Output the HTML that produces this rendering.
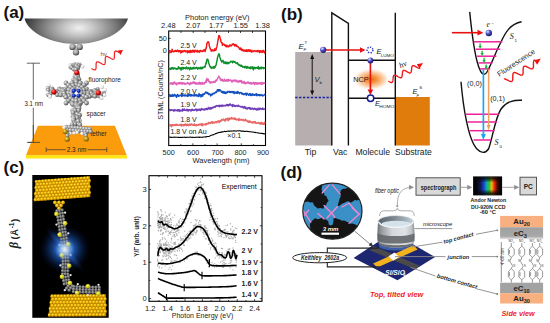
<!DOCTYPE html>
<html><head><meta charset="utf-8"><style>
html,body{margin:0;padding:0;background:#fff;}
svg{display:block;}
text{font-family:"Liberation Sans",sans-serif;}
</style></head><body>
<svg width="550" height="323" viewBox="0 0 550 323">
<rect width="550" height="323" fill="#fff"/>
<defs>
<radialGradient id="tipg" cx="79" cy="28" r="56" gradientUnits="userSpaceOnUse" gradientTransform="translate(79 28) scale(1 0.5) translate(-79 -28)">
 <stop offset="0" stop-color="#f0f0f0"/><stop offset="0.25" stop-color="#c8c8c8"/><stop offset="0.6" stop-color="#858585"/><stop offset="0.9" stop-color="#474747"/><stop offset="1" stop-color="#303030"/></radialGradient>
<radialGradient id="atom" cx="0.35" cy="0.35" r="0.7"><stop offset="0" stop-color="#ffffff"/><stop offset="0.5" stop-color="#b8b8b8"/><stop offset="1" stop-color="#606060"/></radialGradient>
<radialGradient id="atomg" cx="0.35" cy="0.35" r="0.7"><stop offset="0" stop-color="#eeeeee"/><stop offset="0.5" stop-color="#9a9a9a"/><stop offset="1" stop-color="#444444"/></radialGradient>
<radialGradient id="atomw" cx="0.35" cy="0.35" r="0.7"><stop offset="0" stop-color="#ffffff"/><stop offset="0.6" stop-color="#e8e8e8"/><stop offset="1" stop-color="#a0a0a0"/></radialGradient>
<radialGradient id="atomt" cx="0.4" cy="0.35" r="0.65"><stop offset="0" stop-color="#d4d4d4"/><stop offset="0.55" stop-color="#9a9a9a"/><stop offset="1" stop-color="#3a3a3a"/></radialGradient>
<radialGradient id="atomy2" cx="0.35" cy="0.35" r="0.7"><stop offset="0" stop-color="#f0e070"/><stop offset="0.5" stop-color="#b89010"/><stop offset="1" stop-color="#705000"/></radialGradient>
<radialGradient id="atomr" cx="0.35" cy="0.35" r="0.7"><stop offset="0" stop-color="#ff9090"/><stop offset="0.5" stop-color="#e01010"/><stop offset="1" stop-color="#800000"/></radialGradient>
<radialGradient id="atomb" cx="0.35" cy="0.35" r="0.7"><stop offset="0" stop-color="#8090ff"/><stop offset="0.5" stop-color="#1030c0"/><stop offset="1" stop-color="#001060"/></radialGradient>
<radialGradient id="atomy" cx="0.38" cy="0.35" r="0.7"><stop offset="0" stop-color="#ffe860"/><stop offset="0.45" stop-color="#f2b800"/><stop offset="1" stop-color="#b07a00"/></radialGradient>
<radialGradient id="atoms" cx="0.38" cy="0.35" r="0.7"><stop offset="0" stop-color="#ffff90"/><stop offset="0.5" stop-color="#d8d020"/><stop offset="1" stop-color="#909000"/></radialGradient>
<radialGradient id="atomc" cx="0.38" cy="0.35" r="0.7"><stop offset="0" stop-color="#b0b0b0"/><stop offset="0.5" stop-color="#767676"/><stop offset="1" stop-color="#353535"/></radialGradient>
<radialGradient id="ball" cx="0.35" cy="0.3" r="0.75"><stop offset="0" stop-color="#e8e8ff"/><stop offset="0.45" stop-color="#5050c8"/><stop offset="1" stop-color="#101060"/></radialGradient>
<radialGradient id="ncp" cx="0.55" cy="0.5" r="0.5"><stop offset="0" stop-color="#f06a00" stop-opacity="1"/><stop offset="0.35" stop-color="#f58a30" stop-opacity="0.85"/><stop offset="0.7" stop-color="#f8b070" stop-opacity="0.55"/><stop offset="1" stop-color="#fde0c8" stop-opacity="0"/></radialGradient>
<radialGradient id="glow" cx="0.5" cy="0.5" r="0.5"><stop offset="0" stop-color="#80c0ff"/><stop offset="0.3" stop-color="#2a70d8" stop-opacity="0.85"/><stop offset="0.65" stop-color="#103880" stop-opacity="0.45"/><stop offset="1" stop-color="#000010" stop-opacity="0"/></radialGradient>
<radialGradient id="glow2" cx="0.5" cy="0.5" r="0.5"><stop offset="0" stop-color="#5090f0" stop-opacity="0.6"/><stop offset="0.6" stop-color="#2050b0" stop-opacity="0.3"/><stop offset="1" stop-color="#102050" stop-opacity="0"/></radialGradient>
<radialGradient id="glowc" cx="0.5" cy="0.5" r="0.5"><stop offset="0" stop-color="#ffffff" stop-opacity="0.9"/><stop offset="0.4" stop-color="#c8e8ff" stop-opacity="0.6"/><stop offset="1" stop-color="#60a0ff" stop-opacity="0"/></radialGradient>
<linearGradient id="cyl" x1="0" x2="1" y1="0" y2="0"><stop offset="0" stop-color="#707478"/><stop offset="0.12" stop-color="#9a9ea2"/><stop offset="0.4" stop-color="#d4d8dc"/><stop offset="0.75" stop-color="#dfe3e6"/><stop offset="0.92" stop-color="#c0c4c8"/><stop offset="1" stop-color="#8a8e92"/></linearGradient>
<linearGradient id="objtop" x1="0" x2="1" y1="0" y2="0"><stop offset="0" stop-color="#5a646c"/><stop offset="0.45" stop-color="#7e8890"/><stop offset="0.8" stop-color="#a8b4bc"/><stop offset="1" stop-color="#c8d4dc"/></linearGradient>
<linearGradient id="spec" x1="0" x2="1" y1="0" y2="0"><stop offset="0" stop-color="#050505"/><stop offset="0.18" stop-color="#101850"/><stop offset="0.32" stop-color="#1840d0"/><stop offset="0.45" stop-color="#10b0a0"/><stop offset="0.55" stop-color="#30c030"/><stop offset="0.65" stop-color="#e8c000"/><stop offset="0.76" stop-color="#f03010"/><stop offset="0.88" stop-color="#501000"/><stop offset="1" stop-color="#050505"/></linearGradient>
<linearGradient id="specv" x1="0" x2="0" y1="0" y2="1"><stop offset="0" stop-color="#050505" stop-opacity="1"/><stop offset="0.3" stop-color="#050505" stop-opacity="0"/><stop offset="0.7" stop-color="#050505" stop-opacity="0"/><stop offset="1" stop-color="#050505" stop-opacity="1"/></linearGradient>
<marker id="arrR" markerWidth="6" markerHeight="6" refX="5" refY="3" orient="auto" markerUnits="userSpaceOnUse"><path d="M0,0 L6,3 L0,6 z" fill="#e01010"/></marker>
<marker id="arrK" markerWidth="5" markerHeight="5" refX="4" refY="2.5" orient="auto" markerUnits="userSpaceOnUse"><path d="M0,0 L5,2.5 L0,5 z" fill="#000"/></marker>
<marker id="arrG" markerWidth="5" markerHeight="5" refX="4" refY="2.5" orient="auto" markerUnits="userSpaceOnUse"><path d="M0,0 L5,2.5 L0,5 z" fill="#909090"/></marker>
<marker id="arrC" markerWidth="5" markerHeight="5" refX="4" refY="2.5" orient="auto" markerUnits="userSpaceOnUse"><path d="M0,0 L5,2.5 L0,5 z" fill="#20a8f0"/></marker>
<marker id="arrO" markerWidth="5" markerHeight="5" refX="4" refY="2.5" orient="auto" markerUnits="userSpaceOnUse"><path d="M0,0 L5,2.5 L0,5 z" fill="#f0a060"/></marker>
<marker id="arrGr" markerWidth="4" markerHeight="4" refX="3" refY="2" orient="auto" markerUnits="userSpaceOnUse"><path d="M0,0 L4,2 L0,4 z" fill="#10b030"/></marker>
</defs>
<text x="3.5" y="17.9" font-size="17" text-anchor="start" font-weight="bold" fill="#111" >(a)</text>
<path d="M24.5,18.5 L128,18.5 C124,33 100,44 76,44 C52,44 28,33 24.5,18.5 Z" fill="url(#tipg)"/>
<circle cx="72.6" cy="46.9" r="3.2" fill="url(#atomt)"/>
<circle cx="79.6" cy="46.9" r="3.2" fill="url(#atomt)"/>
<circle cx="76" cy="52.3" r="3.2" fill="url(#atomt)"/>
<polyline points="91.50,68.50 91.97,68.77 92.43,69.04 92.88,69.28 93.32,69.50 93.73,69.67 94.11,69.80 94.47,69.88 94.79,69.90 95.07,69.86 95.32,69.75 95.53,69.58 95.70,69.34 95.84,69.04 95.94,68.69 96.01,68.28 96.06,67.83 96.08,67.34 96.09,66.82 96.09,66.29 96.08,65.74 96.08,65.20 96.08,64.67 96.09,64.16 96.12,63.68 96.18,63.25 96.26,62.86 96.37,62.52 96.52,62.24 96.70,62.03 96.93,61.88 97.18,61.79 97.48,61.77 97.81,61.81 98.18,61.90 98.57,62.05 98.99,62.24 99.43,62.46 99.89,62.71 100.35,62.98 100.82,63.26 101.29,63.53 101.75,63.79 102.20,64.02 102.62,64.23 103.03,64.39 103.40,64.50 103.75,64.56 104.05,64.56 104.33,64.49 104.56,64.36 104.76,64.17 104.92,63.91 105.04,63.60 105.13,63.22 105.20,62.80 105.24,62.34 105.25,61.84 105.26,61.31 105.25,60.77 105.25,60.23 105.24,59.69 105.25,59.16 105.26,58.66 105.30,58.20 105.37,57.78 105.46,57.40 105.58,57.09 105.74,56.83 105.94,56.64 106.17,56.51 106.45,56.44 106.75,56.44 107.10,56.50 107.47,56.61 107.88,56.77 108.30,56.98 108.75,57.21 109.21,57.47 109.68,57.74 110.15,58.02 110.61,58.29 111.07,58.54 111.51,58.76 111.93,58.95 112.32,59.10 112.69,59.19 113.02,59.23 113.32,59.21 113.57,59.12 113.80,58.97 113.98,58.76 114.13,58.48 114.24,58.14 114.32,57.75 114.38,57.32 114.41,56.84 114.42,56.33 114.42,55.80 114.42,55.26 114.41,54.71 114.41,54.18 114.42,53.66 114.44,53.17 114.49,52.72 114.56,52.31 114.66,51.96 114.80,51.66 114.97,51.42 115.18,51.25 115.43,51.14 115.71,51.10 116.03,51.12 116.39,51.20 116.77,51.33 117.18,51.50 117.62,51.72 118.07,51.96 118.53,52.23 119.00,52.50" fill="none" stroke="#f02020" stroke-width="1.2" stroke-linejoin="round" />
<path d="M117.5,50.5 L123,50 L120.5,55 Z" fill="#f01010"/>
<text x="100.5" y="55.5" font-size="6" text-anchor="start" fill="#555" >h&#957;</text>
<g stroke="#333" stroke-width="0.75"><line x1="33.3" y1="63.2" x2="33.3" y2="142.4"/><line x1="26.8" y1="63.2" x2="40" y2="63.2"/><line x1="27.4" y1="142.4" x2="40" y2="142.4"/></g>
<rect x="23.5" y="99.6" width="21" height="8.1" fill="#fff"/>
<text x="24.5" y="105.8" font-size="6.5" text-anchor="start" fill="#222" textLength="18.6" lengthAdjust="spacingAndGlyphs">3.1 nm</text>
<path d="M37.9,125.7 L114.9,125.7 L126.8,155.5 L25.9,155.5 Z" fill="#fb9c0c"/>
<path d="M25.9,155.3 L126.9,155.3 L126.9,158.6 L25.9,158.6 Z" fill="#ffe414"/>
<g stroke="#333" stroke-width="0.75"><line x1="33.3" y1="125" x2="33.3" y2="142.4"/><line x1="27.4" y1="142.4" x2="40" y2="142.4"/></g>
<g stroke="#333" stroke-width="0.7"><line x1="46.2" y1="149.7" x2="65.8" y2="149.7"/><line x1="87.6" y1="149.7" x2="106.8" y2="149.7"/><line x1="46.2" y1="147.3" x2="46.2" y2="152.1"/><line x1="106.8" y1="147.3" x2="106.8" y2="152.1"/></g>
<text x="76.5" y="152" font-size="6.4" text-anchor="middle" fill="#222" >2.3 nm</text>
<text x="88.5" y="81.8" font-size="6.4" text-anchor="start" fill="#222" >fluorophore</text>
<text x="86.5" y="115.6" font-size="6.4" text-anchor="start" fill="#222" >spacer</text>
<text x="90.5" y="136.4" font-size="6.3" text-anchor="start" fill="#222" >tether</text>
<circle cx="74.0" cy="63.5" r="1.9" fill="url(#atomw)"/>
<circle cx="79.0" cy="63.5" r="1.9" fill="url(#atomw)"/>
<circle cx="74.7" cy="64.5" r="2.1" fill="url(#atomg)"/>
<circle cx="77.5" cy="64.7" r="2.1" fill="url(#atomg)"/>
<circle cx="80.0" cy="65.3" r="2.1" fill="url(#atomg)"/>
<circle cx="73.0" cy="65.4" r="2.1" fill="url(#atomg)"/>
<circle cx="70.6" cy="65.6" r="2.1" fill="url(#atomg)"/>
<circle cx="78.5" cy="65.6" r="2.1" fill="url(#atomg)"/>
<circle cx="76.2" cy="65.9" r="2.1" fill="url(#atomg)"/>
<circle cx="70.0" cy="66.0" r="1.9" fill="url(#atomw)"/>
<circle cx="82.5" cy="66.5" r="1.9" fill="url(#atomw)"/>
<circle cx="77.7" cy="67.3" r="2.1" fill="url(#atomg)"/>
<circle cx="70.9" cy="67.3" r="2.1" fill="url(#atomg)"/>
<circle cx="71.6" cy="67.5" r="2.1" fill="url(#atomg)"/>
<circle cx="77.9" cy="68.6" r="2.1" fill="url(#atomg)"/>
<circle cx="76.4" cy="69.2" r="2.1" fill="url(#atomg)"/>
<circle cx="73.6" cy="69.3" r="2.1" fill="url(#atomg)"/>
<circle cx="75.9" cy="69.5" r="2.1" fill="url(#atomg)"/>
<circle cx="77.8" cy="74.8" r="2.2" fill="url(#atomg)"/>
<circle cx="75.2" cy="75.2" r="2.2" fill="url(#atomg)"/>
<circle cx="74.9" cy="76.6" r="2.2" fill="url(#atomg)"/>
<circle cx="77.9" cy="76.7" r="2.2" fill="url(#atomg)"/>
<circle cx="76.3" cy="77.4" r="2.2" fill="url(#atomg)"/>
<circle cx="79.0" cy="79.3" r="2.2" fill="url(#atomg)"/>
<circle cx="73.5" cy="79.6" r="2.2" fill="url(#atomg)"/>
<circle cx="75.2" cy="80.0" r="2.2" fill="url(#atomg)"/>
<circle cx="76.9" cy="80.2" r="2.2" fill="url(#atomg)"/>
<circle cx="76.9" cy="80.9" r="2.2" fill="url(#atomg)"/>
<circle cx="76.0" cy="81.0" r="2.4" fill="url(#atomg)"/>
<circle cx="76.2" cy="82.0" r="2.4" fill="url(#atomg)"/>
<circle cx="72.0" cy="82.8" r="2.4" fill="url(#atomg)"/>
<circle cx="80.4" cy="82.8" r="2.4" fill="url(#atomg)"/>
<circle cx="66.0" cy="83.0" r="2.4" fill="url(#atomg)"/>
<circle cx="86.5" cy="83.0" r="2.4" fill="url(#atomg)"/>
<circle cx="76.2" cy="85.0" r="2.4" fill="url(#atomg)"/>
<circle cx="68.4" cy="85.2" r="2.4" fill="url(#atomg)"/>
<circle cx="84.0" cy="85.2" r="2.4" fill="url(#atomg)"/>
<circle cx="49.0" cy="85.5" r="1.9" fill="url(#atomw)"/>
<circle cx="73.1" cy="85.6" r="2.4" fill="url(#atomg)"/>
<circle cx="79.3" cy="85.6" r="2.4" fill="url(#atomg)"/>
<circle cx="102.0" cy="87.0" r="1.9" fill="url(#atomw)"/>
<circle cx="70.5" cy="87.3" r="2.4" fill="url(#atomg)"/>
<circle cx="81.9" cy="87.3" r="2.4" fill="url(#atomg)"/>
<circle cx="76.2" cy="88.0" r="2.4" fill="url(#atomg)"/>
<circle cx="46.5" cy="88.0" r="1.9" fill="url(#atomw)"/>
<circle cx="48.2" cy="88.1" r="2.0" fill="url(#atomg)"/>
<circle cx="74.3" cy="88.4" r="2.4" fill="url(#atomg)"/>
<circle cx="78.1" cy="88.4" r="2.4" fill="url(#atomg)"/>
<circle cx="52.4" cy="88.6" r="2.0" fill="url(#atomg)"/>
<circle cx="59.6" cy="88.8" r="2.2" fill="url(#atomg)"/>
<circle cx="86.4" cy="88.8" r="2.4" fill="url(#atomg)"/>
<circle cx="66.0" cy="88.8" r="2.4" fill="url(#atomg)"/>
<circle cx="97.6" cy="88.9" r="2.0" fill="url(#atomg)"/>
<circle cx="51.3" cy="89.2" r="2.0" fill="url(#atomg)"/>
<circle cx="61.1" cy="89.2" r="2.2" fill="url(#atomg)"/>
<circle cx="58.9" cy="89.2" r="2.2" fill="url(#atomg)"/>
<circle cx="62.1" cy="89.2" r="2.2" fill="url(#atomg)"/>
<circle cx="72.7" cy="89.5" r="2.4" fill="url(#atomg)"/>
<circle cx="79.7" cy="89.5" r="2.4" fill="url(#atomg)"/>
<circle cx="64.7" cy="89.7" r="2.2" fill="url(#atomg)"/>
<circle cx="60.0" cy="89.9" r="2.2" fill="url(#atomg)"/>
<circle cx="68.8" cy="89.9" r="2.4" fill="url(#atomg)"/>
<circle cx="83.6" cy="89.9" r="2.4" fill="url(#atomg)"/>
<circle cx="105.0" cy="90.0" r="1.9" fill="url(#atomw)"/>
<circle cx="95.3" cy="90.1" r="2.2" fill="url(#atomg)"/>
<circle cx="48.2" cy="90.3" r="2.0" fill="url(#atomg)"/>
<circle cx="52.6" cy="90.4" r="2.0" fill="url(#atomg)"/>
<circle cx="62.0" cy="90.4" r="2.2" fill="url(#atomg)"/>
<circle cx="94.5" cy="90.8" r="2.2" fill="url(#atomg)"/>
<circle cx="63.3" cy="91.0" r="2.2" fill="url(#atomg)"/>
<circle cx="71.6" cy="91.1" r="2.4" fill="url(#atomg)"/>
<circle cx="80.8" cy="91.1" r="2.4" fill="url(#atomg)"/>
<circle cx="56.5" cy="91.1" r="2.2" fill="url(#atomg)"/>
<circle cx="91.1" cy="91.2" r="2.2" fill="url(#atomg)"/>
<circle cx="51.4" cy="91.7" r="2.0" fill="url(#atomg)"/>
<circle cx="95.9" cy="91.8" r="2.2" fill="url(#atomg)"/>
<circle cx="89.6" cy="91.8" r="2.2" fill="url(#atomg)"/>
<circle cx="98.7" cy="91.9" r="2.0" fill="url(#atomg)"/>
<circle cx="89.8" cy="91.9" r="2.2" fill="url(#atomg)"/>
<circle cx="51.7" cy="91.9" r="2.0" fill="url(#atomg)"/>
<circle cx="96.5" cy="92.2" r="2.0" fill="url(#atomg)"/>
<circle cx="96.6" cy="92.6" r="2.2" fill="url(#atomg)"/>
<circle cx="64.8" cy="92.7" r="2.2" fill="url(#atomg)"/>
<circle cx="55.1" cy="92.8" r="2.0" fill="url(#atomg)"/>
<circle cx="59.3" cy="92.8" r="2.2" fill="url(#atomg)"/>
<circle cx="103.8" cy="92.9" r="2.0" fill="url(#atomg)"/>
<circle cx="55.7" cy="92.9" r="2.0" fill="url(#atomg)"/>
<circle cx="87.2" cy="93.0" r="2.4" fill="url(#atomg)"/>
<circle cx="84.2" cy="93.0" r="2.4" fill="url(#atomg)"/>
<circle cx="81.2" cy="93.0" r="2.4" fill="url(#atomg)"/>
<circle cx="65.2" cy="93.0" r="2.4" fill="url(#atomg)"/>
<circle cx="68.2" cy="93.0" r="2.4" fill="url(#atomg)"/>
<circle cx="71.2" cy="93.0" r="2.4" fill="url(#atomg)"/>
<circle cx="64.0" cy="93.0" r="2.4" fill="url(#atomg)"/>
<circle cx="88.5" cy="93.0" r="2.4" fill="url(#atomg)"/>
<circle cx="47.0" cy="93.0" r="1.9" fill="url(#atomw)"/>
<circle cx="61.4" cy="93.1" r="2.2" fill="url(#atomg)"/>
<circle cx="95.1" cy="93.1" r="2.2" fill="url(#atomg)"/>
<circle cx="91.2" cy="93.2" r="2.2" fill="url(#atomg)"/>
<circle cx="63.9" cy="93.3" r="2.2" fill="url(#atomg)"/>
<circle cx="101.9" cy="93.4" r="2.0" fill="url(#atomg)"/>
<circle cx="96.5" cy="93.6" r="2.2" fill="url(#atomg)"/>
<circle cx="50.6" cy="93.8" r="2.0" fill="url(#atomg)"/>
<circle cx="88.1" cy="94.0" r="2.2" fill="url(#atomg)"/>
<circle cx="93.3" cy="94.5" r="2.2" fill="url(#atomg)"/>
<circle cx="101.4" cy="94.6" r="2.0" fill="url(#atomg)"/>
<circle cx="57.2" cy="94.8" r="2.2" fill="url(#atomg)"/>
<circle cx="48.3" cy="94.9" r="2.0" fill="url(#atomg)"/>
<circle cx="80.8" cy="94.9" r="2.4" fill="url(#atomg)"/>
<circle cx="71.6" cy="94.9" r="2.4" fill="url(#atomg)"/>
<circle cx="60.6" cy="95.0" r="2.2" fill="url(#atomg)"/>
<circle cx="104.5" cy="95.0" r="1.9" fill="url(#atomw)"/>
<circle cx="88.0" cy="95.0" r="2.2" fill="url(#atomg)"/>
<circle cx="64.5" cy="95.2" r="2.2" fill="url(#atomg)"/>
<circle cx="49.5" cy="95.4" r="2.0" fill="url(#atomg)"/>
<circle cx="98.0" cy="95.4" r="2.0" fill="url(#atomg)"/>
<circle cx="91.8" cy="95.5" r="2.2" fill="url(#atomg)"/>
<circle cx="99.4" cy="96.0" r="2.0" fill="url(#atomg)"/>
<circle cx="83.6" cy="96.1" r="2.4" fill="url(#atomg)"/>
<circle cx="68.8" cy="96.1" r="2.4" fill="url(#atomg)"/>
<circle cx="100.2" cy="96.1" r="2.0" fill="url(#atomg)"/>
<circle cx="94.9" cy="96.3" r="2.2" fill="url(#atomg)"/>
<circle cx="99.3" cy="96.3" r="2.0" fill="url(#atomg)"/>
<circle cx="89.4" cy="96.5" r="2.2" fill="url(#atomg)"/>
<circle cx="50.0" cy="96.5" r="1.9" fill="url(#atomw)"/>
<circle cx="79.7" cy="96.5" r="2.4" fill="url(#atomg)"/>
<circle cx="72.7" cy="96.5" r="2.4" fill="url(#atomg)"/>
<circle cx="100.2" cy="96.6" r="2.0" fill="url(#atomg)"/>
<circle cx="101.0" cy="96.8" r="2.0" fill="url(#atomg)"/>
<circle cx="86.4" cy="97.2" r="2.4" fill="url(#atomg)"/>
<circle cx="66.0" cy="97.2" r="2.4" fill="url(#atomg)"/>
<circle cx="78.1" cy="97.6" r="2.4" fill="url(#atomg)"/>
<circle cx="74.3" cy="97.6" r="2.4" fill="url(#atomg)"/>
<circle cx="76.2" cy="98.0" r="2.4" fill="url(#atomg)"/>
<circle cx="101.5" cy="98.0" r="1.9" fill="url(#atomw)"/>
<circle cx="81.9" cy="98.7" r="2.4" fill="url(#atomg)"/>
<circle cx="70.5" cy="98.7" r="2.4" fill="url(#atomg)"/>
<circle cx="79.3" cy="100.4" r="2.4" fill="url(#atomg)"/>
<circle cx="73.1" cy="100.4" r="2.4" fill="url(#atomg)"/>
<circle cx="84.0" cy="100.8" r="2.4" fill="url(#atomg)"/>
<circle cx="68.4" cy="100.8" r="2.4" fill="url(#atomg)"/>
<circle cx="76.2" cy="101.0" r="2.4" fill="url(#atomg)"/>
<circle cx="66.0" cy="103.0" r="2.4" fill="url(#atomg)"/>
<circle cx="86.5" cy="103.0" r="2.4" fill="url(#atomg)"/>
<circle cx="80.4" cy="103.2" r="2.4" fill="url(#atomg)"/>
<circle cx="72.0" cy="103.2" r="2.4" fill="url(#atomg)"/>
<circle cx="76.2" cy="104.0" r="2.4" fill="url(#atomg)"/>
<circle cx="72.7" cy="104.4" r="2.3" fill="url(#atomg)"/>
<circle cx="76.8" cy="104.8" r="2.3" fill="url(#atomg)"/>
<circle cx="79.4" cy="105.0" r="2.3" fill="url(#atomg)"/>
<circle cx="76.0" cy="105.0" r="2.4" fill="url(#atomg)"/>
<circle cx="78.9" cy="105.1" r="2.3" fill="url(#atomg)"/>
<circle cx="77.1" cy="106.0" r="2.3" fill="url(#atomg)"/>
<circle cx="78.8" cy="106.4" r="2.3" fill="url(#atomg)"/>
<circle cx="78.0" cy="106.4" r="2.3" fill="url(#atomg)"/>
<circle cx="77.3" cy="107.9" r="2.3" fill="url(#atomg)"/>
<circle cx="77.1" cy="108.0" r="2.3" fill="url(#atomg)"/>
<circle cx="79.1" cy="108.1" r="2.3" fill="url(#atomg)"/>
<circle cx="74.4" cy="109.2" r="2.3" fill="url(#atomg)"/>
<circle cx="72.0" cy="110.0" r="1.8" fill="url(#atomw)"/>
<circle cx="72.7" cy="110.5" r="2.3" fill="url(#atomg)"/>
<circle cx="78.5" cy="110.6" r="2.3" fill="url(#atomg)"/>
<circle cx="75.0" cy="110.7" r="2.3" fill="url(#atomg)"/>
<circle cx="73.0" cy="112.6" r="2.3" fill="url(#atomg)"/>
<circle cx="80.5" cy="114.0" r="1.8" fill="url(#atomw)"/>
<circle cx="77.0" cy="114.1" r="2.3" fill="url(#atomg)"/>
<circle cx="79.1" cy="115.0" r="2.3" fill="url(#atomg)"/>
<circle cx="79.5" cy="115.3" r="2.3" fill="url(#atomg)"/>
<circle cx="73.9" cy="115.9" r="2.3" fill="url(#atomg)"/>
<circle cx="72.8" cy="116.4" r="2.3" fill="url(#atomg)"/>
<circle cx="73.3" cy="117.2" r="2.3" fill="url(#atomg)"/>
<circle cx="76.0" cy="117.2" r="2.3" fill="url(#atomg)"/>
<circle cx="77.5" cy="117.3" r="2.3" fill="url(#atomg)"/>
<circle cx="76.8" cy="117.4" r="2.3" fill="url(#atomg)"/>
<circle cx="78.6" cy="117.8" r="2.3" fill="url(#atomg)"/>
<circle cx="77.0" cy="117.8" r="2.3" fill="url(#atomg)"/>
<circle cx="73.7" cy="118.2" r="2.3" fill="url(#atomg)"/>
<circle cx="72.5" cy="119.0" r="1.8" fill="url(#atomw)"/>
<circle cx="73.5" cy="120.1" r="2.3" fill="url(#atomg)"/>
<circle cx="79.0" cy="120.7" r="2.3" fill="url(#atomg)"/>
<circle cx="79.4" cy="120.8" r="2.3" fill="url(#atomg)"/>
<circle cx="80.0" cy="121.0" r="1.8" fill="url(#atomw)"/>
<circle cx="78.2" cy="121.1" r="2.3" fill="url(#atomg)"/>
<circle cx="74.1" cy="123.2" r="2.3" fill="url(#atomg)"/>
<circle cx="76.0" cy="124.0" r="2.2" fill="url(#atomg)"/>
<circle cx="78.5" cy="124.2" r="2.3" fill="url(#atomg)"/>
<circle cx="74.8" cy="124.2" r="2.3" fill="url(#atomg)"/>
<circle cx="72.0" cy="124.5" r="2.2" fill="url(#atomg)"/>
<circle cx="80.0" cy="124.8" r="2.2" fill="url(#atomg)"/>
<circle cx="66.5" cy="127.0" r="2.2" fill="url(#atomg)"/>
<circle cx="69.4" cy="127.2" r="2.2" fill="url(#atomg)"/>
<circle cx="72.3" cy="127.5" r="2.2" fill="url(#atomg)"/>
<circle cx="64.0" cy="127.5" r="1.8" fill="url(#atomw)"/>
<circle cx="75.2" cy="127.8" r="2.2" fill="url(#atomg)"/>
<circle cx="78.1" cy="128.0" r="2.2" fill="url(#atomg)"/>
<circle cx="81.0" cy="128.2" r="2.2" fill="url(#atomg)"/>
<circle cx="83.9" cy="128.5" r="2.2" fill="url(#atomg)"/>
<circle cx="90.5" cy="128.5" r="1.8" fill="url(#atomw)"/>
<circle cx="86.8" cy="128.8" r="2.2" fill="url(#atomg)"/>
<circle cx="89.7" cy="129.0" r="2.2" fill="url(#atomg)"/>
<circle cx="67.5" cy="130.0" r="2.1" fill="url(#atomg)"/>
<circle cx="70.4" cy="130.2" r="2.1" fill="url(#atomg)"/>
<circle cx="73.3" cy="130.4" r="2.1" fill="url(#atomg)"/>
<circle cx="76.2" cy="130.6" r="2.1" fill="url(#atomg)"/>
<circle cx="79.1" cy="130.8" r="2.1" fill="url(#atomg)"/>
<circle cx="82.0" cy="131.0" r="2.1" fill="url(#atomg)"/>
<circle cx="84.9" cy="131.2" r="2.1" fill="url(#atomg)"/>
<circle cx="87.8" cy="131.4" r="2.1" fill="url(#atomg)"/>
<circle cx="88.0" cy="131.5" r="2.0" fill="url(#atomg)"/>
<circle cx="90.7" cy="131.6" r="2.1" fill="url(#atomg)"/>
<circle cx="77.0" cy="132.5" r="1.8" fill="url(#atomw)"/>
<circle cx="74.0" cy="133.0" r="1.8" fill="url(#atomw)"/>
<circle cx="70.0" cy="133.2" r="1.8" fill="url(#atomw)"/>
<circle cx="67.5" cy="133.5" r="2.0" fill="url(#atomg)"/>
<circle cx="85.5" cy="133.5" r="2.0" fill="url(#atomg)"/>
<circle cx="82.0" cy="133.5" r="1.8" fill="url(#atomw)"/>
<circle cx="67.3" cy="135.6" r="2.0" fill="url(#atomg)"/>
<circle cx="86.0" cy="135.6" r="2.0" fill="url(#atomg)"/>
<circle cx="73.8" cy="90.8" r="2.1" fill="url(#atomb)"/>
<circle cx="78.6" cy="90.8" r="2.1" fill="url(#atomb)"/>
<circle cx="73.8" cy="95.6" r="2.1" fill="url(#atomb)"/>
<circle cx="78.6" cy="95.6" r="2.1" fill="url(#atomb)"/>
<circle cx="76.2" cy="93.2" r="1.2" fill="#fff"/>
<circle cx="76.8" cy="72.5" r="2.6" fill="url(#atomr)"/>
<circle cx="54" cy="91.8" r="2.6" fill="url(#atomr)"/>
<circle cx="98.3" cy="92.8" r="2.6" fill="url(#atomr)"/>
<circle cx="65.2" cy="131.6" r="2.6" fill="url(#atomy2)"/>
<circle cx="67.2" cy="139.2" r="2.6" fill="url(#atomy2)"/>
<circle cx="86.3" cy="138.9" r="2.6" fill="url(#atomy2)"/>
<rect x="168.7" y="31" width="96.80000000000001" height="114.5" fill="none" stroke="#000" stroke-width="1.1"/>
<g stroke="#000" stroke-width="0.7"><line x1="180.8" y1="145.5" x2="180.8" y2="144.1"/><line x1="192.9" y1="145.5" x2="192.9" y2="143.3"/><line x1="205.0" y1="145.5" x2="205.0" y2="144.1"/><line x1="217.1" y1="145.5" x2="217.1" y2="143.3"/><line x1="229.2" y1="145.5" x2="229.2" y2="144.1"/><line x1="241.3" y1="145.5" x2="241.3" y2="143.3"/><line x1="253.4" y1="145.5" x2="253.4" y2="144.1"/><line x1="181" y1="31" x2="181" y2="33"/><line x1="193.2" y1="31" x2="193.2" y2="33"/><line x1="205" y1="31" x2="205" y2="33"/><line x1="216.5" y1="31" x2="216.5" y2="33"/><line x1="228.5" y1="31" x2="228.5" y2="33"/><line x1="240.5" y1="31" x2="240.5" y2="33"/><line x1="252.5" y1="31" x2="252.5" y2="33"/><line x1="168.7" y1="38.4" x2="170.7" y2="38.4"/><line x1="168.7" y1="50.9" x2="170.7" y2="50.9"/></g>
<text x="168.7" y="155.3" font-size="7.3" text-anchor="middle" fill="#222" >500</text>
<text x="193.2" y="155.3" font-size="7.3" text-anchor="middle" fill="#222" >600</text>
<text x="217.6" y="155.3" font-size="7.3" text-anchor="middle" fill="#222" >700</text>
<text x="240.6" y="155.3" font-size="7.3" text-anchor="middle" fill="#222" >800</text>
<text x="263" y="155.3" font-size="7.3" text-anchor="middle" fill="#222" >900</text>
<text x="221" y="163.4" font-size="7.55" text-anchor="middle" fill="#222" >Wavelength (nm)</text>
<text x="168.4" y="27.8" font-size="7.5" text-anchor="middle" fill="#222" >2.48</text>
<text x="193.2" y="27.8" font-size="7.5" text-anchor="middle" fill="#222" >2.07</text>
<text x="216.4" y="27.8" font-size="7.5" text-anchor="middle" fill="#222" >1.77</text>
<text x="240.7" y="27.8" font-size="7.5" text-anchor="middle" fill="#222" >1.55</text>
<text x="262.6" y="27.8" font-size="7.5" text-anchor="middle" fill="#222" >1.38</text>
<text x="217.3" y="20.2" font-size="7.45" text-anchor="middle" fill="#222" >Photon energy (eV)</text>
<text x="166.8" y="41" font-size="7.3" text-anchor="end" fill="#222" >50</text>
<text x="166.8" y="53.4" font-size="7.3" text-anchor="end" fill="#222" >0</text>
<text x="0" y="0" font-size="7.2" text-anchor="middle" fill="#222" transform="translate(163 90) rotate(-90)">STML (Counts/nC)</text>
<polyline points="169.20,49.98 169.52,52.74 169.84,50.95 170.16,51.55 170.48,51.48 170.80,51.34 171.12,52.42 171.44,51.35 171.76,51.73 172.08,49.22 172.40,51.08 172.72,51.43 173.04,51.39 173.37,51.62 173.69,51.86 174.01,51.46 174.33,50.94 174.65,51.37 174.97,50.66 175.29,51.35 175.61,51.22 175.93,50.31 176.25,50.91 176.57,51.54 176.89,51.35 177.21,50.92 177.53,50.08 177.85,51.41 178.17,51.39 178.49,50.64 178.81,51.78 179.13,51.42 179.45,50.72 179.77,50.90 180.09,51.20 180.41,50.85 180.73,52.95 181.05,50.64 181.38,51.83 181.70,52.26 182.02,51.09 182.34,50.84 182.66,51.53 182.98,51.91 183.30,51.25 183.62,51.29 183.94,50.42 184.26,50.82 184.58,51.15 184.90,50.60 185.22,51.39 185.54,51.82 185.86,50.92 186.18,50.92 186.50,51.40 186.82,51.74 187.14,51.13 187.46,52.76 187.78,50.85 188.10,50.97 188.42,52.25 188.74,51.23 189.06,51.84 189.39,50.81 189.71,52.48 190.03,51.81 190.35,50.83 190.67,50.56 190.99,52.55 191.31,51.55 191.63,51.06 191.95,51.62 192.27,50.29 192.59,51.96 192.91,51.03 193.23,51.87 193.55,50.39 193.87,51.25 194.19,51.46 194.51,52.26 194.83,50.22 195.15,50.77 195.47,50.76 195.79,50.53 196.11,51.00 196.43,51.59 196.75,51.68 197.07,51.67 197.40,50.36 197.72,52.06 198.04,51.53 198.36,51.36 198.68,51.02 199.00,50.81 199.32,51.89 199.64,52.17 199.96,51.13 200.28,50.39 200.60,50.66 200.92,50.97 201.24,51.28 201.56,50.91 201.88,51.22 202.20,50.57 202.52,51.53 202.84,50.96 203.16,51.09 203.48,50.68 203.80,50.84 204.12,49.39 204.44,49.92 204.76,49.74 205.08,51.55 205.41,50.02 205.73,49.41 206.05,47.67 206.37,48.03 206.69,44.45 207.01,43.01 207.33,43.15 207.65,42.14 207.97,41.82 208.29,41.75 208.61,42.39 208.93,42.91 209.25,45.76 209.57,46.60 209.89,48.16 210.21,48.11 210.53,49.34 210.85,49.36 211.17,51.05 211.49,50.62 211.81,51.04 212.13,49.66 212.45,50.15 212.77,50.70 213.09,50.76 213.42,50.16 213.74,50.82 214.06,50.90 214.38,49.99 214.70,48.71 215.02,50.21 215.34,50.22 215.66,50.33 215.98,50.03 216.30,48.31 216.62,47.23 216.94,46.49 217.26,44.67 217.58,42.84 217.90,40.67 218.22,39.55 218.54,37.12 218.86,35.59 219.18,35.70 219.50,35.86 219.82,37.05 220.14,38.15 220.46,38.94 220.78,41.09 221.11,42.08 221.43,42.34 221.75,43.02 222.07,42.76 222.39,45.27 222.71,43.69 223.03,44.66 223.35,44.47 223.67,44.25 223.99,44.32 224.31,44.58 224.63,45.35 224.95,44.71 225.27,46.07 225.59,46.18 225.91,45.79 226.23,46.74 226.55,45.22 226.87,45.97 227.19,45.31 227.51,46.63 227.83,46.80 228.15,46.40 228.47,45.96 228.79,46.64 229.12,45.92 229.44,46.01 229.76,44.87 230.08,46.07 230.40,44.89 230.72,45.74 231.04,45.79 231.36,45.50 231.68,45.67 232.00,44.76 232.32,44.14 232.64,44.60 232.96,44.28 233.28,43.66 233.60,44.48 233.92,44.55 234.24,44.89 234.56,45.77 234.88,44.45 235.20,46.08 235.52,44.78 235.84,45.34 236.16,44.84 236.48,45.75 236.80,46.41 237.13,45.92 237.45,46.70 237.77,46.70 238.09,46.81 238.41,47.15 238.73,47.43 239.05,48.05 239.37,47.90 239.69,49.30 240.01,48.34 240.33,49.18 240.65,47.99 240.97,48.10 241.29,50.23 241.61,49.15 241.93,49.48 242.25,50.19 242.57,49.39 242.89,50.12 243.21,51.03 243.53,50.24 243.85,50.28 244.17,50.22 244.49,51.12 244.81,50.09 245.14,50.09 245.46,51.29 245.78,51.06 246.10,50.77 246.42,51.11 246.74,49.77 247.06,50.73 247.38,51.50 247.70,51.41 248.02,51.00 248.34,49.62 248.66,51.13 248.98,50.98 249.30,50.77 249.62,51.13 249.94,49.75 250.26,51.46 250.58,50.72 250.90,51.09 251.22,50.83 251.54,51.93 251.86,50.18 252.18,51.33 252.50,51.25 252.82,51.85 253.15,51.74 253.47,50.98 253.79,50.74 254.11,50.89 254.43,50.63 254.75,50.94 255.07,51.37 255.39,50.89 255.71,51.05 256.03,51.48 256.35,50.99 256.67,50.67 256.99,51.31 257.31,51.68 257.63,51.04 257.95,50.34 258.27,51.62 258.59,51.56 258.91,51.59 259.23,50.79 259.55,52.63 259.87,51.32 260.19,50.83 260.51,52.04 260.83,50.67 261.16,51.25 261.48,51.90 261.80,51.46 262.12,52.51 262.44,51.93 262.76,50.50 263.08,52.14 263.40,50.51 263.72,51.67 264.04,51.03 264.36,51.60 264.68,52.98 265.00,51.98" fill="none" stroke="#f01818" stroke-width="1.45" stroke-linejoin="round" />
<polyline points="169.20,68.28 169.52,69.09 169.84,69.20 170.16,68.18 170.48,68.78 170.80,69.41 171.12,68.80 171.44,67.87 171.76,68.67 172.08,67.83 172.40,67.47 172.72,68.37 173.04,69.06 173.37,69.17 173.69,68.40 174.01,67.85 174.33,68.22 174.65,68.05 174.97,68.65 175.29,68.20 175.61,68.66 175.93,68.57 176.25,69.15 176.57,69.32 176.89,68.66 177.21,69.04 177.53,68.95 177.85,67.97 178.17,68.43 178.49,66.62 178.81,67.81 179.13,68.74 179.45,67.90 179.77,68.15 180.09,68.77 180.41,67.70 180.73,68.82 181.05,70.19 181.38,67.88 181.70,68.72 182.02,67.46 182.34,68.74 182.66,69.06 182.98,67.42 183.30,68.99 183.62,68.22 183.94,67.47 184.26,68.27 184.58,68.39 184.90,68.27 185.22,67.83 185.54,68.82 185.86,67.96 186.18,67.98 186.50,66.92 186.82,68.52 187.14,68.87 187.46,67.88 187.78,68.55 188.10,68.14 188.42,68.23 188.74,67.61 189.06,68.70 189.39,68.36 189.71,69.83 190.03,68.83 190.35,67.37 190.67,68.70 190.99,68.71 191.31,69.01 191.63,67.93 191.95,68.17 192.27,68.98 192.59,67.86 192.91,68.10 193.23,67.80 193.55,68.64 193.87,67.20 194.19,68.00 194.51,68.31 194.83,68.54 195.15,68.37 195.47,67.70 195.79,68.37 196.11,67.56 196.43,67.85 196.75,67.39 197.07,67.70 197.40,68.22 197.72,69.32 198.04,67.99 198.36,67.69 198.68,68.05 199.00,67.81 199.32,68.42 199.64,68.35 199.96,68.68 200.28,67.29 200.60,68.00 200.92,68.38 201.24,68.88 201.56,68.16 201.88,67.19 202.20,67.77 202.52,68.47 202.84,67.16 203.16,67.14 203.48,67.37 203.80,67.42 204.12,67.08 204.44,67.23 204.76,66.72 205.08,67.09 205.41,64.90 205.73,64.59 206.05,62.23 206.37,63.29 206.69,60.37 207.01,59.25 207.33,59.57 207.65,59.21 207.97,59.69 208.29,60.88 208.61,62.86 208.93,63.95 209.25,64.43 209.57,65.21 209.89,66.60 210.21,67.05 210.53,67.24 210.85,66.87 211.17,68.19 211.49,68.37 211.81,67.48 212.13,68.19 212.45,67.85 212.77,67.40 213.09,67.11 213.42,67.98 213.74,66.78 214.06,68.22 214.38,66.70 214.70,67.79 215.02,67.35 215.34,65.81 215.66,65.89 215.98,65.35 216.30,64.10 216.62,62.24 216.94,61.01 217.26,59.31 217.58,56.98 217.90,56.55 218.22,55.30 218.54,54.73 218.86,53.69 219.18,54.29 219.50,55.02 219.82,56.95 220.14,58.20 220.46,58.69 220.78,60.33 221.11,60.27 221.43,60.79 221.75,61.93 222.07,61.73 222.39,61.84 222.71,60.79 223.03,60.32 223.35,61.98 223.67,61.98 223.99,63.43 224.31,62.02 224.63,62.25 224.95,62.99 225.27,61.97 225.59,63.48 225.91,62.75 226.23,62.61 226.55,63.50 226.87,62.28 227.19,62.18 227.51,63.65 227.83,63.65 228.15,62.42 228.47,62.76 228.79,63.41 229.12,62.80 229.44,62.61 229.76,62.56 230.08,61.90 230.40,62.09 230.72,61.19 231.04,61.36 231.36,61.72 231.68,61.44 232.00,61.26 232.32,61.61 232.64,62.77 232.96,61.53 233.28,62.03 233.60,61.15 233.92,62.13 234.24,61.95 234.56,62.17 234.88,61.47 235.20,62.50 235.52,62.90 235.84,62.71 236.16,63.32 236.48,63.13 236.80,63.41 237.13,63.43 237.45,62.63 237.77,64.22 238.09,64.15 238.41,64.49 238.73,64.16 239.05,65.46 239.37,65.36 239.69,65.16 240.01,64.98 240.33,65.52 240.65,65.96 240.97,66.34 241.29,65.66 241.61,65.25 241.93,66.06 242.25,66.27 242.57,66.24 242.89,67.19 243.21,66.92 243.53,66.99 243.85,66.74 244.17,67.02 244.49,67.81 244.81,66.48 245.14,66.20 245.46,67.44 245.78,67.10 246.10,67.22 246.42,66.96 246.74,68.36 247.06,66.54 247.38,67.83 247.70,66.82 248.02,67.56 248.34,67.87 248.66,67.74 248.98,67.14 249.30,68.22 249.62,67.94 249.94,68.03 250.26,68.78 250.58,66.99 250.90,67.44 251.22,67.81 251.54,67.11 251.86,68.40 252.18,67.88 252.50,66.81 252.82,67.27 253.15,69.20 253.47,69.88 253.79,68.51 254.11,67.26 254.43,68.19 254.75,68.04 255.07,67.56 255.39,68.46 255.71,67.81 256.03,67.47 256.35,67.67 256.67,67.72 256.99,68.32 257.31,67.66 257.63,68.23 257.95,67.20 258.27,66.44 258.59,68.44 258.91,69.30 259.23,68.26 259.55,67.78 259.87,67.38 260.19,67.37 260.51,68.49 260.83,68.50 261.16,67.26 261.48,68.68 261.80,67.38 262.12,68.17 262.44,67.58 262.76,67.62 263.08,67.58 263.40,67.55 263.72,68.64 264.04,67.87 264.36,68.04 264.68,67.87 265.00,67.31" fill="none" stroke="#10902c" stroke-width="1.45" stroke-linejoin="round" />
<polyline points="169.20,83.56 169.52,83.83 169.84,83.84 170.16,83.59 170.48,82.95 170.80,83.89 171.12,82.70 171.44,83.23 171.76,83.54 172.08,84.20 172.40,83.25 172.72,82.99 173.04,84.46 173.37,82.68 173.69,82.41 174.01,83.20 174.33,83.10 174.65,81.95 174.97,82.66 175.29,83.94 175.61,83.41 175.93,83.49 176.25,83.49 176.57,84.82 176.89,82.95 177.21,83.78 177.53,83.30 177.85,83.48 178.17,82.88 178.49,83.58 178.81,83.88 179.13,83.08 179.45,82.56 179.77,83.59 180.09,82.58 180.41,83.24 180.73,83.72 181.05,82.48 181.38,83.89 181.70,82.79 182.02,83.70 182.34,83.13 182.66,84.14 182.98,83.90 183.30,82.76 183.62,83.29 183.94,83.38 184.26,83.66 184.58,83.13 184.90,84.24 185.22,84.07 185.54,83.49 185.86,83.90 186.18,83.82 186.50,83.44 186.82,83.48 187.14,83.53 187.46,82.40 187.78,82.79 188.10,82.66 188.42,83.41 188.74,83.70 189.06,84.27 189.39,83.60 189.71,84.64 190.03,83.74 190.35,82.93 190.67,82.42 190.99,82.81 191.31,83.91 191.63,83.09 191.95,83.86 192.27,82.89 192.59,83.45 192.91,82.87 193.23,81.84 193.55,82.82 193.87,81.98 194.19,83.27 194.51,83.57 194.83,82.57 195.15,82.33 195.47,83.70 195.79,83.31 196.11,84.22 196.43,83.47 196.75,82.81 197.07,83.39 197.40,83.68 197.72,84.18 198.04,83.11 198.36,82.84 198.68,82.96 199.00,83.15 199.32,84.06 199.64,82.23 199.96,83.32 200.28,83.36 200.60,82.82 200.92,84.55 201.24,83.28 201.56,83.31 201.88,83.00 202.20,82.40 202.52,82.91 202.84,84.27 203.16,83.36 203.48,83.00 203.80,83.00 204.12,83.79 204.44,83.92 204.76,82.43 205.08,82.30 205.41,82.17 205.73,82.73 206.05,80.08 206.37,82.30 206.69,80.23 207.01,78.34 207.33,79.48 207.65,79.26 207.97,80.36 208.29,79.26 208.61,81.36 208.93,80.95 209.25,81.48 209.57,82.54 209.89,81.63 210.21,83.16 210.53,82.80 210.85,82.43 211.17,82.65 211.49,82.09 211.81,81.78 212.13,82.47 212.45,82.57 212.77,82.50 213.09,82.36 213.42,81.60 213.74,82.15 214.06,81.71 214.38,81.92 214.70,82.26 215.02,81.09 215.34,82.03 215.66,81.13 215.98,79.89 216.30,81.00 216.62,79.85 216.94,80.17 217.26,78.91 217.58,78.91 217.90,77.74 218.22,77.49 218.54,76.92 218.86,76.09 219.18,77.10 219.50,77.25 219.82,78.15 220.14,78.78 220.46,79.62 220.78,80.62 221.11,79.84 221.43,79.16 221.75,80.03 222.07,80.74 222.39,79.48 222.71,80.74 223.03,80.85 223.35,81.19 223.67,81.01 223.99,80.55 224.31,79.18 224.63,80.47 224.95,80.94 225.27,80.66 225.59,80.41 225.91,81.28 226.23,80.17 226.55,79.81 226.87,80.02 227.19,79.85 227.51,80.98 227.83,81.22 228.15,79.43 228.47,79.55 228.79,81.13 229.12,80.09 229.44,80.21 229.76,79.91 230.08,80.13 230.40,80.58 230.72,80.18 231.04,80.23 231.36,80.38 231.68,81.49 232.00,82.21 232.32,80.92 232.64,81.46 232.96,80.36 233.28,80.13 233.60,80.44 233.92,80.86 234.24,80.64 234.56,80.03 234.88,81.22 235.20,80.28 235.52,80.46 235.84,80.78 236.16,80.11 236.48,81.47 236.80,80.53 237.13,81.71 237.45,81.67 237.77,81.90 238.09,81.05 238.41,81.94 238.73,81.40 239.05,82.17 239.37,80.91 239.69,80.50 240.01,81.52 240.33,80.73 240.65,81.44 240.97,80.53 241.29,81.82 241.61,82.88 241.93,81.10 242.25,82.12 242.57,82.72 242.89,82.54 243.21,83.17 243.53,82.35 243.85,82.94 244.17,81.45 244.49,81.99 244.81,83.43 245.14,83.38 245.46,82.86 245.78,83.71 246.10,82.66 246.42,82.66 246.74,83.14 247.06,83.04 247.38,82.44 247.70,81.92 248.02,81.91 248.34,82.82 248.66,82.36 248.98,83.34 249.30,82.68 249.62,83.53 249.94,82.54 250.26,83.75 250.58,83.61 250.90,83.06 251.22,82.74 251.54,83.95 251.86,83.43 252.18,83.05 252.50,83.01 252.82,83.67 253.15,83.12 253.47,83.35 253.79,82.36 254.11,82.89 254.43,84.03 254.75,84.56 255.07,83.19 255.39,82.56 255.71,83.17 256.03,82.75 256.35,83.58 256.67,84.12 256.99,82.86 257.31,83.26 257.63,82.91 257.95,84.16 258.27,83.22 258.59,83.71 258.91,82.86 259.23,83.70 259.55,83.72 259.87,83.71 260.19,82.60 260.51,83.35 260.83,83.82 261.16,83.98 261.48,84.00 261.80,82.50 262.12,84.47 262.44,83.89 262.76,83.00 263.08,82.68 263.40,83.47 263.72,82.91 264.04,82.93 264.36,82.80 264.68,83.36 265.00,82.40" fill="none" stroke="#e060b8" stroke-width="1.45" stroke-linejoin="round" />
<polyline points="169.20,95.47 169.52,94.67 169.84,96.24 170.16,95.02 170.48,96.33 170.80,96.47 171.12,95.27 171.44,96.07 171.76,95.30 172.08,96.21 172.40,94.60 172.72,95.55 173.04,96.23 173.37,95.45 173.69,95.02 174.01,96.01 174.33,95.23 174.65,94.31 174.97,95.02 175.29,95.54 175.61,95.88 175.93,95.19 176.25,96.44 176.57,97.35 176.89,95.93 177.21,96.17 177.53,94.47 177.85,95.44 178.17,96.11 178.49,96.21 178.81,95.21 179.13,96.01 179.45,95.86 179.77,95.56 180.09,95.45 180.41,95.44 180.73,95.43 181.05,94.72 181.38,94.47 181.70,96.48 182.02,93.94 182.34,95.41 182.66,94.74 182.98,95.93 183.30,95.29 183.62,95.35 183.94,95.41 184.26,94.96 184.58,95.09 184.90,96.07 185.22,95.54 185.54,95.03 185.86,95.05 186.18,95.67 186.50,95.63 186.82,95.55 187.14,96.12 187.46,96.23 187.78,94.51 188.10,95.69 188.42,95.39 188.74,95.90 189.06,94.67 189.39,94.39 189.71,95.58 190.03,95.13 190.35,95.89 190.67,94.38 190.99,94.88 191.31,95.94 191.63,94.68 191.95,95.21 192.27,95.18 192.59,95.21 192.91,95.82 193.23,95.74 193.55,95.04 193.87,95.44 194.19,95.98 194.51,94.19 194.83,95.53 195.15,95.74 195.47,95.82 195.79,94.98 196.11,94.81 196.43,95.24 196.75,94.87 197.07,96.28 197.40,95.60 197.72,95.66 198.04,95.37 198.36,95.07 198.68,96.58 199.00,93.48 199.32,95.86 199.64,95.13 199.96,94.83 200.28,94.80 200.60,95.14 200.92,97.00 201.24,95.87 201.56,94.71 201.88,95.64 202.20,95.62 202.52,96.28 202.84,93.98 203.16,94.22 203.48,94.85 203.80,94.16 204.12,93.88 204.44,94.23 204.76,93.47 205.08,92.91 205.41,92.54 205.73,91.96 206.05,92.62 206.37,92.90 206.69,92.42 207.01,93.15 207.33,93.68 207.65,92.44 207.97,93.57 208.29,93.50 208.61,93.40 208.93,94.65 209.25,93.78 209.57,94.03 209.89,94.47 210.21,94.26 210.53,94.99 210.85,95.88 211.17,94.73 211.49,95.08 211.81,93.97 212.13,94.27 212.45,94.66 212.77,94.21 213.09,93.30 213.42,93.28 213.74,93.56 214.06,93.31 214.38,93.50 214.70,93.15 215.02,92.43 215.34,92.55 215.66,91.97 215.98,92.48 216.30,92.49 216.62,92.18 216.94,91.13 217.26,89.81 217.58,89.68 217.90,90.83 218.22,91.06 218.54,89.61 218.86,89.82 219.18,90.99 219.50,89.66 219.82,90.35 220.14,89.85 220.46,90.65 220.78,90.55 221.11,91.11 221.43,92.09 221.75,91.85 222.07,92.29 222.39,91.53 222.71,92.75 223.03,93.16 223.35,91.91 223.67,91.68 223.99,91.53 224.31,91.75 224.63,93.31 224.95,92.82 225.27,92.71 225.59,92.37 225.91,93.63 226.23,92.31 226.55,92.11 226.87,92.82 227.19,92.15 227.51,91.48 227.83,92.15 228.15,91.52 228.47,91.53 228.79,91.87 229.12,91.87 229.44,92.32 229.76,91.34 230.08,92.36 230.40,92.49 230.72,91.65 231.04,92.51 231.36,91.83 231.68,91.46 232.00,92.05 232.32,92.05 232.64,91.58 232.96,91.69 233.28,93.09 233.60,92.98 233.92,91.42 234.24,92.01 234.56,93.52 234.88,93.12 235.20,92.33 235.52,92.97 235.84,92.14 236.16,92.41 236.48,92.21 236.80,93.25 237.13,92.22 237.45,91.46 237.77,93.16 238.09,91.95 238.41,92.19 238.73,92.45 239.05,92.93 239.37,93.64 239.69,93.52 240.01,92.59 240.33,92.52 240.65,92.42 240.97,92.64 241.29,92.73 241.61,93.58 241.93,94.10 242.25,93.31 242.57,93.19 242.89,93.49 243.21,94.51 243.53,93.96 243.85,94.59 244.17,93.67 244.49,94.44 244.81,93.96 245.14,93.71 245.46,93.87 245.78,93.18 246.10,94.71 246.42,95.41 246.74,93.57 247.06,93.34 247.38,93.37 247.70,94.10 248.02,93.98 248.34,94.27 248.66,95.16 248.98,94.76 249.30,94.16 249.62,94.84 249.94,93.38 250.26,95.48 250.58,94.84 250.90,93.95 251.22,95.00 251.54,95.35 251.86,95.51 252.18,95.15 252.50,93.83 252.82,94.52 253.15,94.47 253.47,95.11 253.79,94.32 254.11,94.78 254.43,95.41 254.75,95.14 255.07,94.77 255.39,94.20 255.71,94.95 256.03,94.63 256.35,93.73 256.67,95.43 256.99,95.71 257.31,94.38 257.63,94.72 257.95,95.05 258.27,94.84 258.59,95.20 258.91,94.70 259.23,95.22 259.55,94.54 259.87,95.73 260.19,95.52 260.51,94.96 260.83,95.32 261.16,94.62 261.48,95.07 261.80,95.37 262.12,94.92 262.44,95.37 262.76,95.99 263.08,95.74 263.40,95.54 263.72,95.34 264.04,95.00 264.36,94.51 264.68,94.73 265.00,93.99" fill="none" stroke="#1450c0" stroke-width="1.45" stroke-linejoin="round" />
<polyline points="169.20,109.67 169.52,110.47 169.84,109.45 170.16,109.71 170.48,110.60 170.80,110.18 171.12,109.74 171.44,110.21 171.76,109.78 172.08,110.12 172.40,109.94 172.72,110.50 173.04,110.11 173.37,110.52 173.69,109.94 174.01,111.24 174.33,110.12 174.65,109.61 174.97,109.98 175.29,110.31 175.61,109.99 175.93,110.75 176.25,110.74 176.57,110.47 176.89,110.35 177.21,109.74 177.53,110.76 177.85,109.71 178.17,111.12 178.49,110.68 178.81,110.27 179.13,109.61 179.45,110.58 179.77,111.41 180.09,110.00 180.41,110.24 180.73,110.82 181.05,110.79 181.38,110.60 181.70,110.16 182.02,109.84 182.34,111.02 182.66,108.94 182.98,110.22 183.30,110.40 183.62,109.82 183.94,110.12 184.26,108.89 184.58,109.57 184.90,110.37 185.22,110.38 185.54,110.43 185.86,110.34 186.18,109.78 186.50,110.50 186.82,109.25 187.14,110.18 187.46,110.21 187.78,109.60 188.10,111.21 188.42,110.63 188.74,109.78 189.06,110.10 189.39,110.11 189.71,109.88 190.03,110.42 190.35,110.18 190.67,110.82 190.99,111.10 191.31,109.37 191.63,110.57 191.95,110.44 192.27,109.27 192.59,109.45 192.91,110.32 193.23,110.31 193.55,110.06 193.87,110.53 194.19,109.69 194.51,109.90 194.83,109.90 195.15,109.55 195.47,109.56 195.79,108.93 196.11,109.10 196.43,110.86 196.75,109.41 197.07,110.51 197.40,110.67 197.72,109.48 198.04,110.24 198.36,110.01 198.68,109.23 199.00,110.17 199.32,110.28 199.64,109.59 199.96,109.08 200.28,109.44 200.60,110.56 200.92,110.04 201.24,109.75 201.56,108.58 201.88,109.12 202.20,109.12 202.52,108.90 202.84,109.71 203.16,109.24 203.48,109.21 203.80,109.98 204.12,109.42 204.44,109.07 204.76,109.94 205.08,108.87 205.41,108.86 205.73,108.67 206.05,109.62 206.37,109.09 206.69,108.31 207.01,108.63 207.33,109.45 207.65,108.85 207.97,108.14 208.29,108.91 208.61,108.60 208.93,107.34 209.25,108.71 209.57,108.68 209.89,109.11 210.21,108.84 210.53,107.58 210.85,108.39 211.17,108.87 211.49,108.63 211.81,108.01 212.13,107.48 212.45,108.19 212.77,107.26 213.09,107.78 213.42,107.18 213.74,106.94 214.06,106.74 214.38,107.16 214.70,106.86 215.02,106.34 215.34,107.19 215.66,106.25 215.98,105.93 216.30,105.52 216.62,106.01 216.94,106.01 217.26,105.75 217.58,106.17 217.90,105.84 218.22,105.46 218.54,105.51 218.86,106.23 219.18,105.83 219.50,106.82 219.82,105.22 220.14,105.96 220.46,105.55 220.78,106.29 221.11,105.74 221.43,105.45 221.75,105.15 222.07,106.43 222.39,105.21 222.71,105.74 223.03,106.06 223.35,105.35 223.67,105.74 223.99,105.71 224.31,105.90 224.63,105.36 224.95,105.43 225.27,105.51 225.59,105.91 225.91,105.63 226.23,105.10 226.55,104.59 226.87,105.28 227.19,104.47 227.51,105.23 227.83,105.80 228.15,104.84 228.47,105.71 228.79,104.95 229.12,104.57 229.44,105.33 229.76,105.21 230.08,103.81 230.40,105.04 230.72,105.03 231.04,104.76 231.36,105.26 231.68,105.27 232.00,105.04 232.32,106.58 232.64,104.52 232.96,105.91 233.28,105.95 233.60,105.10 233.92,105.42 234.24,106.16 234.56,105.40 234.88,106.19 235.20,105.99 235.52,106.48 235.84,106.16 236.16,105.54 236.48,105.75 236.80,105.70 237.13,105.42 237.45,106.01 237.77,106.41 238.09,106.27 238.41,105.27 238.73,106.22 239.05,106.13 239.37,106.43 239.69,106.30 240.01,106.27 240.33,106.58 240.65,106.73 240.97,107.14 241.29,107.24 241.61,106.62 241.93,106.50 242.25,106.48 242.57,107.02 242.89,107.57 243.21,106.84 243.53,106.91 243.85,108.14 244.17,106.94 244.49,107.13 244.81,106.59 245.14,108.19 245.46,108.34 245.78,107.26 246.10,108.74 246.42,108.21 246.74,108.47 247.06,108.48 247.38,109.02 247.70,108.16 248.02,107.55 248.34,107.89 248.66,107.94 248.98,108.43 249.30,107.48 249.62,108.03 249.94,107.79 250.26,109.26 250.58,108.26 250.90,109.11 251.22,108.33 251.54,108.45 251.86,109.21 252.18,108.53 252.50,108.02 252.82,108.42 253.15,108.40 253.47,109.22 253.79,109.15 254.11,109.41 254.43,108.75 254.75,108.20 255.07,108.63 255.39,108.89 255.71,109.53 256.03,108.69 256.35,109.08 256.67,110.01 256.99,109.93 257.31,109.18 257.63,109.50 257.95,108.12 258.27,109.02 258.59,109.62 258.91,109.33 259.23,108.20 259.55,109.60 259.87,108.67 260.19,108.86 260.51,108.30 260.83,108.82 261.16,109.33 261.48,108.83 261.80,109.09 262.12,108.59 262.44,109.17 262.76,108.05 263.08,109.19 263.40,108.90 263.72,109.50 264.04,109.07 264.36,109.13 264.68,109.05 265.00,108.65" fill="none" stroke="#7040b8" stroke-width="1.45" stroke-linejoin="round" />
<polyline points="169.20,125.58 169.52,125.74 169.84,124.67 170.16,125.43 170.48,125.63 170.80,124.63 171.12,124.83 171.44,126.70 171.76,125.45 172.08,124.81 172.40,124.78 172.72,125.51 173.04,124.37 173.37,125.65 173.69,125.34 174.01,125.14 174.33,125.20 174.65,124.76 174.97,124.63 175.29,125.21 175.61,124.42 175.93,125.55 176.25,125.29 176.57,124.22 176.89,125.11 177.21,124.57 177.53,125.38 177.85,125.29 178.17,125.20 178.49,125.04 178.81,125.31 179.13,125.11 179.45,124.75 179.77,124.45 180.09,125.04 180.41,124.74 180.73,124.59 181.05,125.68 181.38,125.94 181.70,124.19 182.02,124.35 182.34,125.03 182.66,124.87 182.98,125.57 183.30,125.81 183.62,124.87 183.94,125.85 184.26,124.53 184.58,125.40 184.90,124.86 185.22,123.96 185.54,123.98 185.86,125.15 186.18,124.42 186.50,125.56 186.82,125.31 187.14,124.78 187.46,124.22 187.78,125.28 188.10,124.67 188.42,124.90 188.74,125.64 189.06,125.02 189.39,124.12 189.71,124.98 190.03,124.65 190.35,124.46 190.67,125.31 190.99,124.23 191.31,124.07 191.63,124.01 191.95,124.16 192.27,125.12 192.59,125.18 192.91,125.28 193.23,125.34 193.55,125.27 193.87,124.28 194.19,124.01 194.51,125.15 194.83,124.34 195.15,125.47 195.47,124.95 195.79,125.30 196.11,125.63 196.43,124.70 196.75,124.67 197.07,124.92 197.40,124.97 197.72,125.21 198.04,124.73 198.36,124.97 198.68,124.49 199.00,125.27 199.32,124.46 199.64,124.29 199.96,123.87 200.28,123.95 200.60,124.40 200.92,124.86 201.24,125.47 201.56,124.44 201.88,123.64 202.20,123.48 202.52,125.76 202.84,124.75 203.16,124.50 203.48,124.84 203.80,124.14 204.12,124.19 204.44,124.46 204.76,124.16 205.08,124.98 205.41,124.60 205.73,124.52 206.05,123.50 206.37,124.84 206.69,124.03 207.01,123.44 207.33,123.85 207.65,123.33 207.97,124.09 208.29,123.44 208.61,123.13 208.93,122.35 209.25,123.12 209.57,122.68 209.89,123.41 210.21,123.30 210.53,122.43 210.85,122.91 211.17,122.39 211.49,122.72 211.81,121.88 212.13,121.67 212.45,123.37 212.77,121.82 213.09,122.53 213.42,122.44 213.74,122.69 214.06,122.16 214.38,123.09 214.70,122.80 215.02,122.74 215.34,122.09 215.66,121.66 215.98,121.68 216.30,121.80 216.62,122.25 216.94,122.81 217.26,121.54 217.58,121.59 217.90,121.39 218.22,120.72 218.54,121.52 218.86,121.45 219.18,122.52 219.50,120.86 219.82,121.11 220.14,121.40 220.46,120.70 220.78,121.40 221.11,121.04 221.43,119.58 221.75,120.16 222.07,119.98 222.39,120.00 222.71,119.98 223.03,120.14 223.35,118.91 223.67,120.13 223.99,119.61 224.31,120.06 224.63,120.06 224.95,121.14 225.27,120.79 225.59,118.81 225.91,118.78 226.23,119.77 226.55,119.49 226.87,119.07 227.19,119.90 227.51,118.33 227.83,119.82 228.15,119.59 228.47,120.67 228.79,118.27 229.12,119.03 229.44,118.13 229.76,119.54 230.08,118.77 230.40,118.89 230.72,118.79 231.04,117.73 231.36,117.61 231.68,118.08 232.00,119.04 232.32,118.32 232.64,118.06 232.96,118.49 233.28,118.48 233.60,118.53 233.92,119.30 234.24,118.67 234.56,117.94 234.88,119.38 235.20,118.80 235.52,118.41 235.84,119.64 236.16,118.99 236.48,119.88 236.80,119.31 237.13,119.79 237.45,119.54 237.77,119.36 238.09,119.29 238.41,119.29 238.73,120.55 239.05,118.40 239.37,119.48 239.69,119.99 240.01,119.78 240.33,119.33 240.65,120.11 240.97,119.85 241.29,119.94 241.61,119.45 241.93,120.22 242.25,119.63 242.57,119.76 242.89,120.10 243.21,119.41 243.53,120.15 243.85,120.88 244.17,120.14 244.49,120.31 244.81,120.48 245.14,120.40 245.46,119.31 245.78,120.55 246.10,120.50 246.42,120.96 246.74,120.18 247.06,121.01 247.38,121.50 247.70,121.80 248.02,120.91 248.34,120.87 248.66,122.22 248.98,121.82 249.30,121.14 249.62,121.00 249.94,122.36 250.26,121.93 250.58,121.31 250.90,122.13 251.22,122.15 251.54,122.27 251.86,122.75 252.18,122.07 252.50,121.99 252.82,122.99 253.15,122.22 253.47,121.72 253.79,122.28 254.11,121.92 254.43,122.80 254.75,121.80 255.07,123.03 255.39,121.61 255.71,122.94 256.03,123.14 256.35,123.28 256.67,123.06 256.99,123.15 257.31,123.29 257.63,123.14 257.95,122.63 258.27,122.54 258.59,123.25 258.91,122.42 259.23,123.68 259.55,123.73 259.87,123.81 260.19,122.89 260.51,124.10 260.83,124.04 261.16,122.59 261.48,122.38 261.80,122.61 262.12,124.19 262.44,123.38 262.76,122.95 263.08,123.37 263.40,124.33 263.72,123.65 264.04,124.41 264.36,124.17 264.68,122.32 265.00,123.14" fill="none" stroke="#e86868" stroke-width="1.45" stroke-linejoin="round" />
<polyline points="169.20,137.12 169.80,137.12 170.41,137.35 171.01,137.23 171.61,137.37 172.21,137.22 172.82,137.27 173.42,137.33 174.02,137.17 174.62,137.07 175.23,137.16 175.83,137.21 176.43,137.27 177.03,137.29 177.64,137.29 178.24,137.36 178.84,137.19 179.44,137.47 180.05,137.54 180.65,137.34 181.25,137.32 181.85,137.45 182.46,137.38 183.06,137.32 183.66,137.28 184.26,137.21 184.87,137.16 185.47,137.38 186.07,137.44 186.67,137.17 187.28,137.29 187.88,137.32 188.48,137.25 189.08,137.21 189.69,137.25 190.29,137.06 190.89,137.29 191.49,137.26 192.10,137.55 192.70,137.40 193.30,137.25 193.90,137.29 194.51,137.49 195.11,137.48 195.71,137.30 196.31,137.26 196.92,137.10 197.52,137.23 198.12,137.24 198.72,137.16 199.33,137.45 199.93,137.00 200.53,137.20 201.13,137.25 201.74,137.23 202.34,137.35 202.94,136.95 203.54,136.98 204.15,137.04 204.75,136.99 205.35,136.86 205.95,136.74 206.56,136.87 207.16,136.51 207.76,136.44 208.36,136.55 208.97,136.43 209.57,136.15 210.17,135.76 210.77,135.55 211.38,135.33 211.98,135.07 212.58,134.92 213.18,134.87 213.79,134.50 214.39,134.14 214.99,133.89 215.59,133.61 216.20,133.67 216.80,133.07 217.40,133.14 218.00,132.74 218.61,132.61 219.21,132.39 219.81,132.53 220.41,132.26 221.02,132.47 221.62,131.89 222.22,131.77 222.82,131.87 223.43,131.77 224.03,131.58 224.63,131.29 225.23,131.63 225.84,131.46 226.44,131.38 227.04,131.20 227.64,131.29 228.25,131.10 228.85,131.13 229.45,131.06 230.05,131.20 230.66,130.96 231.26,130.95 231.86,131.10 232.46,130.97 233.07,130.93 233.67,130.89 234.27,131.02 234.87,130.82 235.48,130.96 236.08,131.15 236.68,130.96 237.28,130.82 237.89,130.78 238.49,130.96 239.09,130.81 239.69,130.79 240.30,130.92 240.90,130.91 241.50,131.17 242.10,130.93 242.71,131.33 243.31,131.09 243.91,131.24 244.51,131.35 245.12,131.34 245.72,131.46 246.32,131.30 246.92,131.21 247.53,131.51 248.13,131.40 248.73,131.59 249.33,131.84 249.94,131.77 250.54,131.79 251.14,131.80 251.74,131.97 252.35,132.06 252.95,131.97 253.55,132.27 254.15,132.19 254.76,132.42 255.36,132.42 255.96,132.68 256.56,132.75 257.17,132.73 257.77,132.80 258.37,132.95 258.97,133.15 259.58,133.20 260.18,133.18 260.78,133.29 261.38,133.53 261.99,133.23 262.59,133.58 263.19,133.50 263.79,133.85 264.40,133.72 265.00,133.85" fill="none" stroke="#000" stroke-width="1.1" stroke-linejoin="round" />
<text x="180.4" y="47.9" font-size="7" text-anchor="start" fill="#222" >2.5 V</text>
<text x="180.4" y="64.6" font-size="7" text-anchor="start" fill="#222" >2.4 V</text>
<text x="180.4" y="79.5" font-size="7" text-anchor="start" fill="#222" >2.2 V</text>
<text x="180.4" y="94.4" font-size="7" text-anchor="start" fill="#222" >2.0 V</text>
<text x="180.4" y="107.4" font-size="7" text-anchor="start" fill="#222" >1.9 V</text>
<text x="180.4" y="122.2" font-size="7" text-anchor="start" fill="#222" >1.8 V</text>
<text x="170.4" y="134.3" font-size="7" text-anchor="start" fill="#222" >1.8 V on Au</text>
<text x="227.3" y="138.4" font-size="7" text-anchor="start" fill="#222" >&#215;0.1</text>
<text x="281.0" y="20.4" font-size="17" text-anchor="start" font-weight="bold" fill="#111" >(b)</text>
<rect x="295.2" y="52" width="36.6" height="93.5" fill="#b7afaf"/>
<line x1="295.2" y1="97.4" x2="331.8" y2="97.4" stroke="#1a22a0" stroke-width="1.5" stroke-dasharray="2.4,1.5"/>
<rect x="395.5" y="97" width="34.3" height="48.5" fill="#e07c0c"/>
<ellipse cx="369.5" cy="79.3" rx="18.5" ry="11" fill="url(#ncp)"/>
<g stroke="#111" stroke-width="1.4" fill="none"><polyline points="331.8,145.5 331.8,12.9 348.4,23.5 348.4,145.5"/><line x1="395.3" y1="12.7" x2="395.3" y2="145.5"/><line x1="348.4" y1="60.2" x2="395.3" y2="60.2"/><line x1="348.4" y1="98.3" x2="395.3" y2="98.3"/></g>
<line x1="312.2" y1="57" x2="312.2" y2="92.5" stroke="#111" stroke-width="1"/>
<path d="M312.2,54 L310.2,59 L314.2,59 Z M312.2,95.4 L310.2,90.4 L314.2,90.4 Z" fill="#111"/>
<text x="314.6" y="81.7" font-size="7.6" text-anchor="start" font-style="italic" fill="#222" >V</text>
<text x="319.6" y="84.4" font-size="4.4" text-anchor="start" fill="#222" >b</text>
<line x1="326" y1="50" x2="362" y2="50" stroke="#e81010" stroke-width="1.6"/>
<path d="M365.5,50 L360,47.2 L360,52.8 Z" fill="#e81010"/>
<circle cx="323.2" cy="49.8" r="3.1" fill="url(#ball)"/>
<circle cx="370" cy="50" r="2.9" fill="none" stroke="#2030c0" stroke-width="1.4" stroke-dasharray="1.3,1.35"/>
<line x1="370.4" y1="62" x2="370.4" y2="91" stroke="#e81010" stroke-width="1.6"/>
<path d="M370.4,95 L367.6,89.5 L373.2,89.5 Z" fill="#e81010"/>
<circle cx="370.4" cy="60.4" r="3.0" fill="url(#ball)"/>
<circle cx="370.6" cy="98.2" r="3.2" fill="#fff" stroke="#102090" stroke-width="1.5"/>
<text x="353.2" y="82.3" font-size="7.3" text-anchor="start" fill="#222" >NCP</text>
<text x="376.5" y="54.2" font-size="7.6" text-anchor="start" font-style="italic" fill="#222" >E</text>
<text x="380.8" y="56.9" font-size="4.4" text-anchor="start" fill="#222" textLength="13" lengthAdjust="spacingAndGlyphs">LUMO</text>
<text x="374.9" y="106.2" font-size="7.6" text-anchor="start" font-style="italic" fill="#222" >E</text>
<text x="379.3" y="108.4" font-size="4.4" text-anchor="start" fill="#222" textLength="15" lengthAdjust="spacingAndGlyphs">HOMO</text>
<text x="298.6" y="49.2" font-size="8" text-anchor="start" font-style="italic" fill="#222" >E</text>
<text x="303.4" y="51.4" font-size="4.4" text-anchor="start" font-style="italic" fill="#222" >F</text>
<text x="304.6" y="44.2" font-size="4.4" text-anchor="start" fill="#222" >T</text>
<text x="412.6" y="94.3" font-size="7.6" text-anchor="start" font-style="italic" fill="#222" >E</text>
<text x="416.6" y="96.8" font-size="4.2" text-anchor="start" font-style="italic" fill="#222" >F</text>
<text x="419.3" y="89.2" font-size="4.4" text-anchor="start" fill="#222" >S</text>
<text x="0" y="0" font-size="8.2" text-anchor="start" font-style="italic" fill="#222" style="font-family:&quot;Liberation Serif&quot;,serif" transform="translate(400.5 68.5) rotate(-25)">h&#957;</text>
<polyline points="388.40,81.20 388.87,81.48 389.34,81.76 389.79,82.00 390.22,82.21 390.63,82.38 391.01,82.49 391.36,82.53 391.67,82.51 391.95,82.41 392.19,82.25 392.39,82.01 392.56,81.70 392.69,81.33 392.80,80.90 392.88,80.43 392.94,79.92 392.99,79.39 393.04,78.84 393.08,78.29 393.13,77.75 393.19,77.24 393.27,76.77 393.38,76.34 393.51,75.96 393.67,75.65 393.87,75.41 394.11,75.24 394.38,75.14 394.70,75.11 395.04,75.15 395.42,75.26 395.83,75.42 396.26,75.63 396.71,75.87 397.17,76.14 397.64,76.43 398.12,76.71 398.58,76.98 399.03,77.23 399.47,77.45 399.88,77.61 400.26,77.72 400.61,77.77 400.93,77.76 401.20,77.67 401.45,77.50 401.65,77.27 401.82,76.96 401.96,76.60 402.06,76.17 402.15,75.70 402.21,75.20 402.26,74.66 402.31,74.11 402.35,73.56 402.40,73.03 402.46,72.51 402.54,72.04 402.64,71.60 402.77,71.23 402.94,70.91 403.13,70.66 403.37,70.49 403.64,70.38 403.95,70.35 404.29,70.39 404.67,70.49 405.07,70.65 405.51,70.85 405.95,71.10 406.42,71.37 406.89,71.65 407.36,71.94 407.82,72.21 408.28,72.46 408.71,72.68 409.13,72.85 409.51,72.96 409.86,73.02 410.18,73.00 410.46,72.92 410.70,72.76 410.91,72.53 411.08,72.23 411.22,71.86 411.33,71.44 411.41,70.98 411.48,70.47 411.53,69.94 411.58,69.39 411.62,68.84 411.67,68.30 411.73,67.79 411.81,67.31 411.91,66.87 412.04,66.49 412.20,66.17 412.39,65.92 412.63,65.74 412.89,65.63 413.20,65.59 413.54,65.63 413.92,65.72 414.32,65.88 414.75,66.08 415.20,66.32 415.66,66.59 416.13,66.88 416.60,67.16 417.07,67.44 417.52,67.69 417.96,67.91 418.37,68.08 418.76,68.20 419.11,68.26 419.43,68.25 419.72,68.16 419.96,68.01 420.17,67.78" fill="none" stroke="#f01818" stroke-width="1.35" stroke-linejoin="round" />
<path d="M423,63 L416.8,64.2 L419.6,68.6 Z" fill="#f01010"/>
<text x="310.5" y="155.3" font-size="8.65" text-anchor="middle" fill="#222" >Tip</text>
<text x="340.2" y="155.3" font-size="8.65" text-anchor="middle" fill="#222" >Vac</text>
<text x="372.7" y="155.3" font-size="8.65" text-anchor="middle" fill="#222" >Molecule</text>
<text x="413.4" y="155.3" font-size="8.65" text-anchor="middle" fill="#222" >Substrate</text>
<path d="M469.7,11.9 C472,35 475,60 480,70 C482,75 485,75.5 487,72 C492,63 497,49 501,42 C505,33 510,24 521.6,21.8" fill="none" stroke="#111" stroke-width="1.4"/>
<line x1="473.6" y1="41.8" x2="502.3" y2="41.8" stroke="#f0209a" stroke-width="1.5"/>
<line x1="475.7" y1="49.2" x2="500.2" y2="49.2" stroke="#f0209a" stroke-width="1.5"/>
<line x1="477.1" y1="56.2" x2="496.4" y2="56.2" stroke="#f0209a" stroke-width="1.5"/>
<line x1="478.5" y1="62.9" x2="492.5" y2="62.9" stroke="#f0209a" stroke-width="1.5"/>
<line x1="480.1" y1="68.9" x2="490.2" y2="68.9" stroke="#f0209a" stroke-width="1.5"/>
<path d="M461,81.7 C463,105 468,140 477,149 C481,153.5 485.5,153.5 488.5,149 C492,141 495,118 501,109 C507,101 514,100 522,100.3" fill="none" stroke="#111" stroke-width="1.4"/>
<line x1="465.4" y1="114.2" x2="498.9" y2="114.2" stroke="#f0209a" stroke-width="1.5"/>
<line x1="467.3" y1="122" x2="497" y2="122" stroke="#f0209a" stroke-width="1.5"/>
<line x1="469.5" y1="130.7" x2="494.5" y2="130.7" stroke="#f0209a" stroke-width="1.5"/>
<line x1="473.5" y1="140" x2="491" y2="140" stroke="#f0209a" stroke-width="1.5"/>
<line x1="480.1" y1="43.6" x2="480.1" y2="46.5" stroke="#10b030" stroke-width="1.3"/>
<path d="M480.1,48.8 L478.5,45.9 L481.70000000000005,45.9 Z" fill="#10b030"/>
<line x1="482.1" y1="50.8" x2="482.1" y2="53.6" stroke="#10b030" stroke-width="1.3"/>
<path d="M482.1,55.9 L480.5,53.0 L483.70000000000005,53.0 Z" fill="#10b030"/>
<line x1="484.1" y1="57.8" x2="484.1" y2="60.6" stroke="#10b030" stroke-width="1.3"/>
<path d="M484.1,62.9 L482.5,60.0 L485.70000000000005,60.0 Z" fill="#10b030"/>
<line x1="486.2" y1="64.4" x2="486.2" y2="67.2" stroke="#10b030" stroke-width="1.3"/>
<path d="M486.2,69.5 L484.59999999999997,66.60000000000001 L487.8,66.60000000000001 Z" fill="#10b030"/>
<line x1="451.9" y1="32.7" x2="479" y2="32.7" stroke="#e81010" stroke-width="1.6"/>
<path d="M483.3,32.7 L477.5,29.8 L477.5,35.6 Z" fill="#e81010"/>
<circle cx="488.8" cy="33" r="3.2" fill="url(#ball)"/>
<text x="486.6" y="27" font-size="7.5" text-anchor="start" font-style="italic" fill="#222" style="font-family:&quot;Liberation Serif&quot;,serif">e</text>
<text x="491.2" y="23.8" font-size="4.4" text-anchor="start" fill="#222" >&#8211;</text>
<text x="509.8" y="39" font-size="8" text-anchor="start" font-style="italic" fill="#222" style="font-family:&quot;Liberation Serif&quot;,serif">S</text>
<text x="514.6" y="41.6" font-size="4.4" text-anchor="start" fill="#222" >1</text>
<text x="494.6" y="145" font-size="8" text-anchor="start" font-style="italic" fill="#222" style="font-family:&quot;Liberation Serif&quot;,serif">S</text>
<text x="499.4" y="147.6" font-size="4.4" text-anchor="start" fill="#222" >0</text>
<line x1="483.4" y1="69.3" x2="483.4" y2="135.5" stroke="#18a8f0" stroke-width="1.7"/>
<path d="M483.4,140 L480.9,134 L485.9,134 Z" fill="#18a8f0"/>
<line x1="488.6" y1="69.3" x2="488.6" y2="126.5" stroke="#f0a060" stroke-width="1.5"/>
<path d="M488.6,130.2 L486.6,125 L490.6,125 Z" fill="#f0a060"/>
<text x="467" y="86" font-size="7.2" text-anchor="start" fill="#222" >(0,0)</text>
<text x="490.2" y="100.5" font-size="7.2" text-anchor="start" fill="#222" >(0,1)</text>
<text x="0" y="0" font-size="7.25" text-anchor="start" fill="#222" transform="translate(499.3 76.7) rotate(-33.5)">Fluorescence</text>
<polyline points="503.89,78.87 504.24,78.86 504.63,78.91 505.05,79.02 505.51,79.17 505.99,79.37 506.49,79.61 507.01,79.86 507.53,80.13 508.05,80.40 508.57,80.67 509.08,80.91 509.57,81.13 510.04,81.30 510.48,81.43 510.88,81.51 511.25,81.52 511.57,81.47 511.86,81.35 512.11,81.17 512.31,80.92 512.47,80.60 512.60,80.22 512.69,79.78 512.75,79.30 512.79,78.77 512.80,78.22 512.81,77.64 512.80,77.05 512.80,76.46 512.80,75.88 512.82,75.32 512.85,74.79 512.91,74.30 513.00,73.86 513.13,73.48 513.29,73.15 513.49,72.90 513.73,72.70 514.01,72.58 514.33,72.53 514.70,72.54 515.10,72.61 515.54,72.73 516.00,72.90 516.49,73.12 516.99,73.36 517.51,73.62 518.04,73.89 518.56,74.16 519.08,74.42 519.58,74.65 520.06,74.86 520.52,75.02 520.95,75.13 521.34,75.18 521.69,75.18 522.01,75.11 522.28,74.97 522.51,74.76 522.70,74.48 522.85,74.14 522.97,73.74 523.05,73.29 523.10,72.79 523.13,72.26 523.14,71.69 523.14,71.11 523.14,70.52 523.13,69.93 523.14,69.35 523.16,68.80 523.20,68.29 523.27,67.82 523.37,67.39 523.51,67.03 523.68,66.73 523.89,66.49 524.15,66.32 524.45,66.22 524.79,66.19 525.16,66.22 525.58,66.31 526.02,66.45 526.49,66.64 526.99,66.86 527.50,67.11 528.02,67.38 528.55,67.65 529.07,67.92 529.58,68.17 530.08,68.39 530.55,68.58 531.00,68.73 531.42,68.82 531.80,68.86 532.14,68.83 532.44,68.73 532.70,68.57 532.91,68.34 533.09,68.04 533.23,67.68 533.33,67.27 533.40,66.80 533.44,66.28 533.47,65.74 533.47,65.16 533.47,64.58 533.47,63.99 533.47,63.40 533.48,62.83 533.51,62.29 533.56,61.79 533.64,61.34 533.75,60.93 533.89,60.59 534.08,60.31 534.31,60.09 534.58,59.95 534.89,59.87" fill="none" stroke="#f01818" stroke-width="1.4" stroke-linejoin="round" />
<path d="M540.8,58.6 L534.2,60.2 L537.2,64.8 Z" fill="#f01010"/>
<text x="3.5" y="173.4" font-size="17" text-anchor="start" font-weight="bold" fill="#111" >(c)</text>
<text x="0" y="0" font-size="9.8" font-weight="bold" fill="#222" transform="translate(18.0 248.2) rotate(-90)"><tspan style="font-family:&quot;Liberation Serif&quot;,serif" font-style="italic" font-size="12.5">&#946;</tspan><tspan dx="2.2">(</tspan><tspan dx="0.3">&#197;</tspan><tspan font-size="6.6" dy="-4.2" dx="0.6">-1</tspan><tspan dy="4.2" dx="0.4">)</tspan></text>
<rect x="32.3" y="175" width="76.4" height="142.8" fill="#000"/>
<ellipse cx="64.7" cy="249" rx="27" ry="25" fill="url(#glow)"/>
<path d="M35.5,180.2 L90,176.2 L90.3,197 L34.2,201.3 Z" fill="#b98400"/>
<g stroke="#e0a800" stroke-width="0.9" fill="none"><polyline points="36.4,181.6 39.6,181.4 42.8,181.2 46.0,180.9 49.2,180.7 52.4,180.5 55.6,180.2 58.9,180.0 62.1,179.7 65.3,179.5 68.5,179.3 71.7,179.0 74.9,178.8 78.1,178.6 81.3,178.3 84.6,178.1 87.8,177.9"/><polyline points="37.6,184.5 40.9,184.3 44.1,184.1 47.3,183.8 50.5,183.6 53.8,183.3 57.0,183.1 60.2,182.9 63.4,182.6 66.7,182.4 69.9,182.2 73.1,181.9 76.4,181.7 79.6,181.4 82.8,181.2 86.0,181.0 89.3,180.7"/><polyline points="36.0,187.7 39.2,187.4 42.5,187.2 45.7,186.9 49.0,186.7 52.2,186.5 55.4,186.2 58.7,186.0 61.9,185.7 65.2,185.5 68.4,185.2 71.6,185.0 74.9,184.8 78.1,184.5 81.4,184.3 84.6,184.0 87.8,183.8"/><polyline points="37.3,190.6 40.5,190.3 43.8,190.1 47.0,189.8 50.3,189.6 53.6,189.3 56.8,189.1 60.1,188.9 63.3,188.6 66.6,188.4 69.8,188.1 73.1,187.9 76.3,187.6 79.6,187.4 82.8,187.1 86.1,186.9 89.3,186.7"/><polyline points="35.6,193.7 38.9,193.4 42.2,193.2 45.4,193.0 48.7,192.7 52.0,192.5 55.2,192.2 58.5,192.0 61.8,191.7 65.0,191.5 68.3,191.2 71.6,191.0 74.8,190.7 78.1,190.5 81.4,190.2 84.6,190.0 87.9,189.7"/><polyline points="36.9,196.6 40.2,196.3 43.5,196.1 46.8,195.8 50.1,195.6 53.3,195.3 56.6,195.1 59.9,194.8 63.2,194.6 66.5,194.3 69.7,194.1 73.0,193.9 76.3,193.6 79.6,193.4 82.9,193.1 86.1,192.9 89.4,192.6"/><polyline points="35.3,199.7 38.6,199.5 41.9,199.2 45.2,199.0 48.5,198.7 51.7,198.5 55.0,198.2 58.3,198.0 61.6,197.7 64.9,197.5 68.2,197.2 71.5,196.9 74.8,196.7 78.1,196.4 81.4,196.2 84.7,195.9 88.0,195.7"/><line x1="36.4" y1="181.6" x2="37.6" y2="184.5"/><line x1="39.6" y1="181.4" x2="40.9" y2="184.3"/><line x1="42.8" y1="181.2" x2="44.1" y2="184.1"/><line x1="46.0" y1="180.9" x2="47.3" y2="183.8"/><line x1="49.2" y1="180.7" x2="50.5" y2="183.6"/><line x1="52.4" y1="180.5" x2="53.8" y2="183.3"/><line x1="55.6" y1="180.2" x2="57.0" y2="183.1"/><line x1="58.9" y1="180.0" x2="60.2" y2="182.9"/><line x1="62.1" y1="179.7" x2="63.4" y2="182.6"/><line x1="65.3" y1="179.5" x2="66.7" y2="182.4"/><line x1="68.5" y1="179.3" x2="69.9" y2="182.2"/><line x1="71.7" y1="179.0" x2="73.1" y2="181.9"/><line x1="74.9" y1="178.8" x2="76.4" y2="181.7"/><line x1="78.1" y1="178.6" x2="79.6" y2="181.4"/><line x1="81.3" y1="178.3" x2="82.8" y2="181.2"/><line x1="84.6" y1="178.1" x2="86.0" y2="181.0"/><line x1="87.8" y1="177.9" x2="89.3" y2="180.7"/><line x1="37.6" y1="184.5" x2="36.0" y2="187.7"/><line x1="40.9" y1="184.3" x2="39.2" y2="187.4"/><line x1="44.1" y1="184.1" x2="42.5" y2="187.2"/><line x1="47.3" y1="183.8" x2="45.7" y2="186.9"/><line x1="50.5" y1="183.6" x2="49.0" y2="186.7"/><line x1="53.8" y1="183.3" x2="52.2" y2="186.5"/><line x1="57.0" y1="183.1" x2="55.4" y2="186.2"/><line x1="60.2" y1="182.9" x2="58.7" y2="186.0"/><line x1="63.4" y1="182.6" x2="61.9" y2="185.7"/><line x1="66.7" y1="182.4" x2="65.2" y2="185.5"/><line x1="69.9" y1="182.2" x2="68.4" y2="185.2"/><line x1="73.1" y1="181.9" x2="71.6" y2="185.0"/><line x1="76.4" y1="181.7" x2="74.9" y2="184.8"/><line x1="79.6" y1="181.4" x2="78.1" y2="184.5"/><line x1="82.8" y1="181.2" x2="81.4" y2="184.3"/><line x1="86.0" y1="181.0" x2="84.6" y2="184.0"/><line x1="89.3" y1="180.7" x2="87.8" y2="183.8"/><line x1="36.0" y1="187.7" x2="37.3" y2="190.6"/><line x1="39.2" y1="187.4" x2="40.5" y2="190.3"/><line x1="42.5" y1="187.2" x2="43.8" y2="190.1"/><line x1="45.7" y1="186.9" x2="47.0" y2="189.8"/><line x1="49.0" y1="186.7" x2="50.3" y2="189.6"/><line x1="52.2" y1="186.5" x2="53.6" y2="189.3"/><line x1="55.4" y1="186.2" x2="56.8" y2="189.1"/><line x1="58.7" y1="186.0" x2="60.1" y2="188.9"/><line x1="61.9" y1="185.7" x2="63.3" y2="188.6"/><line x1="65.2" y1="185.5" x2="66.6" y2="188.4"/><line x1="68.4" y1="185.2" x2="69.8" y2="188.1"/><line x1="71.6" y1="185.0" x2="73.1" y2="187.9"/><line x1="74.9" y1="184.8" x2="76.3" y2="187.6"/><line x1="78.1" y1="184.5" x2="79.6" y2="187.4"/><line x1="81.4" y1="184.3" x2="82.8" y2="187.1"/><line x1="84.6" y1="184.0" x2="86.1" y2="186.9"/><line x1="87.8" y1="183.8" x2="89.3" y2="186.7"/><line x1="37.3" y1="190.6" x2="35.6" y2="193.7"/><line x1="40.5" y1="190.3" x2="38.9" y2="193.4"/><line x1="43.8" y1="190.1" x2="42.2" y2="193.2"/><line x1="47.0" y1="189.8" x2="45.4" y2="193.0"/><line x1="50.3" y1="189.6" x2="48.7" y2="192.7"/><line x1="53.6" y1="189.3" x2="52.0" y2="192.5"/><line x1="56.8" y1="189.1" x2="55.2" y2="192.2"/><line x1="60.1" y1="188.9" x2="58.5" y2="192.0"/><line x1="63.3" y1="188.6" x2="61.8" y2="191.7"/><line x1="66.6" y1="188.4" x2="65.0" y2="191.5"/><line x1="69.8" y1="188.1" x2="68.3" y2="191.2"/><line x1="73.1" y1="187.9" x2="71.6" y2="191.0"/><line x1="76.3" y1="187.6" x2="74.8" y2="190.7"/><line x1="79.6" y1="187.4" x2="78.1" y2="190.5"/><line x1="82.8" y1="187.1" x2="81.4" y2="190.2"/><line x1="86.1" y1="186.9" x2="84.6" y2="190.0"/><line x1="89.3" y1="186.7" x2="87.9" y2="189.7"/><line x1="35.6" y1="193.7" x2="36.9" y2="196.6"/><line x1="38.9" y1="193.4" x2="40.2" y2="196.3"/><line x1="42.2" y1="193.2" x2="43.5" y2="196.1"/><line x1="45.4" y1="193.0" x2="46.8" y2="195.8"/><line x1="48.7" y1="192.7" x2="50.1" y2="195.6"/><line x1="52.0" y1="192.5" x2="53.3" y2="195.3"/><line x1="55.2" y1="192.2" x2="56.6" y2="195.1"/><line x1="58.5" y1="192.0" x2="59.9" y2="194.8"/><line x1="61.8" y1="191.7" x2="63.2" y2="194.6"/><line x1="65.0" y1="191.5" x2="66.5" y2="194.3"/><line x1="68.3" y1="191.2" x2="69.7" y2="194.1"/><line x1="71.6" y1="191.0" x2="73.0" y2="193.9"/><line x1="74.8" y1="190.7" x2="76.3" y2="193.6"/><line x1="78.1" y1="190.5" x2="79.6" y2="193.4"/><line x1="81.4" y1="190.2" x2="82.9" y2="193.1"/><line x1="84.6" y1="190.0" x2="86.1" y2="192.9"/><line x1="87.9" y1="189.7" x2="89.4" y2="192.6"/><line x1="36.9" y1="196.6" x2="35.3" y2="199.7"/><line x1="40.2" y1="196.3" x2="38.6" y2="199.5"/><line x1="43.5" y1="196.1" x2="41.9" y2="199.2"/><line x1="46.8" y1="195.8" x2="45.2" y2="199.0"/><line x1="50.1" y1="195.6" x2="48.5" y2="198.7"/><line x1="53.3" y1="195.3" x2="51.7" y2="198.5"/><line x1="56.6" y1="195.1" x2="55.0" y2="198.2"/><line x1="59.9" y1="194.8" x2="58.3" y2="198.0"/><line x1="63.2" y1="194.6" x2="61.6" y2="197.7"/><line x1="66.5" y1="194.3" x2="64.9" y2="197.5"/><line x1="69.7" y1="194.1" x2="68.2" y2="197.2"/><line x1="73.0" y1="193.9" x2="71.5" y2="196.9"/><line x1="76.3" y1="193.6" x2="74.8" y2="196.7"/><line x1="79.6" y1="193.4" x2="78.1" y2="196.4"/><line x1="82.9" y1="193.1" x2="81.4" y2="196.2"/><line x1="86.1" y1="192.9" x2="84.7" y2="195.9"/><line x1="89.4" y1="192.6" x2="88.0" y2="195.7"/></g>
<circle cx="36.4" cy="181.6" r="1.65" fill="url(#atomy)"/>
<circle cx="39.6" cy="181.4" r="1.65" fill="url(#atomy)"/>
<circle cx="42.8" cy="181.2" r="1.65" fill="url(#atomy)"/>
<circle cx="46.0" cy="180.9" r="1.65" fill="url(#atomy)"/>
<circle cx="49.2" cy="180.7" r="1.65" fill="url(#atomy)"/>
<circle cx="52.4" cy="180.5" r="1.65" fill="url(#atomy)"/>
<circle cx="55.6" cy="180.2" r="1.65" fill="url(#atomy)"/>
<circle cx="58.9" cy="180.0" r="1.65" fill="url(#atomy)"/>
<circle cx="62.1" cy="179.7" r="1.65" fill="url(#atomy)"/>
<circle cx="65.3" cy="179.5" r="1.65" fill="url(#atomy)"/>
<circle cx="68.5" cy="179.3" r="1.65" fill="url(#atomy)"/>
<circle cx="71.7" cy="179.0" r="1.65" fill="url(#atomy)"/>
<circle cx="74.9" cy="178.8" r="1.65" fill="url(#atomy)"/>
<circle cx="78.1" cy="178.6" r="1.65" fill="url(#atomy)"/>
<circle cx="81.3" cy="178.3" r="1.65" fill="url(#atomy)"/>
<circle cx="84.6" cy="178.1" r="1.65" fill="url(#atomy)"/>
<circle cx="87.8" cy="177.9" r="1.65" fill="url(#atomy)"/>
<circle cx="37.6" cy="184.5" r="1.65" fill="url(#atomy)"/>
<circle cx="40.9" cy="184.3" r="1.65" fill="url(#atomy)"/>
<circle cx="44.1" cy="184.1" r="1.65" fill="url(#atomy)"/>
<circle cx="47.3" cy="183.8" r="1.65" fill="url(#atomy)"/>
<circle cx="50.5" cy="183.6" r="1.65" fill="url(#atomy)"/>
<circle cx="53.8" cy="183.3" r="1.65" fill="url(#atomy)"/>
<circle cx="57.0" cy="183.1" r="1.65" fill="url(#atomy)"/>
<circle cx="60.2" cy="182.9" r="1.65" fill="url(#atomy)"/>
<circle cx="63.4" cy="182.6" r="1.65" fill="url(#atomy)"/>
<circle cx="66.7" cy="182.4" r="1.65" fill="url(#atomy)"/>
<circle cx="69.9" cy="182.2" r="1.65" fill="url(#atomy)"/>
<circle cx="73.1" cy="181.9" r="1.65" fill="url(#atomy)"/>
<circle cx="76.4" cy="181.7" r="1.65" fill="url(#atomy)"/>
<circle cx="79.6" cy="181.4" r="1.65" fill="url(#atomy)"/>
<circle cx="82.8" cy="181.2" r="1.65" fill="url(#atomy)"/>
<circle cx="86.0" cy="181.0" r="1.65" fill="url(#atomy)"/>
<circle cx="89.3" cy="180.7" r="1.65" fill="url(#atomy)"/>
<circle cx="36.0" cy="187.7" r="1.65" fill="url(#atomy)"/>
<circle cx="39.2" cy="187.4" r="1.65" fill="url(#atomy)"/>
<circle cx="42.5" cy="187.2" r="1.65" fill="url(#atomy)"/>
<circle cx="45.7" cy="186.9" r="1.65" fill="url(#atomy)"/>
<circle cx="49.0" cy="186.7" r="1.65" fill="url(#atomy)"/>
<circle cx="52.2" cy="186.5" r="1.65" fill="url(#atomy)"/>
<circle cx="55.4" cy="186.2" r="1.65" fill="url(#atomy)"/>
<circle cx="58.7" cy="186.0" r="1.65" fill="url(#atomy)"/>
<circle cx="61.9" cy="185.7" r="1.65" fill="url(#atomy)"/>
<circle cx="65.2" cy="185.5" r="1.65" fill="url(#atomy)"/>
<circle cx="68.4" cy="185.2" r="1.65" fill="url(#atomy)"/>
<circle cx="71.6" cy="185.0" r="1.65" fill="url(#atomy)"/>
<circle cx="74.9" cy="184.8" r="1.65" fill="url(#atomy)"/>
<circle cx="78.1" cy="184.5" r="1.65" fill="url(#atomy)"/>
<circle cx="81.4" cy="184.3" r="1.65" fill="url(#atomy)"/>
<circle cx="84.6" cy="184.0" r="1.65" fill="url(#atomy)"/>
<circle cx="87.8" cy="183.8" r="1.65" fill="url(#atomy)"/>
<circle cx="37.3" cy="190.6" r="1.65" fill="url(#atomy)"/>
<circle cx="40.5" cy="190.3" r="1.65" fill="url(#atomy)"/>
<circle cx="43.8" cy="190.1" r="1.65" fill="url(#atomy)"/>
<circle cx="47.0" cy="189.8" r="1.65" fill="url(#atomy)"/>
<circle cx="50.3" cy="189.6" r="1.65" fill="url(#atomy)"/>
<circle cx="53.6" cy="189.3" r="1.65" fill="url(#atomy)"/>
<circle cx="56.8" cy="189.1" r="1.65" fill="url(#atomy)"/>
<circle cx="60.1" cy="188.9" r="1.65" fill="url(#atomy)"/>
<circle cx="63.3" cy="188.6" r="1.65" fill="url(#atomy)"/>
<circle cx="66.6" cy="188.4" r="1.65" fill="url(#atomy)"/>
<circle cx="69.8" cy="188.1" r="1.65" fill="url(#atomy)"/>
<circle cx="73.1" cy="187.9" r="1.65" fill="url(#atomy)"/>
<circle cx="76.3" cy="187.6" r="1.65" fill="url(#atomy)"/>
<circle cx="79.6" cy="187.4" r="1.65" fill="url(#atomy)"/>
<circle cx="82.8" cy="187.1" r="1.65" fill="url(#atomy)"/>
<circle cx="86.1" cy="186.9" r="1.65" fill="url(#atomy)"/>
<circle cx="89.3" cy="186.7" r="1.65" fill="url(#atomy)"/>
<circle cx="35.6" cy="193.7" r="1.65" fill="url(#atomy)"/>
<circle cx="38.9" cy="193.4" r="1.65" fill="url(#atomy)"/>
<circle cx="42.2" cy="193.2" r="1.65" fill="url(#atomy)"/>
<circle cx="45.4" cy="193.0" r="1.65" fill="url(#atomy)"/>
<circle cx="48.7" cy="192.7" r="1.65" fill="url(#atomy)"/>
<circle cx="52.0" cy="192.5" r="1.65" fill="url(#atomy)"/>
<circle cx="55.2" cy="192.2" r="1.65" fill="url(#atomy)"/>
<circle cx="58.5" cy="192.0" r="1.65" fill="url(#atomy)"/>
<circle cx="61.8" cy="191.7" r="1.65" fill="url(#atomy)"/>
<circle cx="65.0" cy="191.5" r="1.65" fill="url(#atomy)"/>
<circle cx="68.3" cy="191.2" r="1.65" fill="url(#atomy)"/>
<circle cx="71.6" cy="191.0" r="1.65" fill="url(#atomy)"/>
<circle cx="74.8" cy="190.7" r="1.65" fill="url(#atomy)"/>
<circle cx="78.1" cy="190.5" r="1.65" fill="url(#atomy)"/>
<circle cx="81.4" cy="190.2" r="1.65" fill="url(#atomy)"/>
<circle cx="84.6" cy="190.0" r="1.65" fill="url(#atomy)"/>
<circle cx="87.9" cy="189.7" r="1.65" fill="url(#atomy)"/>
<circle cx="36.9" cy="196.6" r="1.65" fill="url(#atomy)"/>
<circle cx="40.2" cy="196.3" r="1.65" fill="url(#atomy)"/>
<circle cx="43.5" cy="196.1" r="1.65" fill="url(#atomy)"/>
<circle cx="46.8" cy="195.8" r="1.65" fill="url(#atomy)"/>
<circle cx="50.1" cy="195.6" r="1.65" fill="url(#atomy)"/>
<circle cx="53.3" cy="195.3" r="1.65" fill="url(#atomy)"/>
<circle cx="56.6" cy="195.1" r="1.65" fill="url(#atomy)"/>
<circle cx="59.9" cy="194.8" r="1.65" fill="url(#atomy)"/>
<circle cx="63.2" cy="194.6" r="1.65" fill="url(#atomy)"/>
<circle cx="66.5" cy="194.3" r="1.65" fill="url(#atomy)"/>
<circle cx="69.7" cy="194.1" r="1.65" fill="url(#atomy)"/>
<circle cx="73.0" cy="193.9" r="1.65" fill="url(#atomy)"/>
<circle cx="76.3" cy="193.6" r="1.65" fill="url(#atomy)"/>
<circle cx="79.6" cy="193.4" r="1.65" fill="url(#atomy)"/>
<circle cx="82.9" cy="193.1" r="1.65" fill="url(#atomy)"/>
<circle cx="86.1" cy="192.9" r="1.65" fill="url(#atomy)"/>
<circle cx="89.4" cy="192.6" r="1.65" fill="url(#atomy)"/>
<circle cx="35.3" cy="199.7" r="1.65" fill="url(#atomy)"/>
<circle cx="38.6" cy="199.5" r="1.65" fill="url(#atomy)"/>
<circle cx="41.9" cy="199.2" r="1.65" fill="url(#atomy)"/>
<circle cx="45.2" cy="199.0" r="1.65" fill="url(#atomy)"/>
<circle cx="48.5" cy="198.7" r="1.65" fill="url(#atomy)"/>
<circle cx="51.7" cy="198.5" r="1.65" fill="url(#atomy)"/>
<circle cx="55.0" cy="198.2" r="1.65" fill="url(#atomy)"/>
<circle cx="58.3" cy="198.0" r="1.65" fill="url(#atomy)"/>
<circle cx="61.6" cy="197.7" r="1.65" fill="url(#atomy)"/>
<circle cx="64.9" cy="197.5" r="1.65" fill="url(#atomy)"/>
<circle cx="68.2" cy="197.2" r="1.65" fill="url(#atomy)"/>
<circle cx="71.5" cy="196.9" r="1.65" fill="url(#atomy)"/>
<circle cx="74.8" cy="196.7" r="1.65" fill="url(#atomy)"/>
<circle cx="78.1" cy="196.4" r="1.65" fill="url(#atomy)"/>
<circle cx="81.4" cy="196.2" r="1.65" fill="url(#atomy)"/>
<circle cx="84.7" cy="195.9" r="1.65" fill="url(#atomy)"/>
<circle cx="88.0" cy="195.7" r="1.65" fill="url(#atomy)"/>
<circle cx="55" cy="202.5" r="1.9" fill="url(#atomy)"/>
<circle cx="59" cy="202.5" r="1.9" fill="url(#atomy)"/>
<circle cx="63" cy="202.5" r="1.9" fill="url(#atomy)"/>
<circle cx="57" cy="205.5" r="1.9" fill="url(#atomy)"/>
<circle cx="61" cy="205.5" r="1.9" fill="url(#atomy)"/>
<circle cx="59" cy="208.5" r="1.9" fill="url(#atomy)"/>
<path d="M51.2,294.6 L105.8,294.2 L106.2,316.2 L48.2,316.6 Z" fill="#b98400"/>
<g stroke="#e0a800" stroke-width="0.9" fill="none"><polyline points="52.0,296.2 55.2,296.1 58.4,296.1 61.6,296.1 64.9,296.1 68.1,296.0 71.3,296.0 74.5,296.0 77.8,296.0 81.0,296.0 84.2,295.9 87.4,295.9 90.7,295.9 93.9,295.9 97.1,295.8 100.3,295.8 103.6,295.8"/><polyline points="53.0,299.3 56.3,299.3 59.5,299.2 62.8,299.2 66.0,299.2 69.3,299.2 72.5,299.2 75.8,299.1 79.0,299.1 82.3,299.1 85.5,299.1 88.8,299.0 92.1,299.0 95.3,299.0 98.6,299.0 101.8,298.9 105.1,298.9"/><polyline points="51.1,302.5 54.4,302.4 57.7,302.4 61.0,302.4 64.2,302.4 67.5,302.3 70.8,302.3 74.1,302.3 77.4,302.3 80.7,302.2 83.9,302.2 87.2,302.2 90.5,302.2 93.8,302.1 97.1,302.1 100.4,302.1 103.6,302.1"/><polyline points="52.2,305.6 55.5,305.6 58.8,305.5 62.1,305.5 65.4,305.5 68.7,305.5 72.1,305.4 75.4,305.4 78.7,305.4 82.0,305.4 85.3,305.3 88.6,305.3 91.9,305.3 95.2,305.3 98.5,305.3 101.9,305.2 105.2,305.2"/><polyline points="50.3,308.7 53.6,308.7 57.0,308.7 60.3,308.7 63.6,308.6 67.0,308.6 70.3,308.6 73.7,308.6 77.0,308.5 80.3,308.5 83.7,308.5 87.0,308.5 90.4,308.5 93.7,308.4 97.0,308.4 100.4,308.4 103.7,308.4"/><polyline points="51.4,311.9 54.7,311.8 58.1,311.8 61.5,311.8 64.8,311.8 68.2,311.8 71.6,311.7 75.0,311.7 78.3,311.7 81.7,311.7 85.1,311.6 88.4,311.6 91.8,311.6 95.2,311.6 98.5,311.5 101.9,311.5 105.3,311.5"/><polyline points="49.4,315.0 52.8,315.0 56.2,315.0 59.6,315.0 63.0,314.9 66.4,314.9 69.8,314.9 73.2,314.9 76.6,314.8 80.0,314.8 83.4,314.8 86.8,314.8 90.2,314.7 93.6,314.7 97.0,314.7 100.4,314.7 103.8,314.6"/><line x1="52.0" y1="296.2" x2="53.0" y2="299.3"/><line x1="55.2" y1="296.1" x2="56.3" y2="299.3"/><line x1="58.4" y1="296.1" x2="59.5" y2="299.2"/><line x1="61.6" y1="296.1" x2="62.8" y2="299.2"/><line x1="64.9" y1="296.1" x2="66.0" y2="299.2"/><line x1="68.1" y1="296.0" x2="69.3" y2="299.2"/><line x1="71.3" y1="296.0" x2="72.5" y2="299.2"/><line x1="74.5" y1="296.0" x2="75.8" y2="299.1"/><line x1="77.8" y1="296.0" x2="79.0" y2="299.1"/><line x1="81.0" y1="296.0" x2="82.3" y2="299.1"/><line x1="84.2" y1="295.9" x2="85.5" y2="299.1"/><line x1="87.4" y1="295.9" x2="88.8" y2="299.0"/><line x1="90.7" y1="295.9" x2="92.1" y2="299.0"/><line x1="93.9" y1="295.9" x2="95.3" y2="299.0"/><line x1="97.1" y1="295.8" x2="98.6" y2="299.0"/><line x1="100.3" y1="295.8" x2="101.8" y2="298.9"/><line x1="103.6" y1="295.8" x2="105.1" y2="298.9"/><line x1="53.0" y1="299.3" x2="51.1" y2="302.5"/><line x1="56.3" y1="299.3" x2="54.4" y2="302.4"/><line x1="59.5" y1="299.2" x2="57.7" y2="302.4"/><line x1="62.8" y1="299.2" x2="61.0" y2="302.4"/><line x1="66.0" y1="299.2" x2="64.2" y2="302.4"/><line x1="69.3" y1="299.2" x2="67.5" y2="302.3"/><line x1="72.5" y1="299.2" x2="70.8" y2="302.3"/><line x1="75.8" y1="299.1" x2="74.1" y2="302.3"/><line x1="79.0" y1="299.1" x2="77.4" y2="302.3"/><line x1="82.3" y1="299.1" x2="80.7" y2="302.2"/><line x1="85.5" y1="299.1" x2="83.9" y2="302.2"/><line x1="88.8" y1="299.0" x2="87.2" y2="302.2"/><line x1="92.1" y1="299.0" x2="90.5" y2="302.2"/><line x1="95.3" y1="299.0" x2="93.8" y2="302.1"/><line x1="98.6" y1="299.0" x2="97.1" y2="302.1"/><line x1="101.8" y1="298.9" x2="100.4" y2="302.1"/><line x1="105.1" y1="298.9" x2="103.6" y2="302.1"/><line x1="51.1" y1="302.5" x2="52.2" y2="305.6"/><line x1="54.4" y1="302.4" x2="55.5" y2="305.6"/><line x1="57.7" y1="302.4" x2="58.8" y2="305.5"/><line x1="61.0" y1="302.4" x2="62.1" y2="305.5"/><line x1="64.2" y1="302.4" x2="65.4" y2="305.5"/><line x1="67.5" y1="302.3" x2="68.7" y2="305.5"/><line x1="70.8" y1="302.3" x2="72.1" y2="305.4"/><line x1="74.1" y1="302.3" x2="75.4" y2="305.4"/><line x1="77.4" y1="302.3" x2="78.7" y2="305.4"/><line x1="80.7" y1="302.2" x2="82.0" y2="305.4"/><line x1="83.9" y1="302.2" x2="85.3" y2="305.3"/><line x1="87.2" y1="302.2" x2="88.6" y2="305.3"/><line x1="90.5" y1="302.2" x2="91.9" y2="305.3"/><line x1="93.8" y1="302.1" x2="95.2" y2="305.3"/><line x1="97.1" y1="302.1" x2="98.5" y2="305.3"/><line x1="100.4" y1="302.1" x2="101.9" y2="305.2"/><line x1="103.6" y1="302.1" x2="105.2" y2="305.2"/><line x1="52.2" y1="305.6" x2="50.3" y2="308.7"/><line x1="55.5" y1="305.6" x2="53.6" y2="308.7"/><line x1="58.8" y1="305.5" x2="57.0" y2="308.7"/><line x1="62.1" y1="305.5" x2="60.3" y2="308.7"/><line x1="65.4" y1="305.5" x2="63.6" y2="308.6"/><line x1="68.7" y1="305.5" x2="67.0" y2="308.6"/><line x1="72.1" y1="305.4" x2="70.3" y2="308.6"/><line x1="75.4" y1="305.4" x2="73.7" y2="308.6"/><line x1="78.7" y1="305.4" x2="77.0" y2="308.5"/><line x1="82.0" y1="305.4" x2="80.3" y2="308.5"/><line x1="85.3" y1="305.3" x2="83.7" y2="308.5"/><line x1="88.6" y1="305.3" x2="87.0" y2="308.5"/><line x1="91.9" y1="305.3" x2="90.4" y2="308.5"/><line x1="95.2" y1="305.3" x2="93.7" y2="308.4"/><line x1="98.5" y1="305.3" x2="97.0" y2="308.4"/><line x1="101.9" y1="305.2" x2="100.4" y2="308.4"/><line x1="105.2" y1="305.2" x2="103.7" y2="308.4"/><line x1="50.3" y1="308.7" x2="51.4" y2="311.9"/><line x1="53.6" y1="308.7" x2="54.7" y2="311.8"/><line x1="57.0" y1="308.7" x2="58.1" y2="311.8"/><line x1="60.3" y1="308.7" x2="61.5" y2="311.8"/><line x1="63.6" y1="308.6" x2="64.8" y2="311.8"/><line x1="67.0" y1="308.6" x2="68.2" y2="311.8"/><line x1="70.3" y1="308.6" x2="71.6" y2="311.7"/><line x1="73.7" y1="308.6" x2="75.0" y2="311.7"/><line x1="77.0" y1="308.5" x2="78.3" y2="311.7"/><line x1="80.3" y1="308.5" x2="81.7" y2="311.7"/><line x1="83.7" y1="308.5" x2="85.1" y2="311.6"/><line x1="87.0" y1="308.5" x2="88.4" y2="311.6"/><line x1="90.4" y1="308.5" x2="91.8" y2="311.6"/><line x1="93.7" y1="308.4" x2="95.2" y2="311.6"/><line x1="97.0" y1="308.4" x2="98.5" y2="311.5"/><line x1="100.4" y1="308.4" x2="101.9" y2="311.5"/><line x1="103.7" y1="308.4" x2="105.3" y2="311.5"/><line x1="51.4" y1="311.9" x2="49.4" y2="315.0"/><line x1="54.7" y1="311.8" x2="52.8" y2="315.0"/><line x1="58.1" y1="311.8" x2="56.2" y2="315.0"/><line x1="61.5" y1="311.8" x2="59.6" y2="315.0"/><line x1="64.8" y1="311.8" x2="63.0" y2="314.9"/><line x1="68.2" y1="311.8" x2="66.4" y2="314.9"/><line x1="71.6" y1="311.7" x2="69.8" y2="314.9"/><line x1="75.0" y1="311.7" x2="73.2" y2="314.9"/><line x1="78.3" y1="311.7" x2="76.6" y2="314.8"/><line x1="81.7" y1="311.7" x2="80.0" y2="314.8"/><line x1="85.1" y1="311.6" x2="83.4" y2="314.8"/><line x1="88.4" y1="311.6" x2="86.8" y2="314.8"/><line x1="91.8" y1="311.6" x2="90.2" y2="314.7"/><line x1="95.2" y1="311.6" x2="93.6" y2="314.7"/><line x1="98.5" y1="311.5" x2="97.0" y2="314.7"/><line x1="101.9" y1="311.5" x2="100.4" y2="314.7"/><line x1="105.3" y1="311.5" x2="103.8" y2="314.6"/></g>
<circle cx="52.0" cy="296.2" r="1.65" fill="url(#atomy)"/>
<circle cx="55.2" cy="296.1" r="1.65" fill="url(#atomy)"/>
<circle cx="58.4" cy="296.1" r="1.65" fill="url(#atomy)"/>
<circle cx="61.6" cy="296.1" r="1.65" fill="url(#atomy)"/>
<circle cx="64.9" cy="296.1" r="1.65" fill="url(#atomy)"/>
<circle cx="68.1" cy="296.0" r="1.65" fill="url(#atomy)"/>
<circle cx="71.3" cy="296.0" r="1.65" fill="url(#atomy)"/>
<circle cx="74.5" cy="296.0" r="1.65" fill="url(#atomy)"/>
<circle cx="77.8" cy="296.0" r="1.65" fill="url(#atomy)"/>
<circle cx="81.0" cy="296.0" r="1.65" fill="url(#atomy)"/>
<circle cx="84.2" cy="295.9" r="1.65" fill="url(#atomy)"/>
<circle cx="87.4" cy="295.9" r="1.65" fill="url(#atomy)"/>
<circle cx="90.7" cy="295.9" r="1.65" fill="url(#atomy)"/>
<circle cx="93.9" cy="295.9" r="1.65" fill="url(#atomy)"/>
<circle cx="97.1" cy="295.8" r="1.65" fill="url(#atomy)"/>
<circle cx="100.3" cy="295.8" r="1.65" fill="url(#atomy)"/>
<circle cx="103.6" cy="295.8" r="1.65" fill="url(#atomy)"/>
<circle cx="53.0" cy="299.3" r="1.65" fill="url(#atomy)"/>
<circle cx="56.3" cy="299.3" r="1.65" fill="url(#atomy)"/>
<circle cx="59.5" cy="299.2" r="1.65" fill="url(#atomy)"/>
<circle cx="62.8" cy="299.2" r="1.65" fill="url(#atomy)"/>
<circle cx="66.0" cy="299.2" r="1.65" fill="url(#atomy)"/>
<circle cx="69.3" cy="299.2" r="1.65" fill="url(#atomy)"/>
<circle cx="72.5" cy="299.2" r="1.65" fill="url(#atomy)"/>
<circle cx="75.8" cy="299.1" r="1.65" fill="url(#atomy)"/>
<circle cx="79.0" cy="299.1" r="1.65" fill="url(#atomy)"/>
<circle cx="82.3" cy="299.1" r="1.65" fill="url(#atomy)"/>
<circle cx="85.5" cy="299.1" r="1.65" fill="url(#atomy)"/>
<circle cx="88.8" cy="299.0" r="1.65" fill="url(#atomy)"/>
<circle cx="92.1" cy="299.0" r="1.65" fill="url(#atomy)"/>
<circle cx="95.3" cy="299.0" r="1.65" fill="url(#atomy)"/>
<circle cx="98.6" cy="299.0" r="1.65" fill="url(#atomy)"/>
<circle cx="101.8" cy="298.9" r="1.65" fill="url(#atomy)"/>
<circle cx="105.1" cy="298.9" r="1.65" fill="url(#atomy)"/>
<circle cx="51.1" cy="302.5" r="1.65" fill="url(#atomy)"/>
<circle cx="54.4" cy="302.4" r="1.65" fill="url(#atomy)"/>
<circle cx="57.7" cy="302.4" r="1.65" fill="url(#atomy)"/>
<circle cx="61.0" cy="302.4" r="1.65" fill="url(#atomy)"/>
<circle cx="64.2" cy="302.4" r="1.65" fill="url(#atomy)"/>
<circle cx="67.5" cy="302.3" r="1.65" fill="url(#atomy)"/>
<circle cx="70.8" cy="302.3" r="1.65" fill="url(#atomy)"/>
<circle cx="74.1" cy="302.3" r="1.65" fill="url(#atomy)"/>
<circle cx="77.4" cy="302.3" r="1.65" fill="url(#atomy)"/>
<circle cx="80.7" cy="302.2" r="1.65" fill="url(#atomy)"/>
<circle cx="83.9" cy="302.2" r="1.65" fill="url(#atomy)"/>
<circle cx="87.2" cy="302.2" r="1.65" fill="url(#atomy)"/>
<circle cx="90.5" cy="302.2" r="1.65" fill="url(#atomy)"/>
<circle cx="93.8" cy="302.1" r="1.65" fill="url(#atomy)"/>
<circle cx="97.1" cy="302.1" r="1.65" fill="url(#atomy)"/>
<circle cx="100.4" cy="302.1" r="1.65" fill="url(#atomy)"/>
<circle cx="103.6" cy="302.1" r="1.65" fill="url(#atomy)"/>
<circle cx="52.2" cy="305.6" r="1.65" fill="url(#atomy)"/>
<circle cx="55.5" cy="305.6" r="1.65" fill="url(#atomy)"/>
<circle cx="58.8" cy="305.5" r="1.65" fill="url(#atomy)"/>
<circle cx="62.1" cy="305.5" r="1.65" fill="url(#atomy)"/>
<circle cx="65.4" cy="305.5" r="1.65" fill="url(#atomy)"/>
<circle cx="68.7" cy="305.5" r="1.65" fill="url(#atomy)"/>
<circle cx="72.1" cy="305.4" r="1.65" fill="url(#atomy)"/>
<circle cx="75.4" cy="305.4" r="1.65" fill="url(#atomy)"/>
<circle cx="78.7" cy="305.4" r="1.65" fill="url(#atomy)"/>
<circle cx="82.0" cy="305.4" r="1.65" fill="url(#atomy)"/>
<circle cx="85.3" cy="305.3" r="1.65" fill="url(#atomy)"/>
<circle cx="88.6" cy="305.3" r="1.65" fill="url(#atomy)"/>
<circle cx="91.9" cy="305.3" r="1.65" fill="url(#atomy)"/>
<circle cx="95.2" cy="305.3" r="1.65" fill="url(#atomy)"/>
<circle cx="98.5" cy="305.3" r="1.65" fill="url(#atomy)"/>
<circle cx="101.9" cy="305.2" r="1.65" fill="url(#atomy)"/>
<circle cx="105.2" cy="305.2" r="1.65" fill="url(#atomy)"/>
<circle cx="50.3" cy="308.7" r="1.65" fill="url(#atomy)"/>
<circle cx="53.6" cy="308.7" r="1.65" fill="url(#atomy)"/>
<circle cx="57.0" cy="308.7" r="1.65" fill="url(#atomy)"/>
<circle cx="60.3" cy="308.7" r="1.65" fill="url(#atomy)"/>
<circle cx="63.6" cy="308.6" r="1.65" fill="url(#atomy)"/>
<circle cx="67.0" cy="308.6" r="1.65" fill="url(#atomy)"/>
<circle cx="70.3" cy="308.6" r="1.65" fill="url(#atomy)"/>
<circle cx="73.7" cy="308.6" r="1.65" fill="url(#atomy)"/>
<circle cx="77.0" cy="308.5" r="1.65" fill="url(#atomy)"/>
<circle cx="80.3" cy="308.5" r="1.65" fill="url(#atomy)"/>
<circle cx="83.7" cy="308.5" r="1.65" fill="url(#atomy)"/>
<circle cx="87.0" cy="308.5" r="1.65" fill="url(#atomy)"/>
<circle cx="90.4" cy="308.5" r="1.65" fill="url(#atomy)"/>
<circle cx="93.7" cy="308.4" r="1.65" fill="url(#atomy)"/>
<circle cx="97.0" cy="308.4" r="1.65" fill="url(#atomy)"/>
<circle cx="100.4" cy="308.4" r="1.65" fill="url(#atomy)"/>
<circle cx="103.7" cy="308.4" r="1.65" fill="url(#atomy)"/>
<circle cx="51.4" cy="311.9" r="1.65" fill="url(#atomy)"/>
<circle cx="54.7" cy="311.8" r="1.65" fill="url(#atomy)"/>
<circle cx="58.1" cy="311.8" r="1.65" fill="url(#atomy)"/>
<circle cx="61.5" cy="311.8" r="1.65" fill="url(#atomy)"/>
<circle cx="64.8" cy="311.8" r="1.65" fill="url(#atomy)"/>
<circle cx="68.2" cy="311.8" r="1.65" fill="url(#atomy)"/>
<circle cx="71.6" cy="311.7" r="1.65" fill="url(#atomy)"/>
<circle cx="75.0" cy="311.7" r="1.65" fill="url(#atomy)"/>
<circle cx="78.3" cy="311.7" r="1.65" fill="url(#atomy)"/>
<circle cx="81.7" cy="311.7" r="1.65" fill="url(#atomy)"/>
<circle cx="85.1" cy="311.6" r="1.65" fill="url(#atomy)"/>
<circle cx="88.4" cy="311.6" r="1.65" fill="url(#atomy)"/>
<circle cx="91.8" cy="311.6" r="1.65" fill="url(#atomy)"/>
<circle cx="95.2" cy="311.6" r="1.65" fill="url(#atomy)"/>
<circle cx="98.5" cy="311.5" r="1.65" fill="url(#atomy)"/>
<circle cx="101.9" cy="311.5" r="1.65" fill="url(#atomy)"/>
<circle cx="105.3" cy="311.5" r="1.65" fill="url(#atomy)"/>
<circle cx="49.4" cy="315.0" r="1.65" fill="url(#atomy)"/>
<circle cx="52.8" cy="315.0" r="1.65" fill="url(#atomy)"/>
<circle cx="56.2" cy="315.0" r="1.65" fill="url(#atomy)"/>
<circle cx="59.6" cy="315.0" r="1.65" fill="url(#atomy)"/>
<circle cx="63.0" cy="314.9" r="1.65" fill="url(#atomy)"/>
<circle cx="66.4" cy="314.9" r="1.65" fill="url(#atomy)"/>
<circle cx="69.8" cy="314.9" r="1.65" fill="url(#atomy)"/>
<circle cx="73.2" cy="314.9" r="1.65" fill="url(#atomy)"/>
<circle cx="76.6" cy="314.8" r="1.65" fill="url(#atomy)"/>
<circle cx="80.0" cy="314.8" r="1.65" fill="url(#atomy)"/>
<circle cx="83.4" cy="314.8" r="1.65" fill="url(#atomy)"/>
<circle cx="86.8" cy="314.8" r="1.65" fill="url(#atomy)"/>
<circle cx="90.2" cy="314.7" r="1.65" fill="url(#atomy)"/>
<circle cx="93.6" cy="314.7" r="1.65" fill="url(#atomy)"/>
<circle cx="97.0" cy="314.7" r="1.65" fill="url(#atomy)"/>
<circle cx="100.4" cy="314.7" r="1.65" fill="url(#atomy)"/>
<circle cx="103.8" cy="314.6" r="1.65" fill="url(#atomy)"/>
<circle cx="62.1" cy="210.1" r="1.75" fill="url(#atomc)"/>
<circle cx="59.5" cy="210.5" r="1.75" fill="url(#atomc)"/>
<circle cx="56.9" cy="210.9" r="1.75" fill="url(#atomc)"/>
<circle cx="62.6" cy="213.3" r="1.75" fill="url(#atomc)"/>
<circle cx="60.0" cy="213.7" r="1.75" fill="url(#atomc)"/>
<circle cx="57.4" cy="214.1" r="1.75" fill="url(#atomc)"/>
<circle cx="63.1" cy="216.4" r="1.75" fill="url(#atomc)"/>
<circle cx="60.5" cy="216.8" r="1.75" fill="url(#atomc)"/>
<circle cx="57.9" cy="217.2" r="1.75" fill="url(#atomc)"/>
<circle cx="63.6" cy="219.6" r="1.75" fill="url(#atomc)"/>
<circle cx="61.0" cy="220.0" r="1.75" fill="url(#atomc)"/>
<circle cx="58.4" cy="220.4" r="1.75" fill="url(#atomc)"/>
<circle cx="64.0" cy="222.8" r="1.75" fill="url(#atomc)"/>
<circle cx="61.5" cy="223.1" r="1.75" fill="url(#atomc)"/>
<circle cx="58.9" cy="223.5" r="1.75" fill="url(#atomc)"/>
<circle cx="64.5" cy="225.9" r="1.75" fill="url(#atomc)"/>
<circle cx="61.9" cy="226.3" r="1.75" fill="url(#atomc)"/>
<circle cx="59.3" cy="226.7" r="1.75" fill="url(#atomc)"/>
<circle cx="65.0" cy="229.1" r="1.75" fill="url(#atomc)"/>
<circle cx="62.4" cy="229.5" r="1.75" fill="url(#atomc)"/>
<circle cx="59.8" cy="229.9" r="1.75" fill="url(#atomc)"/>
<circle cx="65.5" cy="232.2" r="1.75" fill="url(#atomc)"/>
<circle cx="62.9" cy="232.6" r="1.75" fill="url(#atomc)"/>
<circle cx="60.3" cy="233.1" r="1.75" fill="url(#atomc)"/>
<circle cx="66.0" cy="235.3" r="1.75" fill="url(#atomc)"/>
<circle cx="63.5" cy="235.8" r="1.75" fill="url(#atomc)"/>
<circle cx="60.9" cy="236.2" r="1.75" fill="url(#atomc)"/>
<circle cx="66.6" cy="238.5" r="1.75" fill="url(#atomc)"/>
<circle cx="64.0" cy="238.9" r="1.75" fill="url(#atomc)"/>
<circle cx="61.5" cy="239.4" r="1.75" fill="url(#atomc)"/>
<circle cx="67.0" cy="241.8" r="1.75" fill="url(#atomc)"/>
<circle cx="64.4" cy="242.1" r="1.75" fill="url(#atomc)"/>
<circle cx="61.8" cy="242.4" r="1.75" fill="url(#atomc)"/>
<circle cx="67.3" cy="245.0" r="1.75" fill="url(#atomc)"/>
<circle cx="64.8" cy="245.3" r="1.75" fill="url(#atomc)"/>
<circle cx="62.2" cy="245.6" r="1.75" fill="url(#atomc)"/>
<circle cx="67.7" cy="248.2" r="1.75" fill="url(#atomc)"/>
<circle cx="65.1" cy="248.5" r="1.75" fill="url(#atomc)"/>
<circle cx="62.5" cy="248.7" r="1.75" fill="url(#atomc)"/>
<circle cx="67.9" cy="251.6" r="1.75" fill="url(#atomc)"/>
<circle cx="65.3" cy="251.7" r="1.75" fill="url(#atomc)"/>
<circle cx="62.7" cy="251.8" r="1.75" fill="url(#atomc)"/>
<circle cx="68.0" cy="254.8" r="1.75" fill="url(#atomc)"/>
<circle cx="65.4" cy="254.9" r="1.75" fill="url(#atomc)"/>
<circle cx="62.8" cy="255.0" r="1.75" fill="url(#atomc)"/>
<circle cx="68.1" cy="258.0" r="1.75" fill="url(#atomc)"/>
<circle cx="65.5" cy="258.1" r="1.75" fill="url(#atomc)"/>
<circle cx="62.9" cy="258.2" r="1.75" fill="url(#atomc)"/>
<circle cx="68.3" cy="261.2" r="1.75" fill="url(#atomc)"/>
<circle cx="65.7" cy="261.3" r="1.75" fill="url(#atomc)"/>
<circle cx="63.1" cy="261.4" r="1.75" fill="url(#atomc)"/>
<circle cx="68.2" cy="264.6" r="1.75" fill="url(#atomc)"/>
<circle cx="65.6" cy="264.5" r="1.75" fill="url(#atomc)"/>
<circle cx="63.0" cy="264.4" r="1.75" fill="url(#atomc)"/>
<circle cx="68.1" cy="267.8" r="1.75" fill="url(#atomc)"/>
<circle cx="65.5" cy="267.7" r="1.75" fill="url(#atomc)"/>
<circle cx="62.9" cy="267.6" r="1.75" fill="url(#atomc)"/>
<circle cx="67.9" cy="271.0" r="1.75" fill="url(#atomc)"/>
<circle cx="65.3" cy="270.9" r="1.75" fill="url(#atomc)"/>
<circle cx="62.7" cy="270.8" r="1.75" fill="url(#atomc)"/>
<circle cx="67.8" cy="274.2" r="1.75" fill="url(#atomc)"/>
<circle cx="65.2" cy="274.1" r="1.75" fill="url(#atomc)"/>
<circle cx="62.6" cy="273.9" r="1.75" fill="url(#atomc)"/>
<circle cx="68.3" cy="276.7" r="1.75" fill="url(#atomc)"/>
<circle cx="65.7" cy="277.2" r="1.75" fill="url(#atomc)"/>
<circle cx="63.1" cy="277.7" r="1.75" fill="url(#atomc)"/>
<circle cx="68.8" cy="279.9" r="1.75" fill="url(#atomc)"/>
<circle cx="66.3" cy="280.4" r="1.75" fill="url(#atomc)"/>
<circle cx="63.7" cy="280.8" r="1.75" fill="url(#atomc)"/>
<circle cx="69.4" cy="283.0" r="1.75" fill="url(#atomc)"/>
<circle cx="66.8" cy="283.5" r="1.75" fill="url(#atomc)"/>
<circle cx="64.3" cy="284.0" r="1.75" fill="url(#atomc)"/>
<circle cx="69.7" cy="284.1" r="1.75" fill="url(#atomc)"/>
<circle cx="68.1" cy="286.2" r="1.75" fill="url(#atomc)"/>
<circle cx="66.6" cy="288.3" r="1.75" fill="url(#atomc)"/>
<circle cx="72.3" cy="286.0" r="1.75" fill="url(#atomc)"/>
<circle cx="70.7" cy="288.1" r="1.75" fill="url(#atomc)"/>
<circle cx="69.2" cy="290.2" r="1.75" fill="url(#atomc)"/>
<circle cx="73.8" cy="286.5" r="1.75" fill="url(#atomc)"/>
<circle cx="73.6" cy="289.1" r="1.75" fill="url(#atomc)"/>
<circle cx="73.4" cy="291.7" r="1.75" fill="url(#atomc)"/>
<circle cx="77.0" cy="286.8" r="1.75" fill="url(#atomc)"/>
<circle cx="76.8" cy="289.4" r="1.75" fill="url(#atomc)"/>
<circle cx="76.6" cy="292.0" r="1.75" fill="url(#atomc)"/>
<circle cx="80.1" cy="287.0" r="1.75" fill="url(#atomc)"/>
<circle cx="80.0" cy="289.6" r="1.75" fill="url(#atomc)"/>
<circle cx="80.0" cy="292.2" r="1.75" fill="url(#atomc)"/>
<circle cx="83.3" cy="287.1" r="1.75" fill="url(#atomc)"/>
<circle cx="83.2" cy="289.7" r="1.75" fill="url(#atomc)"/>
<circle cx="83.2" cy="292.3" r="1.75" fill="url(#atomc)"/>
<circle cx="86.5" cy="287.1" r="1.75" fill="url(#atomc)"/>
<circle cx="86.4" cy="289.7" r="1.75" fill="url(#atomc)"/>
<circle cx="86.4" cy="292.3" r="1.75" fill="url(#atomc)"/>
<circle cx="89.7" cy="287.2" r="1.75" fill="url(#atomc)"/>
<circle cx="89.6" cy="289.8" r="1.75" fill="url(#atomc)"/>
<circle cx="89.6" cy="292.4" r="1.75" fill="url(#atomc)"/>
<circle cx="92.9" cy="287.3" r="1.75" fill="url(#atomc)"/>
<circle cx="92.8" cy="289.9" r="1.75" fill="url(#atomc)"/>
<circle cx="92.8" cy="292.5" r="1.75" fill="url(#atomc)"/>
<circle cx="96.1" cy="287.3" r="1.75" fill="url(#atomc)"/>
<circle cx="96.0" cy="289.9" r="1.75" fill="url(#atomc)"/>
<circle cx="96.0" cy="292.5" r="1.75" fill="url(#atomc)"/>
<circle cx="99.3" cy="287.4" r="1.75" fill="url(#atomc)"/>
<circle cx="99.2" cy="290.0" r="1.75" fill="url(#atomc)"/>
<circle cx="99.2" cy="292.6" r="1.75" fill="url(#atomc)"/>
<circle cx="65.1" cy="212.7" r="1.15" fill="#e4e4e4"/>
<circle cx="56.4" cy="224.6" r="1.15" fill="#e4e4e4"/>
<circle cx="68.3" cy="233.3" r="1.15" fill="#e4e4e4"/>
<circle cx="59.5" cy="245.1" r="1.15" fill="#e4e4e4"/>
<circle cx="70.6" cy="254.9" r="1.15" fill="#e4e4e4"/>
<circle cx="60.4" cy="265.4" r="1.15" fill="#e4e4e4"/>
<circle cx="70.6" cy="275.1" r="1.15" fill="#e4e4e4"/>
<circle cx="64.8" cy="290.2" r="1.15" fill="#e4e4e4"/>
<circle cx="77.8" cy="284.2" r="1.15" fill="#e4e4e4"/>
<circle cx="87.8" cy="295.0" r="1.15" fill="#e4e4e4"/>
<circle cx="98.5" cy="284.8" r="1.15" fill="#e4e4e4"/>
<circle cx="56.4" cy="214.0" r="2.3" fill="url(#atoms)"/>
<circle cx="65.1" cy="223.3" r="2.3" fill="url(#atoms)"/>
<circle cx="59.6" cy="234.8" r="2.3" fill="url(#atoms)"/>
<circle cx="68.3" cy="244.2" r="2.3" fill="url(#atoms)"/>
<circle cx="61.8" cy="255.2" r="2.3" fill="url(#atoms)"/>
<circle cx="69.2" cy="265.7" r="2.3" fill="url(#atoms)"/>
<circle cx="62.0" cy="276.7" r="2.3" fill="url(#atoms)"/>
<circle cx="70.0" cy="283.1" r="2.3" fill="url(#atoms)"/>
<circle cx="77.1" cy="293.0" r="2.3" fill="url(#atoms)"/>
<circle cx="88.0" cy="286.2" r="2.3" fill="url(#atoms)"/>
<circle cx="98.3" cy="293.6" r="2.3" fill="url(#atoms)"/>
<ellipse cx="64.7" cy="249" rx="30" ry="5" fill="url(#glow2)" transform="rotate(50 64.7 249)"/>
<ellipse cx="64.7" cy="249.5" rx="10" ry="11" fill="url(#glowc)"/>
<rect x="149" y="175.7" width="113" height="125.60000000000002" fill="none" stroke="#000" stroke-width="1.1"/>
<g stroke="#000" stroke-width="0.7"><line x1="158.9" y1="301.3" x2="158.9" y2="300.0"/><line x1="158.9" y1="175.7" x2="158.9" y2="177.0"/><line x1="167.6" y1="301.3" x2="167.6" y2="299.1"/><line x1="167.6" y1="175.7" x2="167.6" y2="177.89999999999998"/><line x1="176.3" y1="301.3" x2="176.3" y2="300.0"/><line x1="176.3" y1="175.7" x2="176.3" y2="177.0"/><line x1="185.0" y1="301.3" x2="185.0" y2="299.1"/><line x1="185.0" y1="175.7" x2="185.0" y2="177.89999999999998"/><line x1="193.7" y1="301.3" x2="193.7" y2="300.0"/><line x1="193.7" y1="175.7" x2="193.7" y2="177.0"/><line x1="202.4" y1="301.3" x2="202.4" y2="299.1"/><line x1="202.4" y1="175.7" x2="202.4" y2="177.89999999999998"/><line x1="211.1" y1="301.3" x2="211.1" y2="300.0"/><line x1="211.1" y1="175.7" x2="211.1" y2="177.0"/><line x1="219.8" y1="301.3" x2="219.8" y2="299.1"/><line x1="219.8" y1="175.7" x2="219.8" y2="177.89999999999998"/><line x1="228.5" y1="301.3" x2="228.5" y2="300.0"/><line x1="228.5" y1="175.7" x2="228.5" y2="177.0"/><line x1="237.2" y1="301.3" x2="237.2" y2="299.1"/><line x1="237.2" y1="175.7" x2="237.2" y2="177.89999999999998"/><line x1="245.9" y1="301.3" x2="245.9" y2="300.0"/><line x1="245.9" y1="175.7" x2="245.9" y2="177.0"/><line x1="254.6" y1="301.3" x2="254.6" y2="299.1"/><line x1="254.6" y1="175.7" x2="254.6" y2="177.89999999999998"/><line x1="149" y1="298.6" x2="151.2" y2="298.6"/><line x1="262" y1="298.6" x2="259.8" y2="298.6"/><line x1="149" y1="280.4" x2="150.3" y2="280.4"/><line x1="262" y1="280.4" x2="260.7" y2="280.4"/><line x1="149" y1="262.2" x2="151.2" y2="262.2"/><line x1="262" y1="262.2" x2="259.8" y2="262.2"/><line x1="149" y1="244.0" x2="150.3" y2="244.0"/><line x1="262" y1="244.0" x2="260.7" y2="244.0"/><line x1="149" y1="225.8" x2="151.2" y2="225.8"/><line x1="262" y1="225.8" x2="259.8" y2="225.8"/><line x1="149" y1="207.6" x2="150.3" y2="207.6"/><line x1="262" y1="207.6" x2="260.7" y2="207.6"/><line x1="149" y1="189.4" x2="151.2" y2="189.4"/><line x1="262" y1="189.4" x2="259.8" y2="189.4"/></g>
<text x="150.2" y="310.5" font-size="7.6" text-anchor="middle" fill="#222" >1.2</text>
<text x="167.6" y="310.5" font-size="7.6" text-anchor="middle" fill="#222" >1.4</text>
<text x="185.0" y="310.5" font-size="7.6" text-anchor="middle" fill="#222" >1.6</text>
<text x="202.4" y="310.5" font-size="7.6" text-anchor="middle" fill="#222" >1.8</text>
<text x="219.8" y="310.5" font-size="7.6" text-anchor="middle" fill="#222" >2.0</text>
<text x="237.2" y="310.5" font-size="7.6" text-anchor="middle" fill="#222" >2.2</text>
<text x="254.59999999999997" y="310.5" font-size="7.6" text-anchor="middle" fill="#222" >2.4</text>
<text x="202.5" y="317.7" font-size="7.0" text-anchor="middle" fill="#222" >Photon Energy (eV)</text>
<text x="146.8" y="301.3" font-size="7.6" text-anchor="end" fill="#222" >0</text>
<text x="146.8" y="264.90000000000003" font-size="7.6" text-anchor="end" fill="#222" >1</text>
<text x="146.8" y="228.5" font-size="7.6" text-anchor="end" fill="#222" >2</text>
<text x="146.8" y="192.10000000000002" font-size="7.6" text-anchor="end" fill="#222" >3</text>
<text x="0" y="0" font-size="6.3" font-weight="bold" text-anchor="middle" fill="#222" transform="translate(138.9 236.5) rotate(-90)">Y/&#915; (arb. unit)</text>
<text x="256.6" y="189.2" font-size="6.9" text-anchor="end" fill="#000" >Experiment</text>
<g fill="#a8a8a8"><rect x="173.2" y="227.8" width="1.1" height="1.1"/><rect x="171.0" y="237.6" width="1.1" height="1.1"/><rect x="193.8" y="192.7" width="1.1" height="1.1"/><rect x="176.3" y="223.3" width="1.1" height="1.1"/><rect x="206.2" y="202.1" width="1.1" height="1.1"/><rect x="206.9" y="203.1" width="1.1" height="1.1"/><rect x="235.0" y="239.8" width="1.1" height="1.1"/><rect x="198.3" y="182.3" width="1.1" height="1.1"/><rect x="232.0" y="231.4" width="1.1" height="1.1"/><rect x="222.3" y="233.2" width="1.1" height="1.1"/><rect x="171.0" y="224.0" width="1.1" height="1.1"/><rect x="197.1" y="183.5" width="1.1" height="1.1"/><rect x="173.7" y="234.0" width="1.1" height="1.1"/><rect x="162.5" y="226.4" width="1.1" height="1.1"/><rect x="220.0" y="228.3" width="1.1" height="1.1"/><rect x="207.4" y="199.7" width="1.1" height="1.1"/><rect x="193.7" y="192.7" width="1.1" height="1.1"/><rect x="191.2" y="201.1" width="1.1" height="1.1"/><rect x="175.9" y="234.6" width="1.1" height="1.1"/><rect x="218.7" y="225.8" width="1.1" height="1.1"/><rect x="216.9" y="223.0" width="1.1" height="1.1"/><rect x="186.9" y="208.9" width="1.1" height="1.1"/><rect x="161.6" y="221.9" width="1.1" height="1.1"/><rect x="232.1" y="237.5" width="1.1" height="1.1"/><rect x="230.2" y="229.5" width="1.1" height="1.1"/><rect x="218.7" y="230.2" width="1.1" height="1.1"/><rect x="224.0" y="229.0" width="1.1" height="1.1"/><rect x="182.9" y="220.9" width="1.1" height="1.1"/><rect x="169.6" y="224.8" width="1.1" height="1.1"/><rect x="177.2" y="228.9" width="1.1" height="1.1"/><rect x="174.1" y="214.6" width="1.1" height="1.1"/><rect x="216.6" y="224.2" width="1.1" height="1.1"/><rect x="157.6" y="224.9" width="1.1" height="1.1"/><rect x="228.2" y="237.5" width="1.1" height="1.1"/><rect x="196.9" y="189.0" width="1.1" height="1.1"/><rect x="174.5" y="232.0" width="1.1" height="1.1"/><rect x="177.2" y="227.7" width="1.1" height="1.1"/><rect x="190.5" y="200.7" width="1.1" height="1.1"/><rect x="167.5" y="230.8" width="1.1" height="1.1"/><rect x="159.0" y="227.4" width="1.1" height="1.1"/><rect x="213.8" y="228.6" width="1.1" height="1.1"/><rect x="218.1" y="231.8" width="1.1" height="1.1"/><rect x="219.7" y="232.5" width="1.1" height="1.1"/><rect x="205.4" y="198.5" width="1.1" height="1.1"/><rect x="224.1" y="233.0" width="1.1" height="1.1"/><rect x="177.5" y="228.1" width="1.1" height="1.1"/><rect x="160.4" y="229.9" width="1.1" height="1.1"/><rect x="210.3" y="215.1" width="1.1" height="1.1"/><rect x="201.0" y="184.5" width="1.1" height="1.1"/><rect x="159.7" y="225.7" width="1.1" height="1.1"/><rect x="180.6" y="225.0" width="1.1" height="1.1"/><rect x="192.1" y="202.1" width="1.1" height="1.1"/><rect x="186.9" y="208.9" width="1.1" height="1.1"/><rect x="181.8" y="218.7" width="1.1" height="1.1"/><rect x="157.4" y="216.5" width="1.1" height="1.1"/><rect x="198.4" y="189.6" width="1.1" height="1.1"/><rect x="160.9" y="221.1" width="1.1" height="1.1"/><rect x="157.6" y="214.5" width="1.1" height="1.1"/><rect x="185.1" y="218.0" width="1.1" height="1.1"/><rect x="209.9" y="209.0" width="1.1" height="1.1"/><rect x="190.4" y="203.8" width="1.1" height="1.1"/><rect x="160.3" y="230.1" width="1.1" height="1.1"/><rect x="225.4" y="225.0" width="1.1" height="1.1"/><rect x="179.0" y="219.5" width="1.1" height="1.1"/><rect x="177.4" y="224.9" width="1.1" height="1.1"/><rect x="214.7" y="224.2" width="1.1" height="1.1"/><rect x="174.0" y="234.5" width="1.1" height="1.1"/><rect x="204.4" y="195.9" width="1.1" height="1.1"/><rect x="185.4" y="218.3" width="1.1" height="1.1"/><rect x="213.1" y="215.0" width="1.1" height="1.1"/><rect x="221.2" y="232.4" width="1.1" height="1.1"/><rect x="163.3" y="225.8" width="1.1" height="1.1"/><rect x="212.6" y="221.0" width="1.1" height="1.1"/><rect x="198.1" y="185.1" width="1.1" height="1.1"/><rect x="216.9" y="218.1" width="1.1" height="1.1"/><rect x="200.2" y="189.2" width="1.1" height="1.1"/><rect x="206.6" y="198.3" width="1.1" height="1.1"/><rect x="176.7" y="230.6" width="1.1" height="1.1"/><rect x="185.9" y="211.2" width="1.1" height="1.1"/><rect x="177.2" y="227.9" width="1.1" height="1.1"/><rect x="225.8" y="235.1" width="1.1" height="1.1"/><rect x="208.6" y="207.6" width="1.1" height="1.1"/><rect x="161.0" y="226.7" width="1.1" height="1.1"/><rect x="234.2" y="235.7" width="1.1" height="1.1"/><rect x="185.0" y="215.5" width="1.1" height="1.1"/><rect x="158.3" y="224.0" width="1.1" height="1.1"/><rect x="159.2" y="240.5" width="1.1" height="1.1"/><rect x="160.0" y="218.6" width="1.1" height="1.1"/><rect x="191.8" y="195.7" width="1.1" height="1.1"/><rect x="160.7" y="227.0" width="1.1" height="1.1"/><rect x="231.9" y="232.9" width="1.1" height="1.1"/><rect x="213.7" y="221.2" width="1.1" height="1.1"/><rect x="160.1" y="233.6" width="1.1" height="1.1"/><rect x="196.2" y="189.3" width="1.1" height="1.1"/><rect x="193.1" y="203.7" width="1.1" height="1.1"/><rect x="162.7" y="227.7" width="1.1" height="1.1"/><rect x="190.5" y="204.0" width="1.1" height="1.1"/><rect x="190.5" y="210.1" width="1.1" height="1.1"/><rect x="178.2" y="221.7" width="1.1" height="1.1"/><rect x="200.1" y="178.4" width="1.1" height="1.1"/><rect x="194.7" y="195.6" width="1.1" height="1.1"/><rect x="235.3" y="241.9" width="1.1" height="1.1"/><rect x="213.5" y="222.1" width="1.1" height="1.1"/><rect x="175.6" y="230.9" width="1.1" height="1.1"/><rect x="186.1" y="217.8" width="1.1" height="1.1"/><rect x="220.3" y="235.1" width="1.1" height="1.1"/><rect x="157.5" y="219.7" width="1.1" height="1.1"/><rect x="209.2" y="208.1" width="1.1" height="1.1"/><rect x="222.0" y="230.2" width="1.1" height="1.1"/><rect x="163.0" y="228.0" width="1.1" height="1.1"/><rect x="211.1" y="218.8" width="1.1" height="1.1"/><rect x="201.3" y="184.3" width="1.1" height="1.1"/><rect x="174.2" y="236.3" width="1.1" height="1.1"/><rect x="224.9" y="228.7" width="1.1" height="1.1"/><rect x="211.0" y="210.7" width="1.1" height="1.1"/><rect x="189.4" y="203.0" width="1.1" height="1.1"/><rect x="210.6" y="209.2" width="1.1" height="1.1"/><rect x="227.6" y="231.5" width="1.1" height="1.1"/><rect x="184.4" y="222.3" width="1.1" height="1.1"/><rect x="177.5" y="229.2" width="1.1" height="1.1"/><rect x="209.2" y="212.0" width="1.1" height="1.1"/><rect x="221.2" y="230.2" width="1.1" height="1.1"/><rect x="233.4" y="237.2" width="1.1" height="1.1"/><rect x="196.2" y="190.7" width="1.1" height="1.1"/><rect x="168.1" y="227.0" width="1.1" height="1.1"/><rect x="169.2" y="220.2" width="1.1" height="1.1"/><rect x="157.0" y="222.9" width="1.1" height="1.1"/><rect x="210.1" y="208.5" width="1.1" height="1.1"/><rect x="206.3" y="201.7" width="1.1" height="1.1"/><rect x="200.5" y="185.9" width="1.1" height="1.1"/><rect x="205.8" y="192.6" width="1.1" height="1.1"/><rect x="160.0" y="230.5" width="1.1" height="1.1"/><rect x="224.2" y="229.8" width="1.1" height="1.1"/><rect x="165.0" y="228.5" width="1.1" height="1.1"/><rect x="172.2" y="235.7" width="1.1" height="1.1"/><rect x="167.5" y="224.6" width="1.1" height="1.1"/><rect x="221.1" y="233.8" width="1.1" height="1.1"/><rect x="220.9" y="236.0" width="1.1" height="1.1"/><rect x="185.7" y="213.3" width="1.1" height="1.1"/><rect x="206.4" y="197.8" width="1.1" height="1.1"/><rect x="185.4" y="213.0" width="1.1" height="1.1"/><rect x="168.4" y="221.8" width="1.1" height="1.1"/><rect x="220.2" y="232.4" width="1.1" height="1.1"/><rect x="225.8" y="236.1" width="1.1" height="1.1"/><rect x="173.1" y="225.0" width="1.1" height="1.1"/><rect x="202.3" y="191.8" width="1.1" height="1.1"/><rect x="161.7" y="219.4" width="1.1" height="1.1"/><rect x="167.6" y="234.7" width="1.1" height="1.1"/><rect x="171.8" y="228.4" width="1.1" height="1.1"/><rect x="221.3" y="230.5" width="1.1" height="1.1"/><rect x="231.0" y="236.3" width="1.1" height="1.1"/><rect x="209.3" y="208.6" width="1.1" height="1.1"/><rect x="178.7" y="222.4" width="1.1" height="1.1"/><rect x="210.8" y="213.9" width="1.1" height="1.1"/><rect x="227.0" y="224.4" width="1.1" height="1.1"/><rect x="215.9" y="221.1" width="1.1" height="1.1"/><rect x="214.5" y="218.1" width="1.1" height="1.1"/><rect x="178.6" y="226.7" width="1.1" height="1.1"/><rect x="180.0" y="218.0" width="1.1" height="1.1"/><rect x="230.5" y="232.5" width="1.1" height="1.1"/><rect x="158.9" y="217.2" width="1.1" height="1.1"/><rect x="226.5" y="235.5" width="1.1" height="1.1"/><rect x="178.1" y="230.1" width="1.1" height="1.1"/><rect x="217.4" y="234.1" width="1.1" height="1.1"/><rect x="223.0" y="229.7" width="1.1" height="1.1"/><rect x="193.3" y="194.7" width="1.1" height="1.1"/><rect x="211.0" y="207.9" width="1.1" height="1.1"/><rect x="202.8" y="183.5" width="1.1" height="1.1"/><rect x="180.1" y="225.9" width="1.1" height="1.1"/><rect x="162.5" y="233.0" width="1.1" height="1.1"/><rect x="162.0" y="217.0" width="1.1" height="1.1"/><rect x="168.9" y="215.0" width="1.1" height="1.1"/><rect x="199.7" y="185.7" width="1.1" height="1.1"/><rect x="171.0" y="219.5" width="1.1" height="1.1"/><rect x="206.7" y="198.4" width="1.1" height="1.1"/><rect x="158.1" y="213.7" width="1.1" height="1.1"/><rect x="182.7" y="219.0" width="1.1" height="1.1"/><rect x="233.5" y="236.2" width="1.1" height="1.1"/><rect x="218.5" y="225.0" width="1.1" height="1.1"/><rect x="224.2" y="231.8" width="1.1" height="1.1"/><rect x="203.1" y="188.3" width="1.1" height="1.1"/><rect x="179.0" y="225.0" width="1.1" height="1.1"/><rect x="173.4" y="234.6" width="1.1" height="1.1"/><rect x="221.5" y="230.7" width="1.1" height="1.1"/><rect x="180.7" y="223.2" width="1.1" height="1.1"/><rect x="213.1" y="222.2" width="1.1" height="1.1"/><rect x="162.5" y="214.2" width="1.1" height="1.1"/><rect x="162.0" y="219.4" width="1.1" height="1.1"/><rect x="170.8" y="222.0" width="1.1" height="1.1"/><rect x="163.6" y="217.7" width="1.1" height="1.1"/><rect x="233.6" y="234.7" width="1.1" height="1.1"/><rect x="214.6" y="218.5" width="1.1" height="1.1"/><rect x="191.4" y="195.5" width="1.1" height="1.1"/><rect x="210.0" y="215.2" width="1.1" height="1.1"/><rect x="179.3" y="225.9" width="1.1" height="1.1"/><rect x="207.8" y="202.1" width="1.1" height="1.1"/><rect x="208.3" y="205.5" width="1.1" height="1.1"/><rect x="175.2" y="231.1" width="1.1" height="1.1"/><rect x="200.9" y="187.3" width="1.1" height="1.1"/><rect x="157.1" y="211.3" width="1.1" height="1.1"/><rect x="175.8" y="233.0" width="1.1" height="1.1"/><rect x="215.3" y="221.5" width="1.1" height="1.1"/><rect x="220.8" y="235.6" width="1.1" height="1.1"/><rect x="223.4" y="237.1" width="1.1" height="1.1"/><rect x="178.3" y="232.3" width="1.1" height="1.1"/><rect x="179.3" y="224.7" width="1.1" height="1.1"/><rect x="212.1" y="219.2" width="1.1" height="1.1"/><rect x="173.8" y="242.0" width="1.1" height="1.1"/><rect x="191.2" y="205.1" width="1.1" height="1.1"/><rect x="160.3" y="209.7" width="1.1" height="1.1"/><rect x="195.4" y="190.6" width="1.1" height="1.1"/><rect x="214.9" y="229.2" width="1.1" height="1.1"/><rect x="197.8" y="186.8" width="1.1" height="1.1"/><rect x="194.7" y="192.2" width="1.1" height="1.1"/><rect x="210.6" y="205.2" width="1.1" height="1.1"/><rect x="182.6" y="225.8" width="1.1" height="1.1"/><rect x="186.6" y="210.0" width="1.1" height="1.1"/><rect x="216.8" y="226.0" width="1.1" height="1.1"/><rect x="204.6" y="191.4" width="1.1" height="1.1"/><rect x="192.0" y="200.4" width="1.1" height="1.1"/><rect x="228.9" y="238.1" width="1.1" height="1.1"/><rect x="209.5" y="204.9" width="1.1" height="1.1"/><rect x="159.7" y="224.1" width="1.1" height="1.1"/><rect x="232.5" y="238.3" width="1.1" height="1.1"/><rect x="212.6" y="221.0" width="1.1" height="1.1"/><rect x="182.4" y="222.4" width="1.1" height="1.1"/><rect x="209.5" y="209.5" width="1.1" height="1.1"/><rect x="188.6" y="203.0" width="1.1" height="1.1"/><rect x="173.8" y="229.0" width="1.1" height="1.1"/><rect x="232.3" y="230.6" width="1.1" height="1.1"/><rect x="203.7" y="192.8" width="1.1" height="1.1"/><rect x="206.3" y="195.3" width="1.1" height="1.1"/><rect x="229.9" y="223.2" width="1.1" height="1.1"/><rect x="208.0" y="207.3" width="1.1" height="1.1"/><rect x="212.0" y="218.6" width="1.1" height="1.1"/><rect x="182.1" y="222.2" width="1.1" height="1.1"/><rect x="157.2" y="219.8" width="1.1" height="1.1"/><rect x="217.2" y="226.4" width="1.1" height="1.1"/><rect x="194.4" y="191.7" width="1.1" height="1.1"/><rect x="181.9" y="221.5" width="1.1" height="1.1"/><rect x="212.7" y="212.6" width="1.1" height="1.1"/><rect x="186.1" y="209.2" width="1.1" height="1.1"/><rect x="159.4" y="216.7" width="1.1" height="1.1"/><rect x="209.3" y="219.4" width="1.1" height="1.1"/><rect x="232.3" y="232.6" width="1.1" height="1.1"/><rect x="212.9" y="223.3" width="1.1" height="1.1"/><rect x="193.6" y="198.8" width="1.1" height="1.1"/><rect x="230.1" y="237.9" width="1.1" height="1.1"/><rect x="176.7" y="230.1" width="1.1" height="1.1"/><rect x="196.6" y="187.9" width="1.1" height="1.1"/><rect x="230.1" y="235.5" width="1.1" height="1.1"/><rect x="164.4" y="227.6" width="1.1" height="1.1"/><rect x="160.0" y="220.4" width="1.1" height="1.1"/><rect x="233.2" y="232.5" width="1.1" height="1.1"/><rect x="225.9" y="235.7" width="1.1" height="1.1"/><rect x="228.4" y="236.6" width="1.1" height="1.1"/><rect x="230.2" y="228.3" width="1.1" height="1.1"/><rect x="176.8" y="234.5" width="1.1" height="1.1"/><rect x="164.2" y="225.0" width="1.1" height="1.1"/><rect x="205.1" y="192.1" width="1.1" height="1.1"/><rect x="224.9" y="234.1" width="1.1" height="1.1"/><rect x="158.2" y="226.2" width="1.1" height="1.1"/><rect x="220.0" y="230.9" width="1.1" height="1.1"/><rect x="234.9" y="227.6" width="1.1" height="1.1"/><rect x="200.8" y="188.5" width="1.1" height="1.1"/><rect x="164.4" y="223.0" width="1.1" height="1.1"/><rect x="212.2" y="221.2" width="1.1" height="1.1"/><rect x="202.6" y="184.1" width="1.1" height="1.1"/><rect x="217.6" y="224.5" width="1.1" height="1.1"/><rect x="157.7" y="229.7" width="1.1" height="1.1"/><rect x="168.2" y="225.8" width="1.1" height="1.1"/><rect x="194.8" y="186.6" width="1.1" height="1.1"/><rect x="168.8" y="232.9" width="1.1" height="1.1"/><rect x="174.9" y="241.7" width="1.1" height="1.1"/><rect x="220.2" y="231.6" width="1.1" height="1.1"/><rect x="188.5" y="206.3" width="1.1" height="1.1"/><rect x="172.3" y="217.1" width="1.1" height="1.1"/><rect x="187.5" y="213.2" width="1.1" height="1.1"/><rect x="173.0" y="232.0" width="1.1" height="1.1"/><rect x="192.6" y="193.1" width="1.1" height="1.1"/><rect x="173.9" y="234.6" width="1.1" height="1.1"/><rect x="212.2" y="215.9" width="1.1" height="1.1"/><rect x="178.4" y="221.2" width="1.1" height="1.1"/><rect x="224.6" y="231.6" width="1.1" height="1.1"/><rect x="189.1" y="207.1" width="1.1" height="1.1"/><rect x="236.3" y="227.9" width="1.1" height="1.1"/><rect x="168.4" y="214.2" width="1.1" height="1.1"/><rect x="217.6" y="230.0" width="1.1" height="1.1"/><rect x="215.5" y="226.3" width="1.1" height="1.1"/><rect x="216.9" y="227.8" width="1.1" height="1.1"/><rect x="232.4" y="233.4" width="1.1" height="1.1"/><rect x="209.7" y="216.9" width="1.1" height="1.1"/><rect x="159.9" y="224.6" width="1.1" height="1.1"/><rect x="202.4" y="190.6" width="1.1" height="1.1"/><rect x="210.7" y="213.0" width="1.1" height="1.1"/><rect x="158.5" y="227.2" width="1.1" height="1.1"/><rect x="190.6" y="203.1" width="1.1" height="1.1"/><rect x="217.1" y="231.2" width="1.1" height="1.1"/><rect x="223.5" y="231.9" width="1.1" height="1.1"/><rect x="181.4" y="223.0" width="1.1" height="1.1"/><rect x="235.0" y="237.1" width="1.1" height="1.1"/><rect x="225.9" y="236.7" width="1.1" height="1.1"/><rect x="205.1" y="195.7" width="1.1" height="1.1"/><rect x="202.4" y="192.5" width="1.1" height="1.1"/><rect x="198.6" y="193.9" width="1.1" height="1.1"/><rect x="233.5" y="229.6" width="1.1" height="1.1"/><rect x="231.9" y="226.0" width="1.1" height="1.1"/><rect x="175.1" y="226.5" width="1.1" height="1.1"/><rect x="200.0" y="181.3" width="1.1" height="1.1"/><rect x="202.8" y="191.5" width="1.1" height="1.1"/><rect x="159.5" y="218.5" width="1.1" height="1.1"/><rect x="190.0" y="211.1" width="1.1" height="1.1"/><rect x="211.4" y="209.7" width="1.1" height="1.1"/><rect x="160.7" y="218.2" width="1.1" height="1.1"/><rect x="188.0" y="208.1" width="1.1" height="1.1"/><rect x="195.4" y="189.8" width="1.1" height="1.1"/><rect x="178.3" y="220.7" width="1.1" height="1.1"/><rect x="203.8" y="197.8" width="1.1" height="1.1"/><rect x="195.3" y="189.2" width="1.1" height="1.1"/><rect x="192.2" y="202.5" width="1.1" height="1.1"/><rect x="185.6" y="208.2" width="1.1" height="1.1"/><rect x="175.5" y="225.1" width="1.1" height="1.1"/><rect x="188.7" y="203.3" width="1.1" height="1.1"/><rect x="177.8" y="227.8" width="1.1" height="1.1"/><rect x="200.5" y="182.1" width="1.1" height="1.1"/><rect x="216.8" y="225.7" width="1.1" height="1.1"/><rect x="160.5" y="229.1" width="1.1" height="1.1"/><rect x="218.5" y="233.1" width="1.1" height="1.1"/><rect x="194.1" y="199.5" width="1.1" height="1.1"/><rect x="196.0" y="186.6" width="1.1" height="1.1"/><rect x="197.9" y="188.5" width="1.1" height="1.1"/><rect x="200.4" y="189.9" width="1.1" height="1.1"/><rect x="181.2" y="220.7" width="1.1" height="1.1"/><rect x="217.1" y="228.8" width="1.1" height="1.1"/><rect x="213.9" y="219.9" width="1.1" height="1.1"/><rect x="191.5" y="205.7" width="1.1" height="1.1"/><rect x="173.6" y="229.7" width="1.1" height="1.1"/><rect x="224.9" y="235.0" width="1.1" height="1.1"/><rect x="214.0" y="219.7" width="1.1" height="1.1"/><rect x="177.9" y="225.7" width="1.1" height="1.1"/><rect x="204.8" y="196.8" width="1.1" height="1.1"/><rect x="157.6" y="222.1" width="1.1" height="1.1"/><rect x="231.5" y="238.1" width="1.1" height="1.1"/><rect x="174.5" y="242.2" width="1.1" height="1.1"/><rect x="209.7" y="213.4" width="1.1" height="1.1"/><rect x="166.6" y="221.1" width="1.1" height="1.1"/><rect x="202.4" y="193.6" width="1.1" height="1.1"/><rect x="164.7" y="223.8" width="1.1" height="1.1"/><rect x="208.5" y="208.5" width="1.1" height="1.1"/><rect x="201.0" y="185.4" width="1.1" height="1.1"/><rect x="200.2" y="190.3" width="1.1" height="1.1"/><rect x="216.7" y="221.2" width="1.1" height="1.1"/><rect x="209.9" y="213.1" width="1.1" height="1.1"/><rect x="183.0" y="218.8" width="1.1" height="1.1"/><rect x="218.5" y="235.8" width="1.1" height="1.1"/><rect x="178.4" y="225.0" width="1.1" height="1.1"/><rect x="208.7" y="206.0" width="1.1" height="1.1"/><rect x="226.6" y="231.1" width="1.1" height="1.1"/><rect x="169.8" y="232.2" width="1.1" height="1.1"/><rect x="176.4" y="223.9" width="1.1" height="1.1"/><rect x="233.1" y="230.2" width="1.1" height="1.1"/><rect x="218.4" y="227.6" width="1.1" height="1.1"/><rect x="178.5" y="229.7" width="1.1" height="1.1"/><rect x="166.3" y="216.1" width="1.1" height="1.1"/><rect x="209.6" y="203.6" width="1.1" height="1.1"/><rect x="227.4" y="234.9" width="1.1" height="1.1"/><rect x="190.8" y="198.5" width="1.1" height="1.1"/><rect x="161.2" y="211.2" width="1.1" height="1.1"/><rect x="171.1" y="239.3" width="1.1" height="1.1"/><rect x="214.4" y="227.7" width="1.1" height="1.1"/><rect x="189.8" y="199.6" width="1.1" height="1.1"/><rect x="220.2" y="232.4" width="1.1" height="1.1"/><rect x="170.1" y="224.5" width="1.1" height="1.1"/><rect x="203.4" y="190.1" width="1.1" height="1.1"/><rect x="180.7" y="226.9" width="1.1" height="1.1"/><rect x="184.5" y="211.2" width="1.1" height="1.1"/><rect x="185.6" y="214.1" width="1.1" height="1.1"/><rect x="184.3" y="211.8" width="1.1" height="1.1"/><rect x="162.3" y="232.6" width="1.1" height="1.1"/><rect x="234.4" y="235.4" width="1.1" height="1.1"/><rect x="188.1" y="237.3" width="1.1" height="1.1"/><rect x="196.0" y="227.3" width="1.1" height="1.1"/><rect x="175.3" y="254.4" width="1.1" height="1.1"/><rect x="183.7" y="241.3" width="1.1" height="1.1"/><rect x="171.8" y="248.7" width="1.1" height="1.1"/><rect x="194.9" y="228.1" width="1.1" height="1.1"/><rect x="223.2" y="256.3" width="1.1" height="1.1"/><rect x="193.3" y="229.9" width="1.1" height="1.1"/><rect x="182.7" y="243.0" width="1.1" height="1.1"/><rect x="224.8" y="254.2" width="1.1" height="1.1"/><rect x="160.1" y="245.2" width="1.1" height="1.1"/><rect x="159.0" y="249.4" width="1.1" height="1.1"/><rect x="222.2" y="256.4" width="1.1" height="1.1"/><rect x="214.7" y="247.4" width="1.1" height="1.1"/><rect x="169.8" y="233.9" width="1.1" height="1.1"/><rect x="173.9" y="243.6" width="1.1" height="1.1"/><rect x="199.7" y="227.0" width="1.1" height="1.1"/><rect x="229.0" y="248.5" width="1.1" height="1.1"/><rect x="189.0" y="238.2" width="1.1" height="1.1"/><rect x="162.8" y="256.3" width="1.1" height="1.1"/><rect x="211.1" y="242.5" width="1.1" height="1.1"/><rect x="195.1" y="232.2" width="1.1" height="1.1"/><rect x="206.8" y="231.2" width="1.1" height="1.1"/><rect x="223.5" y="261.7" width="1.1" height="1.1"/><rect x="224.9" y="258.1" width="1.1" height="1.1"/><rect x="222.1" y="266.8" width="1.1" height="1.1"/><rect x="157.7" y="251.6" width="1.1" height="1.1"/><rect x="228.9" y="254.9" width="1.1" height="1.1"/><rect x="186.1" y="239.9" width="1.1" height="1.1"/><rect x="222.0" y="248.1" width="1.1" height="1.1"/><rect x="173.5" y="243.6" width="1.1" height="1.1"/><rect x="235.3" y="253.3" width="1.1" height="1.1"/><rect x="159.5" y="243.1" width="1.1" height="1.1"/><rect x="181.2" y="248.8" width="1.1" height="1.1"/><rect x="228.9" y="253.0" width="1.1" height="1.1"/><rect x="165.4" y="243.5" width="1.1" height="1.1"/><rect x="219.0" y="251.8" width="1.1" height="1.1"/><rect x="174.4" y="249.3" width="1.1" height="1.1"/><rect x="192.4" y="233.8" width="1.1" height="1.1"/><rect x="158.3" y="248.5" width="1.1" height="1.1"/><rect x="216.2" y="252.7" width="1.1" height="1.1"/><rect x="209.3" y="238.6" width="1.1" height="1.1"/><rect x="174.5" y="236.1" width="1.1" height="1.1"/><rect x="230.4" y="252.0" width="1.1" height="1.1"/><rect x="216.0" y="249.9" width="1.1" height="1.1"/><rect x="226.1" y="250.6" width="1.1" height="1.1"/><rect x="204.4" y="226.5" width="1.1" height="1.1"/><rect x="165.5" y="251.6" width="1.1" height="1.1"/><rect x="209.9" y="248.5" width="1.1" height="1.1"/><rect x="180.0" y="236.6" width="1.1" height="1.1"/><rect x="160.0" y="239.5" width="1.1" height="1.1"/><rect x="212.3" y="240.0" width="1.1" height="1.1"/><rect x="158.6" y="245.7" width="1.1" height="1.1"/><rect x="220.3" y="254.4" width="1.1" height="1.1"/><rect x="227.7" y="249.3" width="1.1" height="1.1"/><rect x="183.3" y="238.6" width="1.1" height="1.1"/><rect x="186.0" y="234.4" width="1.1" height="1.1"/><rect x="197.5" y="225.5" width="1.1" height="1.1"/><rect x="158.8" y="247.1" width="1.1" height="1.1"/><rect x="182.2" y="239.5" width="1.1" height="1.1"/><rect x="162.1" y="255.3" width="1.1" height="1.1"/><rect x="232.0" y="253.2" width="1.1" height="1.1"/><rect x="220.3" y="253.9" width="1.1" height="1.1"/><rect x="218.7" y="257.4" width="1.1" height="1.1"/><rect x="229.1" y="252.1" width="1.1" height="1.1"/><rect x="213.8" y="245.3" width="1.1" height="1.1"/><rect x="173.9" y="242.0" width="1.1" height="1.1"/><rect x="234.4" y="255.3" width="1.1" height="1.1"/><rect x="216.5" y="255.2" width="1.1" height="1.1"/><rect x="166.9" y="249.5" width="1.1" height="1.1"/><rect x="199.7" y="224.8" width="1.1" height="1.1"/><rect x="211.8" y="239.5" width="1.1" height="1.1"/><rect x="199.9" y="228.4" width="1.1" height="1.1"/><rect x="193.4" y="230.9" width="1.1" height="1.1"/><rect x="190.6" y="222.0" width="1.1" height="1.1"/><rect x="203.1" y="233.3" width="1.1" height="1.1"/><rect x="215.4" y="252.5" width="1.1" height="1.1"/><rect x="214.7" y="257.4" width="1.1" height="1.1"/><rect x="170.9" y="258.0" width="1.1" height="1.1"/><rect x="190.9" y="233.8" width="1.1" height="1.1"/><rect x="178.0" y="244.4" width="1.1" height="1.1"/><rect x="174.3" y="251.0" width="1.1" height="1.1"/><rect x="192.9" y="225.1" width="1.1" height="1.1"/><rect x="159.1" y="240.8" width="1.1" height="1.1"/><rect x="193.3" y="228.1" width="1.1" height="1.1"/><rect x="208.5" y="234.0" width="1.1" height="1.1"/><rect x="233.1" y="254.6" width="1.1" height="1.1"/><rect x="228.3" y="253.0" width="1.1" height="1.1"/><rect x="175.3" y="259.8" width="1.1" height="1.1"/><rect x="221.3" y="256.5" width="1.1" height="1.1"/><rect x="164.2" y="247.7" width="1.1" height="1.1"/><rect x="166.3" y="240.7" width="1.1" height="1.1"/><rect x="177.4" y="239.1" width="1.1" height="1.1"/><rect x="216.4" y="252.8" width="1.1" height="1.1"/><rect x="214.5" y="248.7" width="1.1" height="1.1"/><rect x="161.1" y="243.7" width="1.1" height="1.1"/><rect x="189.7" y="231.4" width="1.1" height="1.1"/><rect x="190.2" y="237.4" width="1.1" height="1.1"/><rect x="219.0" y="252.1" width="1.1" height="1.1"/><rect x="172.4" y="250.3" width="1.1" height="1.1"/><rect x="229.2" y="248.2" width="1.1" height="1.1"/><rect x="175.5" y="246.7" width="1.1" height="1.1"/><rect x="224.1" y="253.8" width="1.1" height="1.1"/><rect x="222.8" y="259.5" width="1.1" height="1.1"/><rect x="172.9" y="248.8" width="1.1" height="1.1"/><rect x="229.6" y="262.6" width="1.1" height="1.1"/><rect x="196.0" y="226.3" width="1.1" height="1.1"/><rect x="190.0" y="235.4" width="1.1" height="1.1"/><rect x="192.2" y="228.6" width="1.1" height="1.1"/><rect x="229.5" y="255.0" width="1.1" height="1.1"/><rect x="204.6" y="227.4" width="1.1" height="1.1"/><rect x="192.5" y="234.9" width="1.1" height="1.1"/><rect x="162.3" y="247.8" width="1.1" height="1.1"/><rect x="182.6" y="243.5" width="1.1" height="1.1"/><rect x="161.8" y="238.7" width="1.1" height="1.1"/><rect x="199.5" y="223.9" width="1.1" height="1.1"/><rect x="230.6" y="258.5" width="1.1" height="1.1"/><rect x="173.7" y="254.4" width="1.1" height="1.1"/><rect x="180.4" y="240.0" width="1.1" height="1.1"/><rect x="196.2" y="230.1" width="1.1" height="1.1"/><rect x="166.5" y="247.3" width="1.1" height="1.1"/><rect x="180.2" y="238.3" width="1.1" height="1.1"/><rect x="196.0" y="229.6" width="1.1" height="1.1"/><rect x="235.9" y="259.1" width="1.1" height="1.1"/><rect x="210.2" y="242.8" width="1.1" height="1.1"/><rect x="195.5" y="223.4" width="1.1" height="1.1"/><rect x="192.3" y="233.1" width="1.1" height="1.1"/><rect x="196.6" y="230.5" width="1.1" height="1.1"/><rect x="229.8" y="260.2" width="1.1" height="1.1"/><rect x="182.3" y="242.1" width="1.1" height="1.1"/><rect x="203.9" y="231.1" width="1.1" height="1.1"/><rect x="194.7" y="224.3" width="1.1" height="1.1"/><rect x="224.4" y="254.9" width="1.1" height="1.1"/><rect x="232.2" y="255.4" width="1.1" height="1.1"/><rect x="215.8" y="251.8" width="1.1" height="1.1"/><rect x="221.6" y="253.1" width="1.1" height="1.1"/><rect x="231.9" y="252.9" width="1.1" height="1.1"/><rect x="222.1" y="255.2" width="1.1" height="1.1"/><rect x="205.4" y="234.1" width="1.1" height="1.1"/><rect x="176.8" y="249.7" width="1.1" height="1.1"/><rect x="202.3" y="231.7" width="1.1" height="1.1"/><rect x="213.9" y="247.3" width="1.1" height="1.1"/><rect x="223.3" y="264.0" width="1.1" height="1.1"/><rect x="222.3" y="256.9" width="1.1" height="1.1"/><rect x="211.5" y="240.9" width="1.1" height="1.1"/><rect x="168.0" y="252.7" width="1.1" height="1.1"/><rect x="224.9" y="257.5" width="1.1" height="1.1"/><rect x="171.9" y="250.3" width="1.1" height="1.1"/><rect x="182.0" y="250.5" width="1.1" height="1.1"/><rect x="183.6" y="235.6" width="1.1" height="1.1"/><rect x="204.4" y="233.6" width="1.1" height="1.1"/><rect x="190.2" y="232.6" width="1.1" height="1.1"/><rect x="208.2" y="243.8" width="1.1" height="1.1"/><rect x="178.6" y="243.6" width="1.1" height="1.1"/><rect x="163.0" y="252.7" width="1.1" height="1.1"/><rect x="215.6" y="247.1" width="1.1" height="1.1"/><rect x="163.6" y="244.3" width="1.1" height="1.1"/><rect x="195.4" y="233.5" width="1.1" height="1.1"/><rect x="194.6" y="227.1" width="1.1" height="1.1"/><rect x="223.3" y="255.9" width="1.1" height="1.1"/><rect x="160.1" y="245.4" width="1.1" height="1.1"/><rect x="221.1" y="256.4" width="1.1" height="1.1"/><rect x="220.8" y="247.9" width="1.1" height="1.1"/><rect x="173.1" y="247.8" width="1.1" height="1.1"/><rect x="184.3" y="230.7" width="1.1" height="1.1"/><rect x="202.5" y="229.9" width="1.1" height="1.1"/><rect x="216.0" y="248.5" width="1.1" height="1.1"/><rect x="210.4" y="246.8" width="1.1" height="1.1"/><rect x="222.7" y="257.5" width="1.1" height="1.1"/><rect x="201.2" y="228.3" width="1.1" height="1.1"/><rect x="162.0" y="237.2" width="1.1" height="1.1"/><rect x="176.9" y="245.6" width="1.1" height="1.1"/><rect x="221.8" y="252.7" width="1.1" height="1.1"/><rect x="235.9" y="256.0" width="1.1" height="1.1"/><rect x="185.4" y="237.0" width="1.1" height="1.1"/><rect x="194.3" y="227.6" width="1.1" height="1.1"/><rect x="236.4" y="254.2" width="1.1" height="1.1"/><rect x="187.5" y="238.8" width="1.1" height="1.1"/><rect x="235.2" y="253.8" width="1.1" height="1.1"/><rect x="204.3" y="225.1" width="1.1" height="1.1"/><rect x="200.4" y="228.5" width="1.1" height="1.1"/><rect x="215.3" y="247.2" width="1.1" height="1.1"/><rect x="157.3" y="247.8" width="1.1" height="1.1"/><rect x="180.0" y="247.4" width="1.1" height="1.1"/><rect x="159.3" y="247.4" width="1.1" height="1.1"/><rect x="203.5" y="229.5" width="1.1" height="1.1"/><rect x="187.5" y="234.2" width="1.1" height="1.1"/><rect x="186.0" y="239.8" width="1.1" height="1.1"/><rect x="186.6" y="240.3" width="1.1" height="1.1"/><rect x="205.8" y="238.1" width="1.1" height="1.1"/><rect x="204.7" y="227.5" width="1.1" height="1.1"/><rect x="188.5" y="231.4" width="1.1" height="1.1"/><rect x="215.4" y="243.2" width="1.1" height="1.1"/><rect x="163.6" y="254.4" width="1.1" height="1.1"/><rect x="180.5" y="247.7" width="1.1" height="1.1"/><rect x="224.4" y="259.4" width="1.1" height="1.1"/><rect x="212.3" y="244.5" width="1.1" height="1.1"/><rect x="231.1" y="260.2" width="1.1" height="1.1"/><rect x="190.2" y="230.3" width="1.1" height="1.1"/><rect x="221.6" y="260.6" width="1.1" height="1.1"/><rect x="160.3" y="245.2" width="1.1" height="1.1"/><rect x="215.4" y="250.8" width="1.1" height="1.1"/><rect x="223.9" y="256.1" width="1.1" height="1.1"/><rect x="189.5" y="231.0" width="1.1" height="1.1"/><rect x="168.2" y="252.2" width="1.1" height="1.1"/><rect x="176.8" y="250.4" width="1.1" height="1.1"/><rect x="188.3" y="237.2" width="1.1" height="1.1"/><rect x="211.2" y="237.7" width="1.1" height="1.1"/><rect x="203.5" y="236.1" width="1.1" height="1.1"/><rect x="175.4" y="246.3" width="1.1" height="1.1"/><rect x="183.5" y="241.0" width="1.1" height="1.1"/><rect x="164.5" y="255.5" width="1.1" height="1.1"/><rect x="207.7" y="239.3" width="1.1" height="1.1"/><rect x="166.1" y="253.6" width="1.1" height="1.1"/><rect x="194.4" y="225.5" width="1.1" height="1.1"/><rect x="159.4" y="244.0" width="1.1" height="1.1"/><rect x="221.4" y="251.8" width="1.1" height="1.1"/><rect x="198.6" y="223.9" width="1.1" height="1.1"/><rect x="234.7" y="254.9" width="1.1" height="1.1"/><rect x="195.6" y="231.6" width="1.1" height="1.1"/><rect x="200.3" y="230.2" width="1.1" height="1.1"/><rect x="177.7" y="248.2" width="1.1" height="1.1"/><rect x="187.1" y="233.0" width="1.1" height="1.1"/><rect x="157.8" y="252.8" width="1.1" height="1.1"/><rect x="167.6" y="255.0" width="1.1" height="1.1"/><rect x="235.2" y="259.0" width="1.1" height="1.1"/><rect x="160.3" y="245.7" width="1.1" height="1.1"/><rect x="180.5" y="243.9" width="1.1" height="1.1"/><rect x="235.5" y="260.0" width="1.1" height="1.1"/><rect x="216.8" y="255.3" width="1.1" height="1.1"/><rect x="172.0" y="246.5" width="1.1" height="1.1"/><rect x="162.6" y="249.9" width="1.1" height="1.1"/><rect x="221.8" y="256.6" width="1.1" height="1.1"/><rect x="214.7" y="242.3" width="1.1" height="1.1"/><rect x="213.5" y="243.2" width="1.1" height="1.1"/><rect x="193.1" y="229.6" width="1.1" height="1.1"/><rect x="162.4" y="248.9" width="1.1" height="1.1"/><rect x="162.9" y="249.6" width="1.1" height="1.1"/><rect x="195.8" y="225.4" width="1.1" height="1.1"/><rect x="192.5" y="233.8" width="1.1" height="1.1"/><rect x="183.9" y="244.8" width="1.1" height="1.1"/><rect x="163.9" y="252.6" width="1.1" height="1.1"/><rect x="165.4" y="250.4" width="1.1" height="1.1"/><rect x="178.1" y="245.0" width="1.1" height="1.1"/><rect x="208.7" y="239.6" width="1.1" height="1.1"/><rect x="203.5" y="231.1" width="1.1" height="1.1"/><rect x="207.1" y="232.8" width="1.1" height="1.1"/><rect x="176.1" y="255.0" width="1.1" height="1.1"/><rect x="205.0" y="232.4" width="1.1" height="1.1"/><rect x="208.2" y="238.6" width="1.1" height="1.1"/><rect x="168.9" y="250.1" width="1.1" height="1.1"/><rect x="200.6" y="224.6" width="1.1" height="1.1"/><rect x="192.7" y="229.6" width="1.1" height="1.1"/><rect x="200.0" y="224.3" width="1.1" height="1.1"/><rect x="206.2" y="228.1" width="1.1" height="1.1"/><rect x="195.8" y="220.5" width="1.1" height="1.1"/><rect x="172.6" y="242.8" width="1.1" height="1.1"/><rect x="232.0" y="251.8" width="1.1" height="1.1"/><rect x="182.4" y="238.1" width="1.1" height="1.1"/><rect x="189.6" y="233.4" width="1.1" height="1.1"/><rect x="164.2" y="243.8" width="1.1" height="1.1"/><rect x="231.4" y="257.2" width="1.1" height="1.1"/><rect x="210.8" y="242.3" width="1.1" height="1.1"/><rect x="157.0" y="247.3" width="1.1" height="1.1"/><rect x="160.3" y="249.1" width="1.1" height="1.1"/><rect x="215.8" y="245.9" width="1.1" height="1.1"/><rect x="215.7" y="250.2" width="1.1" height="1.1"/><rect x="180.5" y="242.2" width="1.1" height="1.1"/><rect x="176.9" y="245.1" width="1.1" height="1.1"/><rect x="167.6" y="252.2" width="1.1" height="1.1"/><rect x="214.2" y="249.1" width="1.1" height="1.1"/><rect x="165.8" y="258.4" width="1.1" height="1.1"/><rect x="194.9" y="225.4" width="1.1" height="1.1"/><rect x="235.1" y="256.6" width="1.1" height="1.1"/><rect x="178.9" y="247.6" width="1.1" height="1.1"/><rect x="189.6" y="233.0" width="1.1" height="1.1"/><rect x="172.1" y="247.4" width="1.1" height="1.1"/><rect x="227.7" y="248.6" width="1.1" height="1.1"/><rect x="235.9" y="261.6" width="1.1" height="1.1"/><rect x="181.2" y="238.3" width="1.1" height="1.1"/><rect x="212.2" y="245.7" width="1.1" height="1.1"/><rect x="235.3" y="255.0" width="1.1" height="1.1"/><rect x="170.9" y="251.8" width="1.1" height="1.1"/><rect x="183.2" y="244.8" width="1.1" height="1.1"/><rect x="222.0" y="256.6" width="1.1" height="1.1"/><rect x="203.8" y="225.8" width="1.1" height="1.1"/><rect x="221.2" y="257.2" width="1.1" height="1.1"/><rect x="183.2" y="241.9" width="1.1" height="1.1"/><rect x="204.9" y="238.3" width="1.1" height="1.1"/><rect x="185.0" y="236.6" width="1.1" height="1.1"/><rect x="207.0" y="233.4" width="1.1" height="1.1"/><rect x="193.0" y="226.6" width="1.1" height="1.1"/><rect x="205.3" y="226.8" width="1.1" height="1.1"/><rect x="219.3" y="255.7" width="1.1" height="1.1"/><rect x="163.0" y="244.9" width="1.1" height="1.1"/><rect x="169.9" y="256.7" width="1.1" height="1.1"/><rect x="161.5" y="248.5" width="1.1" height="1.1"/><rect x="218.0" y="254.7" width="1.1" height="1.1"/><rect x="193.6" y="231.7" width="1.1" height="1.1"/><rect x="178.9" y="250.0" width="1.1" height="1.1"/><rect x="221.2" y="255.8" width="1.1" height="1.1"/><rect x="198.0" y="222.2" width="1.1" height="1.1"/><rect x="165.3" y="255.8" width="1.1" height="1.1"/><rect x="232.4" y="247.5" width="1.1" height="1.1"/><rect x="199.5" y="220.7" width="1.1" height="1.1"/><rect x="222.2" y="254.1" width="1.1" height="1.1"/><rect x="208.7" y="237.9" width="1.1" height="1.1"/><rect x="223.2" y="262.2" width="1.1" height="1.1"/><rect x="170.4" y="241.6" width="1.1" height="1.1"/><rect x="205.8" y="230.0" width="1.1" height="1.1"/><rect x="163.6" y="237.5" width="1.1" height="1.1"/><rect x="164.8" y="238.6" width="1.1" height="1.1"/><rect x="230.4" y="261.7" width="1.1" height="1.1"/><rect x="206.5" y="230.6" width="1.1" height="1.1"/><rect x="180.7" y="238.7" width="1.1" height="1.1"/><rect x="184.8" y="238.7" width="1.1" height="1.1"/><rect x="206.7" y="232.1" width="1.1" height="1.1"/><rect x="229.4" y="253.9" width="1.1" height="1.1"/><rect x="175.0" y="243.4" width="1.1" height="1.1"/><rect x="160.0" y="245.3" width="1.1" height="1.1"/><rect x="216.9" y="253.8" width="1.1" height="1.1"/><rect x="165.3" y="243.5" width="1.1" height="1.1"/><rect x="187.5" y="234.5" width="1.1" height="1.1"/><rect x="168.4" y="244.2" width="1.1" height="1.1"/><rect x="185.4" y="237.7" width="1.1" height="1.1"/><rect x="228.6" y="249.3" width="1.1" height="1.1"/><rect x="214.3" y="249.4" width="1.1" height="1.1"/><rect x="209.3" y="242.4" width="1.1" height="1.1"/><rect x="223.9" y="263.8" width="1.1" height="1.1"/><rect x="230.5" y="257.8" width="1.1" height="1.1"/><rect x="189.5" y="234.0" width="1.1" height="1.1"/><rect x="189.7" y="230.0" width="1.1" height="1.1"/><rect x="229.9" y="257.3" width="1.1" height="1.1"/><rect x="166.2" y="244.2" width="1.1" height="1.1"/><rect x="220.6" y="255.9" width="1.1" height="1.1"/><rect x="178.5" y="243.5" width="1.1" height="1.1"/><rect x="207.3" y="230.0" width="1.1" height="1.1"/><rect x="178.7" y="246.4" width="1.1" height="1.1"/><rect x="168.3" y="253.2" width="1.1" height="1.1"/><rect x="212.7" y="243.3" width="1.1" height="1.1"/><rect x="204.6" y="229.5" width="1.1" height="1.1"/><rect x="196.6" y="219.6" width="1.1" height="1.1"/><rect x="185.1" y="235.5" width="1.1" height="1.1"/><rect x="174.3" y="244.0" width="1.1" height="1.1"/><rect x="169.4" y="256.1" width="1.1" height="1.1"/><rect x="168.0" y="248.0" width="1.1" height="1.1"/><rect x="202.8" y="232.3" width="1.1" height="1.1"/><rect x="178.1" y="245.5" width="1.1" height="1.1"/><rect x="166.8" y="249.5" width="1.1" height="1.1"/><rect x="193.8" y="224.8" width="1.1" height="1.1"/><rect x="206.2" y="234.4" width="1.1" height="1.1"/><rect x="196.3" y="231.3" width="1.1" height="1.1"/><rect x="166.7" y="244.8" width="1.1" height="1.1"/><rect x="167.9" y="257.5" width="1.1" height="1.1"/><rect x="199.1" y="220.0" width="1.1" height="1.1"/><rect x="235.3" y="258.6" width="1.1" height="1.1"/><rect x="165.2" y="246.9" width="1.1" height="1.1"/><rect x="212.9" y="248.4" width="1.1" height="1.1"/><rect x="194.8" y="219.0" width="1.1" height="1.1"/><rect x="208.1" y="239.7" width="1.1" height="1.1"/><rect x="215.7" y="264.3" width="1.1" height="1.1"/><rect x="184.6" y="257.2" width="1.1" height="1.1"/><rect x="229.5" y="267.2" width="1.1" height="1.1"/><rect x="223.9" y="264.7" width="1.1" height="1.1"/><rect x="172.1" y="265.4" width="1.1" height="1.1"/><rect x="196.5" y="250.9" width="1.1" height="1.1"/><rect x="170.9" y="269.2" width="1.1" height="1.1"/><rect x="232.1" y="265.1" width="1.1" height="1.1"/><rect x="171.6" y="262.2" width="1.1" height="1.1"/><rect x="202.0" y="255.0" width="1.1" height="1.1"/><rect x="223.8" y="265.8" width="1.1" height="1.1"/><rect x="197.6" y="254.2" width="1.1" height="1.1"/><rect x="228.4" y="263.1" width="1.1" height="1.1"/><rect x="207.2" y="262.4" width="1.1" height="1.1"/><rect x="169.5" y="266.9" width="1.1" height="1.1"/><rect x="180.3" y="259.6" width="1.1" height="1.1"/><rect x="176.9" y="260.6" width="1.1" height="1.1"/><rect x="214.1" y="266.7" width="1.1" height="1.1"/><rect x="203.6" y="255.7" width="1.1" height="1.1"/><rect x="217.9" y="264.9" width="1.1" height="1.1"/><rect x="161.2" y="267.3" width="1.1" height="1.1"/><rect x="160.9" y="263.8" width="1.1" height="1.1"/><rect x="157.1" y="264.3" width="1.1" height="1.1"/><rect x="194.9" y="251.8" width="1.1" height="1.1"/><rect x="185.7" y="256.7" width="1.1" height="1.1"/><rect x="206.4" y="262.6" width="1.1" height="1.1"/><rect x="224.6" y="264.8" width="1.1" height="1.1"/><rect x="227.6" y="265.5" width="1.1" height="1.1"/><rect x="186.2" y="258.4" width="1.1" height="1.1"/><rect x="157.0" y="265.5" width="1.1" height="1.1"/><rect x="168.5" y="268.7" width="1.1" height="1.1"/><rect x="220.0" y="261.5" width="1.1" height="1.1"/><rect x="211.6" y="262.2" width="1.1" height="1.1"/><rect x="208.2" y="266.3" width="1.1" height="1.1"/><rect x="161.1" y="259.6" width="1.1" height="1.1"/><rect x="160.8" y="263.0" width="1.1" height="1.1"/><rect x="206.2" y="258.5" width="1.1" height="1.1"/><rect x="162.1" y="264.0" width="1.1" height="1.1"/><rect x="206.9" y="260.4" width="1.1" height="1.1"/><rect x="166.4" y="258.8" width="1.1" height="1.1"/><rect x="223.0" y="266.7" width="1.1" height="1.1"/><rect x="214.2" y="263.2" width="1.1" height="1.1"/><rect x="225.3" y="263.4" width="1.1" height="1.1"/><rect x="172.3" y="260.5" width="1.1" height="1.1"/><rect x="205.7" y="260.3" width="1.1" height="1.1"/><rect x="201.4" y="255.3" width="1.1" height="1.1"/><rect x="179.6" y="262.0" width="1.1" height="1.1"/><rect x="157.3" y="263.5" width="1.1" height="1.1"/><rect x="190.7" y="254.2" width="1.1" height="1.1"/><rect x="220.7" y="265.1" width="1.1" height="1.1"/><rect x="225.0" y="265.6" width="1.1" height="1.1"/><rect x="184.0" y="260.6" width="1.1" height="1.1"/><rect x="205.5" y="259.2" width="1.1" height="1.1"/><rect x="170.3" y="261.9" width="1.1" height="1.1"/><rect x="230.6" y="264.7" width="1.1" height="1.1"/><rect x="232.3" y="264.5" width="1.1" height="1.1"/><rect x="207.7" y="260.0" width="1.1" height="1.1"/><rect x="221.7" y="263.5" width="1.1" height="1.1"/><rect x="216.1" y="266.2" width="1.1" height="1.1"/><rect x="234.0" y="264.8" width="1.1" height="1.1"/><rect x="198.9" y="254.9" width="1.1" height="1.1"/><rect x="186.9" y="257.8" width="1.1" height="1.1"/><rect x="197.6" y="253.8" width="1.1" height="1.1"/><rect x="209.1" y="261.4" width="1.1" height="1.1"/><rect x="158.7" y="267.3" width="1.1" height="1.1"/><rect x="227.2" y="264.8" width="1.1" height="1.1"/><rect x="234.1" y="265.1" width="1.1" height="1.1"/><rect x="176.7" y="257.6" width="1.1" height="1.1"/><rect x="157.4" y="261.1" width="1.1" height="1.1"/><rect x="158.8" y="266.3" width="1.1" height="1.1"/><rect x="219.2" y="264.9" width="1.1" height="1.1"/><rect x="164.6" y="265.5" width="1.1" height="1.1"/><rect x="213.9" y="265.5" width="1.1" height="1.1"/><rect x="208.5" y="263.7" width="1.1" height="1.1"/><rect x="191.7" y="254.9" width="1.1" height="1.1"/><rect x="216.4" y="264.4" width="1.1" height="1.1"/><rect x="205.7" y="259.8" width="1.1" height="1.1"/><rect x="194.1" y="252.6" width="1.1" height="1.1"/><rect x="226.4" y="265.3" width="1.1" height="1.1"/><rect x="196.8" y="252.1" width="1.1" height="1.1"/><rect x="212.9" y="264.0" width="1.1" height="1.1"/><rect x="205.6" y="259.3" width="1.1" height="1.1"/><rect x="235.5" y="266.3" width="1.1" height="1.1"/><rect x="173.9" y="260.2" width="1.1" height="1.1"/><rect x="224.8" y="262.9" width="1.1" height="1.1"/><rect x="232.5" y="269.5" width="1.1" height="1.1"/><rect x="193.9" y="252.7" width="1.1" height="1.1"/><rect x="170.8" y="260.6" width="1.1" height="1.1"/><rect x="233.5" y="264.4" width="1.1" height="1.1"/><rect x="197.5" y="254.8" width="1.1" height="1.1"/><rect x="165.5" y="217.3" width="1.1" height="1.1"/><rect x="161.5" y="221.4" width="1.1" height="1.1"/><rect x="159.2" y="217.7" width="1.1" height="1.1"/><rect x="167.0" y="221.3" width="1.1" height="1.1"/><rect x="159.1" y="226.7" width="1.1" height="1.1"/><rect x="166.1" y="229.6" width="1.1" height="1.1"/><rect x="164.1" y="227.1" width="1.1" height="1.1"/><rect x="158.1" y="230.4" width="1.1" height="1.1"/><rect x="158.8" y="226.0" width="1.1" height="1.1"/><rect x="164.3" y="218.7" width="1.1" height="1.1"/><rect x="161.5" y="217.7" width="1.1" height="1.1"/><rect x="163.3" y="220.4" width="1.1" height="1.1"/><rect x="157.0" y="224.9" width="1.1" height="1.1"/><rect x="170.6" y="231.5" width="1.1" height="1.1"/><rect x="167.5" y="219.7" width="1.1" height="1.1"/><rect x="159.7" y="223.5" width="1.1" height="1.1"/><rect x="158.5" y="223.8" width="1.1" height="1.1"/><rect x="161.4" y="220.3" width="1.1" height="1.1"/><rect x="159.8" y="225.9" width="1.1" height="1.1"/><rect x="167.6" y="226.5" width="1.1" height="1.1"/><rect x="160.3" y="226.2" width="1.1" height="1.1"/><rect x="158.6" y="222.4" width="1.1" height="1.1"/><rect x="159.0" y="220.2" width="1.1" height="1.1"/><rect x="159.9" y="223.2" width="1.1" height="1.1"/><rect x="160.1" y="216.3" width="1.1" height="1.1"/><rect x="165.8" y="225.1" width="1.1" height="1.1"/><rect x="157.7" y="212.4" width="1.1" height="1.1"/><rect x="167.6" y="223.2" width="1.1" height="1.1"/><rect x="165.9" y="220.9" width="1.1" height="1.1"/><rect x="157.8" y="226.8" width="1.1" height="1.1"/><rect x="165.2" y="220.7" width="1.1" height="1.1"/><rect x="162.1" y="220.4" width="1.1" height="1.1"/><rect x="164.2" y="228.8" width="1.1" height="1.1"/><rect x="167.1" y="222.8" width="1.1" height="1.1"/><rect x="171.3" y="229.8" width="1.1" height="1.1"/><rect x="168.6" y="224.1" width="1.1" height="1.1"/><rect x="160.4" y="226.3" width="1.1" height="1.1"/><rect x="163.7" y="220.0" width="1.1" height="1.1"/><rect x="160.4" y="209.1" width="1.1" height="1.1"/><rect x="170.0" y="217.9" width="1.1" height="1.1"/><rect x="169.6" y="213.1" width="1.1" height="1.1"/><rect x="163.5" y="220.2" width="1.1" height="1.1"/><rect x="157.6" y="224.6" width="1.1" height="1.1"/><rect x="163.0" y="222.9" width="1.1" height="1.1"/><rect x="160.2" y="217.8" width="1.1" height="1.1"/><rect x="162.7" y="232.3" width="1.1" height="1.1"/><rect x="167.5" y="220.9" width="1.1" height="1.1"/><rect x="162.3" y="225.1" width="1.1" height="1.1"/><rect x="169.0" y="226.1" width="1.1" height="1.1"/><rect x="167.5" y="223.7" width="1.1" height="1.1"/><rect x="171.0" y="227.2" width="1.1" height="1.1"/><rect x="165.2" y="231.4" width="1.1" height="1.1"/><rect x="169.3" y="232.0" width="1.1" height="1.1"/><rect x="170.5" y="226.9" width="1.1" height="1.1"/><rect x="160.7" y="223.3" width="1.1" height="1.1"/><rect x="161.3" y="218.4" width="1.1" height="1.1"/><rect x="160.5" y="215.6" width="1.1" height="1.1"/><rect x="164.9" y="221.5" width="1.1" height="1.1"/><rect x="161.1" y="214.9" width="1.1" height="1.1"/><rect x="158.2" y="224.7" width="1.1" height="1.1"/><rect x="165.0" y="219.6" width="1.1" height="1.1"/><rect x="167.3" y="218.0" width="1.1" height="1.1"/><rect x="157.7" y="222.1" width="1.1" height="1.1"/><rect x="160.3" y="219.2" width="1.1" height="1.1"/><rect x="168.7" y="232.2" width="1.1" height="1.1"/><rect x="167.0" y="223.1" width="1.1" height="1.1"/><rect x="166.8" y="215.8" width="1.1" height="1.1"/><rect x="169.9" y="219.1" width="1.1" height="1.1"/><rect x="170.1" y="225.2" width="1.1" height="1.1"/><rect x="170.0" y="231.2" width="1.1" height="1.1"/><rect x="166.0" y="226.0" width="1.1" height="1.1"/><rect x="168.1" y="230.6" width="1.1" height="1.1"/><rect x="165.3" y="231.2" width="1.1" height="1.1"/><rect x="161.5" y="217.2" width="1.1" height="1.1"/><rect x="166.9" y="227.6" width="1.1" height="1.1"/><rect x="164.9" y="220.0" width="1.1" height="1.1"/><rect x="167.4" y="225.3" width="1.1" height="1.1"/><rect x="167.0" y="226.2" width="1.1" height="1.1"/><rect x="165.7" y="215.2" width="1.1" height="1.1"/><rect x="164.8" y="217.5" width="1.1" height="1.1"/><rect x="162.6" y="223.1" width="1.1" height="1.1"/><rect x="169.1" y="221.7" width="1.1" height="1.1"/><rect x="164.9" y="211.6" width="1.1" height="1.1"/><rect x="161.0" y="214.0" width="1.1" height="1.1"/><rect x="171.4" y="232.1" width="1.1" height="1.1"/><rect x="161.4" y="218.5" width="1.1" height="1.1"/><rect x="157.8" y="227.1" width="1.1" height="1.1"/><rect x="159.7" y="221.2" width="1.1" height="1.1"/><rect x="171.2" y="226.9" width="1.1" height="1.1"/><rect x="157.5" y="223.0" width="1.1" height="1.1"/><rect x="157.5" y="255.9" width="1.1" height="1.1"/><rect x="157.8" y="249.0" width="1.1" height="1.1"/><rect x="169.0" y="250.6" width="1.1" height="1.1"/><rect x="157.8" y="253.3" width="1.1" height="1.1"/><rect x="168.8" y="251.6" width="1.1" height="1.1"/><rect x="165.2" y="242.2" width="1.1" height="1.1"/><rect x="168.1" y="253.1" width="1.1" height="1.1"/><rect x="162.9" y="251.3" width="1.1" height="1.1"/><rect x="169.4" y="252.3" width="1.1" height="1.1"/><rect x="165.7" y="251.5" width="1.1" height="1.1"/><rect x="167.1" y="250.4" width="1.1" height="1.1"/><rect x="158.0" y="250.2" width="1.1" height="1.1"/><rect x="169.6" y="247.2" width="1.1" height="1.1"/><rect x="170.7" y="247.3" width="1.1" height="1.1"/><rect x="163.1" y="243.1" width="1.1" height="1.1"/><rect x="171.3" y="251.3" width="1.1" height="1.1"/><rect x="170.3" y="249.8" width="1.1" height="1.1"/><rect x="157.3" y="264.4" width="1.1" height="1.1"/><rect x="166.8" y="248.5" width="1.1" height="1.1"/><rect x="158.4" y="248.5" width="1.1" height="1.1"/><rect x="161.6" y="249.6" width="1.1" height="1.1"/><rect x="170.2" y="248.4" width="1.1" height="1.1"/><rect x="170.6" y="250.6" width="1.1" height="1.1"/><rect x="163.7" y="244.5" width="1.1" height="1.1"/><rect x="159.3" y="242.3" width="1.1" height="1.1"/><rect x="158.1" y="248.8" width="1.1" height="1.1"/><rect x="169.4" y="244.5" width="1.1" height="1.1"/><rect x="160.3" y="244.3" width="1.1" height="1.1"/><rect x="166.5" y="250.9" width="1.1" height="1.1"/><rect x="161.0" y="244.9" width="1.1" height="1.1"/><rect x="164.1" y="248.9" width="1.1" height="1.1"/><rect x="170.6" y="260.7" width="1.1" height="1.1"/><rect x="161.2" y="246.3" width="1.1" height="1.1"/><rect x="165.2" y="242.5" width="1.1" height="1.1"/><rect x="164.7" y="250.3" width="1.1" height="1.1"/><rect x="166.3" y="250.4" width="1.1" height="1.1"/><rect x="157.6" y="244.6" width="1.1" height="1.1"/><rect x="165.9" y="249.0" width="1.1" height="1.1"/><rect x="165.8" y="247.7" width="1.1" height="1.1"/><rect x="171.2" y="245.6" width="1.1" height="1.1"/><rect x="166.1" y="247.1" width="1.1" height="1.1"/><rect x="166.4" y="255.2" width="1.1" height="1.1"/><rect x="161.7" y="234.2" width="1.1" height="1.1"/><rect x="169.7" y="248.2" width="1.1" height="1.1"/><rect x="159.5" y="248.1" width="1.1" height="1.1"/><rect x="158.4" y="245.3" width="1.1" height="1.1"/><rect x="168.3" y="246.0" width="1.1" height="1.1"/><rect x="169.4" y="251.5" width="1.1" height="1.1"/><rect x="157.0" y="259.9" width="1.1" height="1.1"/><rect x="158.6" y="247.7" width="1.1" height="1.1"/><rect x="164.4" y="247.6" width="1.1" height="1.1"/><rect x="165.8" y="244.8" width="1.1" height="1.1"/><rect x="169.6" y="250.8" width="1.1" height="1.1"/><rect x="164.7" y="253.2" width="1.1" height="1.1"/><rect x="159.6" y="252.2" width="1.1" height="1.1"/><rect x="161.4" y="247.4" width="1.1" height="1.1"/><rect x="158.6" y="254.9" width="1.1" height="1.1"/><rect x="162.1" y="259.3" width="1.1" height="1.1"/><rect x="169.4" y="247.3" width="1.1" height="1.1"/><rect x="164.6" y="245.2" width="1.1" height="1.1"/><rect x="157.4" y="250.9" width="1.1" height="1.1"/><rect x="162.9" y="244.3" width="1.1" height="1.1"/><rect x="157.9" y="263.5" width="1.1" height="1.1"/><rect x="170.7" y="238.1" width="1.1" height="1.1"/><rect x="157.9" y="249.0" width="1.1" height="1.1"/><rect x="162.3" y="248.0" width="1.1" height="1.1"/><rect x="164.3" y="252.1" width="1.1" height="1.1"/><rect x="167.0" y="244.8" width="1.1" height="1.1"/><rect x="157.1" y="258.5" width="1.1" height="1.1"/><rect x="166.5" y="250.4" width="1.1" height="1.1"/><rect x="166.2" y="254.3" width="1.1" height="1.1"/><rect x="167.8" y="242.4" width="1.1" height="1.1"/><rect x="162.1" y="251.1" width="1.1" height="1.1"/><rect x="168.9" y="250.3" width="1.1" height="1.1"/><rect x="157.3" y="252.7" width="1.1" height="1.1"/><rect x="159.0" y="246.0" width="1.1" height="1.1"/><rect x="167.9" y="249.6" width="1.1" height="1.1"/><rect x="159.4" y="251.9" width="1.1" height="1.1"/><rect x="165.7" y="244.8" width="1.1" height="1.1"/><rect x="169.7" y="253.4" width="1.1" height="1.1"/><rect x="157.3" y="242.9" width="1.1" height="1.1"/><rect x="166.5" y="248.7" width="1.1" height="1.1"/><rect x="164.7" y="247.2" width="1.1" height="1.1"/><rect x="168.5" y="255.5" width="1.1" height="1.1"/><rect x="165.2" y="249.9" width="1.1" height="1.1"/><rect x="158.1" y="255.4" width="1.1" height="1.1"/><rect x="164.8" y="244.1" width="1.1" height="1.1"/><rect x="159.9" y="251.1" width="1.1" height="1.1"/><rect x="158.8" y="255.0" width="1.1" height="1.1"/><rect x="164.7" y="248.4" width="1.1" height="1.1"/></g>
<polyline points="157.80,221.00 158.04,221.19 158.38,221.47 158.78,221.79 159.20,222.11 159.62,222.36 160.00,222.50 160.35,222.47 160.70,222.29 161.04,222.04 161.38,221.83 161.70,221.72 162.00,221.80 162.27,222.15 162.50,222.73 162.72,223.41 162.94,224.09 163.20,224.65 163.50,225.00 163.85,225.06 164.24,224.91 164.66,224.65 165.10,224.38 165.55,224.19 166.00,224.20 166.46,224.43 166.95,224.82 167.44,225.29 167.94,225.79 168.43,226.25 168.90,226.60 169.35,226.83 169.77,227.00 170.19,227.12 170.61,227.23 171.05,227.34 171.50,227.50 171.97,227.72 172.45,228.00 172.94,228.28 173.45,228.54 173.97,228.72 174.50,228.80 175.05,228.76 175.63,228.63 176.22,228.43 176.81,228.18 177.41,227.90 178.00,227.60 178.58,227.32 179.15,227.07 179.72,226.78 180.30,226.40 180.89,225.89 181.50,225.20 182.13,224.32 182.79,223.30 183.45,222.14 184.13,220.86 184.81,219.48 185.50,218.00 186.21,216.36 186.95,214.54 187.70,212.61 188.44,210.66 189.14,208.76 189.80,207.00 190.41,205.34 190.98,203.72 191.52,202.15 192.03,200.66 192.53,199.27 193.00,198.00 193.45,196.87 193.87,195.87 194.27,194.96 194.65,194.13 195.03,193.35 195.40,192.60 195.77,191.87 196.12,191.19 196.47,190.56 196.81,189.98 197.15,189.46 197.50,189.00 197.85,188.60 198.21,188.26 198.56,187.98 198.91,187.76 199.26,187.60 199.60,187.50 199.92,187.46 200.23,187.47 200.54,187.55 200.84,187.69 201.16,187.91 201.50,188.20 201.86,188.56 202.22,188.97 202.60,189.46 202.99,190.03 203.39,190.71 203.80,191.50 204.23,192.42 204.67,193.45 205.12,194.58 205.58,195.81 206.04,197.12 206.50,198.50 206.96,200.00 207.41,201.65 207.87,203.38 208.33,205.13 208.81,206.86 209.30,208.50 209.80,210.07 210.31,211.62 210.84,213.14 211.37,214.63 211.93,216.09 212.50,217.50 213.11,218.90 213.74,220.29 214.40,221.64 215.06,222.93 215.69,224.13 216.30,225.20 216.86,226.13 217.39,226.94 217.90,227.66 218.41,228.31 218.94,228.92 219.50,229.50 220.10,230.06 220.73,230.57 221.37,231.04 222.02,231.46 222.67,231.85 223.30,232.20 223.91,232.51 224.51,232.76 225.10,232.98 225.70,233.17 226.33,233.34 227.00,233.50 227.74,233.64 228.55,233.76 229.38,233.85 230.20,233.93 230.95,234.01 231.60,234.10 232.12,234.20 232.54,234.30 232.90,234.39 233.24,234.48 233.59,234.55 234.00,234.60 234.50,234.62 235.07,234.61 235.65,234.58 236.20,234.55 236.67,234.52 237.00,234.50" fill="none" stroke="#000" stroke-width="1.6" stroke-linejoin="round" />
<polyline points="157.80,255.80 157.90,255.13 158.03,254.17 158.19,253.06 158.38,251.90 158.58,250.84 158.80,250.00 159.04,249.34 159.30,248.76 159.59,248.26 159.89,247.88 160.19,247.62 160.50,247.50 160.81,247.59 161.14,247.89 161.47,248.31 161.81,248.78 162.15,249.20 162.50,249.50 162.86,249.69 163.23,249.85 163.61,249.97 163.99,250.04 164.35,250.05 164.70,250.00 165.02,249.83 165.32,249.52 165.61,249.16 165.90,248.81 166.19,248.57 166.50,248.50 166.82,248.67 167.16,249.04 167.50,249.51 167.84,249.97 168.18,250.33 168.50,250.50 168.80,250.42 169.08,250.17 169.36,249.82 169.64,249.44 169.95,249.11 170.30,248.90 170.70,248.84 171.14,248.87 171.61,248.94 172.08,249.02 172.55,249.06 173.00,249.00 173.42,248.84 173.82,248.61 174.22,248.34 174.62,248.05 175.05,247.76 175.50,247.50 175.99,247.28 176.49,247.09 177.02,246.90 177.56,246.69 178.12,246.43 178.70,246.10 179.29,245.71 179.90,245.27 180.52,244.79 181.16,244.26 181.82,243.66 182.50,243.00 183.22,242.24 183.99,241.37 184.77,240.45 185.55,239.50 186.30,238.57 187.00,237.70 187.64,236.87 188.24,236.05 188.81,235.24 189.37,234.46 189.93,233.71 190.50,233.00 191.09,232.32 191.70,231.67 192.31,231.06 192.91,230.47 193.47,229.92 194.00,229.40 194.48,228.91 194.94,228.44 195.36,228.00 195.76,227.61 196.14,227.27 196.50,227.00 196.82,226.81 197.10,226.69 197.36,226.62 197.62,226.60 197.89,226.60 198.20,226.60 198.54,226.60 198.89,226.60 199.25,226.62 199.64,226.69 200.05,226.81 200.50,227.00 200.99,227.24 201.51,227.51 202.06,227.84 202.63,228.25 203.22,228.76 203.80,229.40 204.41,230.21 205.05,231.18 205.70,232.26 206.34,233.37 206.95,234.48 207.50,235.50 207.99,236.47 208.44,237.44 208.85,238.40 209.24,239.32 209.62,240.19 210.00,241.00 210.36,241.73 210.70,242.38 211.02,242.99 211.36,243.56 211.71,244.13 212.10,244.70 212.55,245.27 213.04,245.80 213.56,246.33 214.07,246.86 214.56,247.41 215.00,248.00 215.38,248.64 215.73,249.34 216.05,250.05 216.36,250.75 216.67,251.41 217.00,252.00 217.34,252.53 217.68,253.02 218.02,253.47 218.37,253.87 218.73,254.22 219.10,254.50 219.48,254.68 219.87,254.74 220.27,254.75 220.68,254.76 221.09,254.82 221.50,255.00 221.92,255.33 222.34,255.79 222.77,256.30 223.19,256.80 223.61,257.22 224.00,257.50 224.38,257.67 224.74,257.79 225.10,257.83 225.44,257.77 225.78,257.57 226.10,257.20 226.41,256.55 226.71,255.60 226.99,254.52 227.27,253.46 227.54,252.56 227.80,252.00 228.05,251.76 228.29,251.73 228.53,251.86 228.75,252.14 228.98,252.53 229.20,253.00 229.42,253.68 229.63,254.63 229.84,255.69 230.06,256.70 230.27,257.53 230.50,258.00 230.74,258.11 231.00,257.98 231.26,257.66 231.51,257.19 231.77,256.62 232.00,256.00 232.22,255.19 232.42,254.13 232.61,252.97 232.80,251.87 233.00,250.99 233.20,250.50 233.41,250.42 233.63,250.63 233.84,251.06 234.06,251.65 234.28,252.32 234.50,253.00 234.72,253.85 234.94,254.94 235.16,256.12 235.37,257.22 235.59,258.07 235.80,258.50 236.02,258.40 236.25,257.87 236.48,257.09 236.69,256.24 236.87,255.48 237.00,255.00" fill="none" stroke="#000" stroke-width="1.6" stroke-linejoin="round" />
<polyline points="158.00,263.20 158.54,263.25 159.29,263.31 160.18,263.39 161.14,263.47 162.10,263.54 163.00,263.60 163.83,263.66 164.66,263.73 165.49,263.79 166.34,263.83 167.20,263.84 168.10,263.80 169.03,263.71 170.00,263.58 170.98,263.42 171.98,263.23 172.99,263.02 174.00,262.80 175.04,262.56 176.11,262.31 177.20,262.03 178.26,261.74 179.27,261.43 180.20,261.10 181.03,260.76 181.79,260.39 182.50,260.01 183.17,259.62 183.83,259.21 184.50,258.80 185.16,258.36 185.79,257.90 186.41,257.42 187.02,256.95 187.65,256.50 188.30,256.10 188.99,255.73 189.71,255.39 190.45,255.07 191.17,254.78 191.86,254.52 192.50,254.30 193.08,254.12 193.63,253.99 194.15,253.89 194.63,253.81 195.08,253.75 195.50,253.70 195.85,253.65 196.14,253.62 196.39,253.61 196.64,253.61 196.93,253.64 197.30,253.70 197.74,253.78 198.24,253.87 198.77,253.99 199.33,254.15 199.91,254.35 200.50,254.60 201.12,254.91 201.80,255.28 202.49,255.69 203.17,256.14 203.82,256.61 204.40,257.10 204.91,257.61 205.37,258.16 205.79,258.73 206.20,259.31 206.59,259.91 207.00,260.50 207.41,261.13 207.81,261.80 208.20,262.48 208.59,263.13 208.99,263.72 209.40,264.20 209.82,264.57 210.26,264.85 210.70,265.06 211.14,265.23 211.58,265.37 212.00,265.50 212.32,265.61 212.51,265.69 212.70,265.73 213.00,265.76 213.53,265.78 214.40,265.80 215.68,265.82 217.29,265.84 219.13,265.84 221.09,265.84 223.08,265.83 225.00,265.80 227.01,265.75 229.22,265.68 231.46,265.60 233.56,265.52 235.33,265.45 236.60,265.40" fill="none" stroke="#000" stroke-width="1.6" stroke-linejoin="round" />
<polyline points="158.00,272.20 158.54,272.33 159.29,272.51 160.18,272.72 161.14,272.94 162.10,273.14 163.00,273.30 163.82,273.43 164.63,273.54 165.43,273.64 166.26,273.71 167.14,273.77 168.10,273.80 169.14,273.80 170.26,273.77 171.42,273.73 172.61,273.66 173.81,273.58 175.00,273.50 176.21,273.41 177.47,273.30 178.73,273.17 179.97,273.05 181.14,272.92 182.20,272.80 183.14,272.69 184.00,272.57 184.78,272.46 185.53,272.35 186.26,272.23 187.00,272.10 187.76,271.96 188.52,271.80 189.26,271.64 189.98,271.49 190.66,271.33 191.30,271.20 191.88,271.06 192.43,270.91 192.93,270.77 193.41,270.66 193.86,270.59 194.30,270.60 194.71,270.68 195.07,270.82 195.41,271.01 195.75,271.24 196.11,271.51 196.50,271.80 196.94,272.14 197.41,272.56 197.90,273.00 198.39,273.44 198.86,273.86 199.30,274.20 199.70,274.48 200.09,274.72 200.46,274.92 200.81,275.10 201.16,275.26 201.50,275.40 201.72,275.52 201.80,275.61 201.86,275.67 202.06,275.73 202.53,275.77 203.40,275.80 204.78,275.83 206.57,275.84 208.63,275.84 210.82,275.83 212.99,275.82 215.00,275.80 216.87,275.78 218.73,275.76 220.56,275.74 222.39,275.70 224.20,275.66 226.00,275.60 227.91,275.52 229.96,275.41 231.99,275.29 233.87,275.17 235.45,275.07 236.60,275.00" fill="none" stroke="#000" stroke-width="1.6" stroke-linejoin="round" />
<polyline points="158.00,278.30 158.15,278.40 158.35,278.53 158.59,278.68 158.86,278.85 159.17,279.03 159.50,279.20 159.85,279.37 160.24,279.54 160.65,279.71 161.10,279.90 161.58,280.09 162.10,280.30 162.67,280.53 163.30,280.77 163.96,281.03 164.64,281.29 165.32,281.55 166.00,281.80 166.67,282.05 167.36,282.31 168.05,282.56 168.74,282.81 169.43,283.06 170.10,283.30 170.76,283.53 171.40,283.75 172.04,283.96 172.69,284.17 173.33,284.39 174.00,284.60 174.70,284.82 175.43,285.05 176.17,285.28 176.89,285.50 177.58,285.71 178.20,285.90 178.74,286.06 179.22,286.21 179.66,286.34 180.09,286.47 180.53,286.58 181.00,286.70 181.36,286.82 181.57,286.94 181.79,287.05 182.19,287.15 182.93,287.24 184.20,287.30 186.11,287.34 188.56,287.36 191.36,287.36 194.33,287.34 197.27,287.32 200.00,287.30 202.55,287.27 205.06,287.23 207.55,287.18 210.03,287.13 212.51,287.07 215.00,287.00 217.60,286.93 220.31,286.86 223.03,286.78 225.62,286.70 227.99,286.60 230.00,286.50 231.66,286.37 233.07,286.23 234.24,286.07 235.20,285.92 235.98,285.79 236.60,285.70" fill="none" stroke="#000" stroke-width="1.6" stroke-linejoin="round" />
<polyline points="158.00,292.70 158.20,292.83 158.48,293.01 158.81,293.22 159.18,293.47 159.58,293.73 160.00,294.00 160.47,294.30 161.00,294.64 161.56,295.01 162.11,295.37 162.64,295.70 163.10,296.00 163.49,296.25 163.84,296.47 164.15,296.67 164.44,296.86 164.72,297.03 165.00,297.20 165.19,297.36 165.27,297.52 165.34,297.67 165.50,297.80 165.85,297.91 166.50,298.00 167.32,298.06 168.20,298.09 169.28,298.11 170.69,298.11 172.55,298.10 175.00,298.10 178.21,298.10 182.11,298.09 186.47,298.07 191.06,298.05 195.64,298.02 200.00,298.00 204.32,297.98 208.83,297.96 213.34,297.93 217.66,297.90 221.61,297.86 225.00,297.80 227.84,297.72 230.29,297.61 232.36,297.49 234.09,297.37 235.49,297.27 236.60,297.20" fill="none" stroke="#000" stroke-width="1.6" stroke-linejoin="round" />
<line x1="209.4" y1="259.1" x2="209.4" y2="267.2" stroke="#000" stroke-width="1.1"/>
<line x1="202" y1="271.8" x2="202" y2="279.3" stroke="#000" stroke-width="1.1"/>
<line x1="184.2" y1="283.9" x2="184.2" y2="291.3" stroke="#000" stroke-width="1.1"/>
<line x1="166.5" y1="294" x2="166.5" y2="300.4" stroke="#000" stroke-width="1.1"/>
<text x="241.6" y="234.1" font-size="7.0" text-anchor="start" font-weight="bold" fill="#222" >2.2 V</text>
<text x="241.6" y="253.3" font-size="7.0" text-anchor="start" font-weight="bold" fill="#222" >2 V</text>
<text x="241.6" y="265.1" font-size="7.0" text-anchor="start" font-weight="bold" fill="#222" >1.9 V</text>
<text x="241.6" y="275.4" font-size="7.0" text-anchor="start" font-weight="bold" fill="#222" >1.8 V</text>
<text x="241.6" y="286.2" font-size="7.0" text-anchor="start" font-weight="bold" fill="#222" >1.6 V</text>
<text x="241.6" y="297.3" font-size="7.0" text-anchor="start" font-weight="bold" fill="#222" >1.4 V</text>
<text x="280.5" y="178.4" font-size="17" text-anchor="start" font-weight="bold" fill="#111" >(d)</text>
<defs><clipPath id="cc"><ellipse cx="332.4" cy="211.2" rx="29.6" ry="28"/></clipPath></defs>
<g clip-path="url(#cc)">
<rect x="300" y="180" width="66" height="64" fill="#3a90c6"/>
<path d="M295,175 L322.2,175 L322.2,186 L321.5,189 L322.4,191.9 L324.5,193.6 L324,195 L326.5,196.3 L327.2,198.5 L328.7,200.6 L327.2,202.5 L326,204.9 L324.5,206 L323.3,208.7 L320.5,208 L317.3,208.4 L316,207 L314.1,205.5 L313.5,203.8 L312.5,202.2 L310,202.6 L308,201.6 L305.5,202 L303.3,201.7 L295,201.7 Z" fill="#151515"/>
<path d="M340.3,191.9 L341.2,190 L343,188.7 L345,188.8 L347.3,188.1 L350,188.4 L352,189 L355,191.5 L357.1,194.1 L365,194 L365,200 L359.3,199.5 L357,200.4 L354.9,200 L352.5,201.8 L350.6,202.8 L348.5,201.3 L346.3,201.7 L344,203 L341.9,203.8 L339.8,205.6 L337.6,206.5 L338.2,204 L338.7,201.7 L339.5,199 L340.8,196.3 L339.8,194 Z" fill="#151515"/>
<path d="M309.8,224.3 L311,222 L313,219.9 L315.2,218.3 L317.5,219.2 L319.5,218.8 L321.5,217.8 L323.8,218.3 L326.5,219.9 L328.2,221 L328.8,224.5 L330.5,225.5 L332.6,224.8 L333.5,221 L333.3,218.8 L335.4,217.8 L337.5,218.9 L339.8,219.4 L342,220.8 L344.1,220.5 L347.3,222.1 L349,222.5 L350.6,223.7 L352.8,223.5 L354.9,224.3 L357.6,225.9 L370,226 L370,250 L295,250 L295,240 L311.5,236 L310.5,232.5 L310.3,228.6 Z" fill="#151515"/>
<g stroke="#f088cc" stroke-width="1.3" fill="none" stroke-linecap="round"><line x1="322.2" y1="193" x2="329.3" y2="184.9"/><line x1="332.2" y1="184.9" x2="340.3" y2="194.1"/><line x1="324" y1="205.5" x2="331.5" y2="213"/><line x1="331.5" y1="213" x2="337.5" y2="206.5"/><line x1="331.5" y1="213" x2="335" y2="217.5"/><line x1="331.5" y1="213" x2="327" y2="218"/><line x1="302.2" y1="209.1" x2="310.8" y2="222.1"/><line x1="302.7" y1="216.7" x2="308.7" y2="210.2"/><line x1="349" y1="203.3" x2="357.1" y2="212.5"/><line x1="349" y1="223.2" x2="359.3" y2="214"/><line x1="352.2" y1="208" x2="359.3" y2="214"/><line x1="318" y1="213.5" x2="324" y2="219"/><line x1="342" y1="207" x2="349" y2="203.3"/></g>
</g>
<ellipse cx="332.4" cy="211.2" rx="29.6" ry="28" fill="none" stroke="#222" stroke-width="1.2"/>
<text x="330.6" y="230.6" font-size="6.0" text-anchor="middle" font-weight="bold" font-style="italic" fill="#fff" >3 mm</text>
<rect x="321.5" y="232.6" width="17.5" height="2.2" fill="#fff"/>
<ellipse cx="319.7" cy="257.7" rx="27" ry="5.1" fill="#fff" stroke="#222" stroke-width="1"/>
<text x="320" y="259.9" font-size="6.3" text-anchor="middle" font-weight="bold" font-style="italic" fill="#222" textLength="38.2" lengthAdjust="spacingAndGlyphs">Keithley&#160;&#160;2602a</text>
<path d="M353.6,257.9 L392.5,232.5 L435.1,257.1 L397.5,280.2 Z" fill="#1d2670"/>
<ellipse cx="396" cy="246" rx="17" ry="4.5" fill="#4a78c0" fill-opacity="0.7"/>
<path d="M369.8,250.2 L373.6,246.0 L419.4,265.6 L415.4,269.6 Z" fill="#4a4a4a"/>
<path d="M373.2,263.4 L377.2,267.6 L417.6,249.6 L413.6,245.2 Z" fill="#f2b21e"/>
<path d="M388.5,256.2 L394.5,252.6 L399.2,256.8 L393.2,260.8 Z" fill="#fbfbfb"/>
<polyline points="327.3,252.9 327.3,248.1 378.6,248.1" fill="none" stroke="#222" stroke-width="1.1"/>
<polyline points="327.3,262.5 327.3,266.9 379.5,266.9" fill="none" stroke="#222" stroke-width="1.1"/>
<line x1="354.5" y1="231" x2="371.5" y2="245.3" stroke="#666" stroke-width="0.8"/>
<path d="M373.5,247 L368.6,245.3 L371.2,242.3 Z" fill="#333"/>
<text x="385.2" y="275.0" font-size="6.7" text-anchor="start" font-weight="bold" font-style="italic" fill="#fff" >Si/SiO</text>
<text x="403.3" y="276.3" font-size="4.0" text-anchor="start" font-weight="bold" fill="#fff" >2</text>
<path d="M378.1,221.3 C377.4,228 377.2,236 377.8,241.5 C380,247 390,247.6 395.9,247.6 C402,247.6 412,247 414.2,241.5 C414.8,236 414.4,228 413.6,221.3 Z" fill="url(#cyl)"/>
<path d="M377.4,233.2 C377.3,236 377.4,238.5 377.6,240.7 C385,244.5 407,244.5 414.4,240.7 C414.6,238.5 414.6,236 414.5,233.2 C407,237 385,237 377.4,233.2 Z" fill="#64686d" fill-opacity="0.9"/>
<path d="M377.8,243 C380,247 390,247.6 395.9,247.6 C402,247.6 412,247 414.2,243 C407,246 385,246 377.8,243 Z" fill="#6a6e72"/>
<ellipse cx="395.9" cy="221.3" rx="17.75" ry="5.8" fill="url(#objtop)"/>
<ellipse cx="396.5" cy="224.2" rx="15" ry="3.4" fill="#d6e2ea"/>
<path d="M378.3,221.8 C381,226 390,227.3 395.9,227.3 C402,227.3 411,226 413.4,221.8" fill="none" stroke="#f4f8fa" stroke-width="1.3"/>
<ellipse cx="395.9" cy="221.3" rx="17.75" ry="5.8" fill="none" stroke="#e8eef2" stroke-width="0.7"/>
<path d="M379.6,216 Q379.6,210.8 384,210.8 L393.5,210.8 Q397.3,210.8 397.3,208.2 Q397.3,210.8 401,210.8 L410,210.8 Q414.2,210.8 414.2,216" fill="none" stroke="#999" stroke-width="0.8"/>
<path d="M397.3,206 C397.3,192 402,187.3 413,187.3" fill="none" stroke="#999" stroke-width="0.8" marker-end="url(#arrG)"/>
<circle cx="397.3" cy="206.1" r="1.1" fill="#999"/>
<text x="374.9" y="192.7" font-size="6.3" text-anchor="start" font-style="italic" fill="#111" textLength="24.2" lengthAdjust="spacingAndGlyphs">fiber optic</text>
<rect x="416" y="177.8" width="44.2" height="17.4" fill="#d9d9d9" stroke="#444" stroke-width="0.9"/>
<text x="420.7" y="189.6" font-size="6.6" text-anchor="start" font-weight="bold" fill="#222" textLength="35.6" lengthAdjust="spacingAndGlyphs">spectrograph</text>
<line x1="460.5" y1="187.3" x2="471.2" y2="187.3" stroke="#999" stroke-width="0.9" marker-end="url(#arrG)"/>
<rect x="473.1" y="176.4" width="29" height="19" fill="#050505"/>
<rect x="476" y="177.5" width="24" height="17" fill="url(#spec)"/>
<rect x="476" y="177.5" width="24" height="17" fill="url(#specv)"/>
<line x1="502.3" y1="187.3" x2="518.2" y2="187.3" stroke="#999" stroke-width="0.9" marker-end="url(#arrG)"/>
<rect x="520" y="177.2" width="16.5" height="17.7" fill="#d9d9d9" stroke="#444" stroke-width="0.9"/>
<text x="528.3" y="188.6" font-size="6.6" text-anchor="middle" font-weight="bold" fill="#222" >PC</text>
<text x="488.4" y="202.1" font-size="5.7" text-anchor="middle" font-weight="bold" fill="#222" textLength="35.6" lengthAdjust="spacingAndGlyphs">Andor Newton</text>
<text x="488.2" y="208.5" font-size="5.7" text-anchor="middle" font-weight="bold" fill="#222" textLength="34.4" lengthAdjust="spacingAndGlyphs">DU-920N CCD</text>
<text x="487.8" y="213.6" font-size="5.7" text-anchor="middle" font-weight="bold" fill="#222" >-60 &#176;C</text>
<text x="423.0" y="226.4" font-size="6.1" text-anchor="start" font-style="italic" fill="#111" textLength="29.2" lengthAdjust="spacingAndGlyphs">microscope</text>
<rect x="500.1" y="215.9" width="43" height="11.6" fill="#f8b080"/>
<linearGradient id="gr1" x1="0" x2="0" y1="0" y2="1"><stop offset="0" stop-color="#a0a0a0"/><stop offset="0.75" stop-color="#a8a8a8"/><stop offset="1" stop-color="#e8e8e8"/></linearGradient>
<rect x="500.1" y="227.3" width="43" height="12" fill="url(#gr1)"/>
<rect x="500.1" y="282.7" width="43" height="10.6" fill="#a2a2a2"/>
<rect x="500.1" y="293.2" width="43" height="10.3" fill="#f8b080"/>
<text x="521.6" y="223.6" font-size="7.8" text-anchor="middle" font-weight="bold" fill="#222" >Au<tspan font-size="5.6" dy="1.9">20</tspan></text>
<text x="520.3" y="236.3" font-size="7.8" text-anchor="middle" font-weight="bold" fill="#222" >eC<tspan font-size="5.6" dy="1.9">3</tspan></text>
<text x="521.6" y="290.6" font-size="7.8" text-anchor="middle" font-weight="bold" fill="#222" >eC<tspan font-size="5.6" dy="1.9">10</tspan></text>
<text x="521.6" y="301.1" font-size="7.8" text-anchor="middle" font-weight="bold" fill="#222" >Au<tspan font-size="5.6" dy="1.9">30</tspan></text>
<g stroke="#555" stroke-width="0.6" fill="none"><polyline points="511.3,246.2 514.2,249.0 514.2,254.6 511.3,257.4 508.4,254.6 508.4,249.0 511.3,246.2"/><line x1="509.5" y1="249.8" x2="509.5" y2="253.8"/><polyline points="511.3,268.6 514.2,271.4 514.2,277.0 511.3,279.8 508.4,277.0 508.4,271.4 511.3,268.6"/><line x1="509.5" y1="272.2" x2="509.5" y2="276.2"/><line x1="511.3" y1="243" x2="511.3" y2="246.2"/><line x1="511.3" y1="257.4" x2="510.1" y2="261"/><line x1="510.1" y1="261.5" x2="512.5" y2="265.8"/><line x1="512.5" y1="266.2" x2="511.3" y2="268.6"/><line x1="511.3" y1="279.8" x2="511.3" y2="282.7"/><polyline points="521.8,246.2 524.7,249.0 524.7,254.6 521.8,257.4 518.9,254.6 518.9,249.0 521.8,246.2"/><line x1="520.0" y1="249.8" x2="520.0" y2="253.8"/><polyline points="521.8,268.6 524.7,271.4 524.7,277.0 521.8,279.8 518.9,277.0 518.9,271.4 521.8,268.6"/><line x1="520.0" y1="272.2" x2="520.0" y2="276.2"/><line x1="521.8" y1="243" x2="521.8" y2="246.2"/><line x1="521.8" y1="257.4" x2="520.5999999999999" y2="261"/><line x1="520.5999999999999" y1="261.5" x2="523.0" y2="265.8"/><line x1="523.0" y1="266.2" x2="521.8" y2="268.6"/><line x1="521.8" y1="279.8" x2="521.8" y2="282.7"/><polyline points="532.4,246.2 535.3,249.0 535.3,254.6 532.4,257.4 529.5,254.6 529.5,249.0 532.4,246.2"/><line x1="530.6" y1="249.8" x2="530.6" y2="253.8"/><polyline points="532.4,268.6 535.3,271.4 535.3,277.0 532.4,279.8 529.5,277.0 529.5,271.4 532.4,268.6"/><line x1="530.6" y1="272.2" x2="530.6" y2="276.2"/><line x1="532.4" y1="243" x2="532.4" y2="246.2"/><line x1="532.4" y1="257.4" x2="531.1999999999999" y2="261"/><line x1="531.1999999999999" y1="261.5" x2="533.6" y2="265.8"/><line x1="533.6" y1="266.2" x2="532.4" y2="268.6"/><line x1="532.4" y1="279.8" x2="532.4" y2="282.7"/><polyline points="539.7,246.2 542.6,249.0 542.6,254.6 539.7,257.4 536.8,254.6 536.8,249.0 539.7,246.2"/><line x1="537.9" y1="249.8" x2="537.9" y2="253.8"/><polyline points="539.7,268.6 542.6,271.4 542.6,277.0 539.7,279.8 536.8,277.0 536.8,271.4 539.7,268.6"/><line x1="537.9" y1="272.2" x2="537.9" y2="276.2"/><line x1="539.7" y1="243" x2="539.7" y2="246.2"/><line x1="539.7" y1="257.4" x2="538.5" y2="261"/><line x1="538.5" y1="261.5" x2="540.9000000000001" y2="265.8"/><line x1="540.9000000000001" y1="266.2" x2="539.7" y2="268.6"/><line x1="539.7" y1="279.8" x2="539.7" y2="282.7"/></g>
<text x="511.3" y="242.3" font-size="3.0" text-anchor="middle" fill="#333" >NO<tspan font-size="2.2" dy="0.6">2</tspan></text>
<text x="508.7" y="262.2" font-size="2.6" text-anchor="middle" fill="#333" >N</text>
<text x="514.1" y="266.8" font-size="2.6" text-anchor="middle" fill="#333" >N</text>
<text x="521.8" y="242.3" font-size="3.0" text-anchor="middle" fill="#333" >NO<tspan font-size="2.2" dy="0.6">2</tspan></text>
<text x="519.1999999999999" y="262.2" font-size="2.6" text-anchor="middle" fill="#333" >N</text>
<text x="524.5999999999999" y="266.8" font-size="2.6" text-anchor="middle" fill="#333" >N</text>
<text x="532.4" y="242.3" font-size="3.0" text-anchor="middle" fill="#333" >NO<tspan font-size="2.2" dy="0.6">2</tspan></text>
<text x="529.8" y="262.2" font-size="2.6" text-anchor="middle" fill="#333" >N</text>
<text x="535.1999999999999" y="266.8" font-size="2.6" text-anchor="middle" fill="#333" >N</text>
<text x="539.7" y="242.3" font-size="3.0" text-anchor="middle" fill="#333" >NO<tspan font-size="2.2" dy="0.6">2</tspan></text>
<text x="537.1" y="262.2" font-size="2.6" text-anchor="middle" fill="#333" >N</text>
<text x="542.5" y="266.8" font-size="2.6" text-anchor="middle" fill="#333" >N</text>
<line x1="501.3" y1="242" x2="501.3" y2="282" stroke="#444" stroke-width="0.6"/>
<text x="0" y="0" font-size="4.6" text-anchor="middle" font-style="italic" fill="#333" transform="translate(503.6 256.5) rotate(-90)">4-60 nm</text>
<g stroke="#8a8a8a" stroke-width="0.9" fill="none"><line x1="412" y1="247" x2="442.5" y2="242.2"/><line x1="476" y1="234.3" x2="497" y2="230.3"/><line x1="395" y1="256.6" x2="445.5" y2="256.6"/><line x1="471.8" y1="256.6" x2="497" y2="256.6"/><line x1="410.4" y1="267.3" x2="435.4" y2="276"/><line x1="476.6" y1="288.8" x2="497" y2="294"/><line x1="414.5" y1="228.6" x2="452.2" y2="228.6"/></g>
<circle cx="497.3" cy="230.3" r="0.9" fill="#777"/>
<circle cx="497.3" cy="256.6" r="0.9" fill="#777"/>
<circle cx="497.3" cy="294" r="0.9" fill="#777"/>
<text x="0" y="0" font-size="5.75" text-anchor="start" font-weight="bold" font-style="italic" fill="#222" transform="translate(443.9 243.8) rotate(-14.7)">top contact</text>
<text x="447.6" y="258.7" font-size="5.6" text-anchor="start" font-weight="bold" font-style="italic" fill="#222" textLength="21.6" lengthAdjust="spacingAndGlyphs">junction</text>
<text x="0" y="0" font-size="5.75" text-anchor="start" font-weight="bold" font-style="italic" fill="#222" transform="translate(436.6 277.6) rotate(15.8)">bottom contact</text>
<text x="369.9" y="296.7" font-size="8.0" text-anchor="start" font-weight="bold" font-style="italic" fill="#ee1c24" textLength="53.4" lengthAdjust="spacingAndGlyphs">Top, tilted view</text>
<text x="501.5" y="315.7" font-size="7.6" text-anchor="start" font-weight="bold" font-style="italic" fill="#ee1c24" textLength="33.2" lengthAdjust="spacingAndGlyphs">Side view</text>
</svg></body></html>
